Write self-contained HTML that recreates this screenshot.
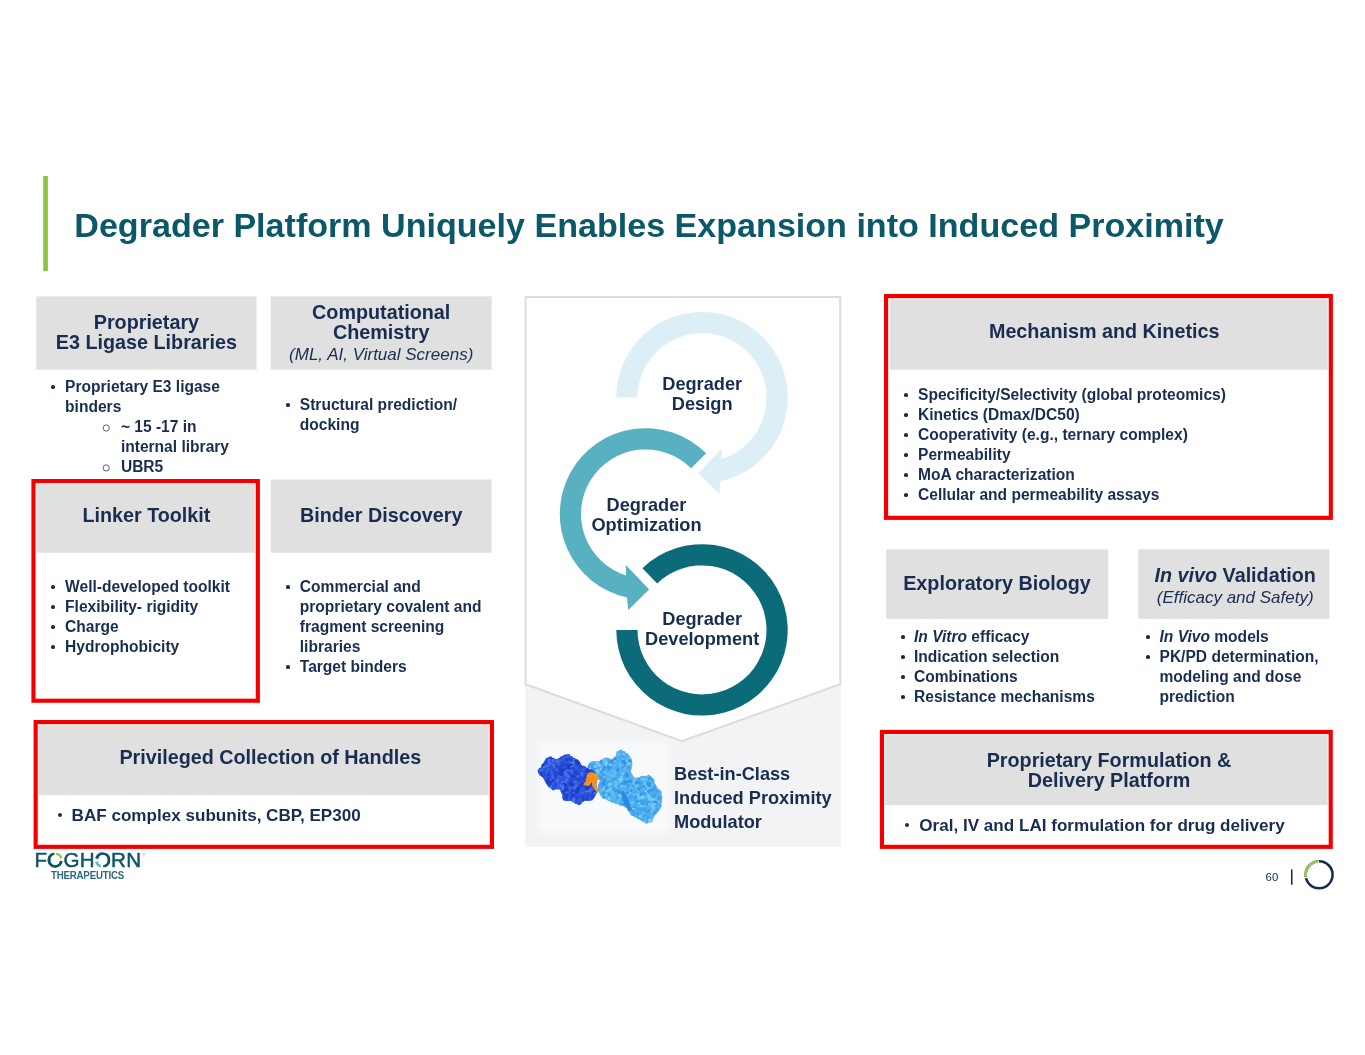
<!DOCTYPE html>
<html lang="en"><head><meta charset="utf-8"><title>Degrader Platform Uniquely Enables Expansion into Induced Proximity</title>
<style>
html,body{margin:0;padding:0;background:#fff;overflow:hidden;}
body{width:1365px;height:1055px;position:relative;overflow:hidden;font-family:"Liberation Sans",Arial,sans-serif;color:#182d50;}
svg.bg,svg.fg{position:absolute;left:0;top:0;}
.txt{position:absolute;left:0;top:0;width:1365px;height:1055px;overflow:hidden;will-change:transform;}
.t{position:absolute;margin:0;padding:0;white-space:nowrap;font-weight:bold;}
.title{color:#0a5868;}
.sub{font-weight:normal;font-style:italic;}
ul.b{list-style:none;}
ul.b li{position:relative;}
ul.b li::before{content:"";position:absolute;width:0.24em;height:0.24em;border-radius:50%;background:#182d50;left:calc(-1*var(--d) - 0.12em);top:var(--y);}
ul.sub2 li::before{display:none;}
.pg{font-weight:normal;}
.logo{font-weight:normal;color:#0e566a;letter-spacing:0.2px;-webkit-text-stroke:0.5px #0e566a;}
.reg{font-size:4px;-webkit-text-stroke:0;position:relative;top:-11px;left:1px;color:#6a8a96;letter-spacing:0}
.logo2{font-weight:bold;color:#2a6a80;letter-spacing:-0.2px;transform:scaleY(1.1);transform-origin:0 80%;}
</style></head>
<body>
<svg class="bg" width="1365" height="1055" viewBox="0 0 1365 1055">
<rect x="43.2" y="176" width="4.70" height="95.00" fill="#8cc63f"/>
<rect x="36.2" y="296.4" width="220.40" height="73.30" fill="#e0e0e0"/>
<rect x="270.7" y="296.4" width="220.90" height="73.30" fill="#e0e0e0"/>
<rect x="36.2" y="479.5" width="220.40" height="73.20" fill="#e0e0e0"/>
<rect x="270.7" y="479.5" width="220.90" height="73.20" fill="#e0e0e0"/>
<rect x="36.2" y="722" width="455.40" height="73.10" fill="#e0e0e0"/>
<rect x="889.6" y="297" width="439.80" height="72.70" fill="#e0e0e0"/>
<rect x="886.2" y="549.4" width="222.10" height="69.50" fill="#e0e0e0"/>
<rect x="1138.3" y="549.4" width="191.10" height="69.50" fill="#e0e0e0"/>
<rect x="882" y="732" width="447.40" height="73.10" fill="#e0e0e0"/>
<rect x="36.10" y="483.70" width="219.10" height="214.40" fill="none" stroke="#fff4f2" stroke-opacity="0.7" stroke-width="1.4"/>
<rect x="33.45" y="481.05" width="224.40" height="219.70" fill="none" stroke="#f20000" stroke-width="4.1"/>
<rect x="38.30" y="724.70" width="451.00" height="119.50" fill="none" stroke="#fff4f2" stroke-opacity="0.7" stroke-width="1.4"/>
<rect x="35.65" y="722.05" width="456.30" height="124.80" fill="none" stroke="#f20000" stroke-width="4.1"/>
<rect x="888.70" y="298.70" width="439.50" height="216.50" fill="none" stroke="#fff4f2" stroke-opacity="0.7" stroke-width="1.4"/>
<rect x="886.05" y="296.05" width="444.80" height="221.80" fill="none" stroke="#f20000" stroke-width="4.1"/>
<rect x="884.60" y="734.60" width="443.50" height="109.60" fill="none" stroke="#fff4f2" stroke-opacity="0.7" stroke-width="1.4"/>
<rect x="881.95" y="731.95" width="448.80" height="114.90" fill="none" stroke="#f20000" stroke-width="4.1"/>
<rect x="525" y="296.4" width="315.80" height="550.40" fill="#f2f3f5"/>
<path d="M525.6,297 L840.2,297 L840.2,684.3 L681.9,741.1 L525.6,684.3 Z" fill="#ffffff" stroke="#dcdcdc" stroke-width="2" stroke-linejoin="miter"/>
<path d="M616.30,397.60 A85.7,85.7 0 1 1 720.55,481.27 L719.28,493.66 L698.30,473.21 L721.64,448.76 L721.50,459.08 A64.5,64.5 0 1 0 637.50,397.60 Z" fill="#dceef6"/>
<path d="M706.10,453.30 A85.7,85.7 0 1 0 626.95,597.57 L628.22,609.96 L649.20,589.51 L625.86,565.06 L626.00,575.38 A64.5,64.5 0 1 1 691.11,468.29 Z" fill="#57b1c1"/>
<path d="M642.47,568.25 A85.7,85.7 0 1 1 616.30,629.90 L637.50,629.90 A64.5,64.5 0 1 0 657.19,583.50 Z" fill="#0b6b78"/>
<defs><filter id="soft" x="-20%" y="-20%" width="140%" height="140%"><feGaussianBlur stdDeviation="3"/></filter></defs>
<rect x="538" y="742" width="132" height="90" fill="#f8f9fa" filter="url(#soft)"/>
<circle cx="621.0" cy="751.3" r="1.7" fill="#52b2f0"/><circle cx="618.2" cy="753.0" r="2.0" fill="#52b2f0"/><circle cx="620.1" cy="753.0" r="2.0" fill="#52b2f0"/><circle cx="622.0" cy="753.0" r="2.0" fill="#52b2f0"/><circle cx="623.9" cy="753.0" r="2.0" fill="#52b2f0"/><circle cx="617.2" cy="754.7" r="1.5" fill="#4caeee"/><circle cx="619.1" cy="754.7" r="2.0" fill="#52b2f0"/><circle cx="621.0" cy="754.7" r="2.0" fill="#52b2f0"/><circle cx="622.9" cy="754.7" r="2.0" fill="#52b2f0"/><circle cx="624.8" cy="754.7" r="2.0" fill="#52b2f0"/><circle cx="626.7" cy="754.7" r="1.6" fill="#52b2f0"/><circle cx="618.2" cy="756.3" r="2.0" fill="#52b2f0"/><circle cx="620.1" cy="756.3" r="2.0" fill="#52b2f0"/><circle cx="622.0" cy="756.3" r="2.0" fill="#52b2f0"/><circle cx="623.9" cy="756.3" r="2.0" fill="#52b2f0"/><circle cx="625.8" cy="756.3" r="2.0" fill="#52b2f0"/><circle cx="627.7" cy="756.3" r="1.8" fill="#3f9fe8"/><circle cx="615.3" cy="758.0" r="1.6" fill="#4caeee"/><circle cx="617.2" cy="758.0" r="2.0" fill="#52b2f0"/><circle cx="619.1" cy="758.0" r="2.0" fill="#52b2f0"/><circle cx="621.0" cy="758.0" r="2.0" fill="#52b2f0"/><circle cx="622.9" cy="758.0" r="2.0" fill="#52b2f0"/><circle cx="624.8" cy="758.0" r="2.0" fill="#52b2f0"/><circle cx="626.7" cy="758.0" r="2.0" fill="#52b2f0"/><circle cx="628.6" cy="758.0" r="1.9" fill="#4caeee"/><circle cx="604.9" cy="759.6" r="1.8" fill="#3f9fe8"/><circle cx="606.8" cy="759.6" r="2.0" fill="#52b2f0"/><circle cx="608.7" cy="759.6" r="1.5" fill="#4caeee"/><circle cx="614.4" cy="759.6" r="2.0" fill="#52b2f0"/><circle cx="616.3" cy="759.6" r="2.0" fill="#52b2f0"/><circle cx="618.2" cy="759.6" r="2.0" fill="#52b2f0"/><circle cx="620.1" cy="759.6" r="2.0" fill="#52b2f0"/><circle cx="622.0" cy="759.6" r="2.0" fill="#52b2f0"/><circle cx="623.9" cy="759.6" r="2.0" fill="#52b2f0"/><circle cx="625.8" cy="759.6" r="2.0" fill="#52b2f0"/><circle cx="627.7" cy="759.6" r="2.0" fill="#52b2f0"/><circle cx="629.6" cy="759.6" r="2.0" fill="#52b2f0"/><circle cx="602.0" cy="761.3" r="2.0" fill="#52b2f0"/><circle cx="603.9" cy="761.3" r="2.0" fill="#52b2f0"/><circle cx="605.8" cy="761.3" r="2.0" fill="#52b2f0"/><circle cx="607.7" cy="761.3" r="2.0" fill="#52b2f0"/><circle cx="609.6" cy="761.3" r="2.0" fill="#52b2f0"/><circle cx="611.5" cy="761.3" r="2.0" fill="#52b2f0"/><circle cx="613.4" cy="761.3" r="2.0" fill="#52b2f0"/><circle cx="615.3" cy="761.3" r="2.0" fill="#52b2f0"/><circle cx="617.2" cy="761.3" r="2.0" fill="#52b2f0"/><circle cx="619.1" cy="761.3" r="2.0" fill="#52b2f0"/><circle cx="621.0" cy="761.3" r="2.0" fill="#52b2f0"/><circle cx="622.9" cy="761.3" r="2.0" fill="#52b2f0"/><circle cx="624.8" cy="761.3" r="2.0" fill="#52b2f0"/><circle cx="626.7" cy="761.3" r="2.0" fill="#52b2f0"/><circle cx="628.6" cy="761.3" r="2.0" fill="#52b2f0"/><circle cx="630.5" cy="761.3" r="1.6" fill="#52b2f0"/><circle cx="591.6" cy="762.9" r="1.4" fill="#3f9fe8"/><circle cx="593.5" cy="762.9" r="2.0" fill="#4caeee"/><circle cx="595.4" cy="762.9" r="2.0" fill="#52b2f0"/><circle cx="597.3" cy="762.9" r="2.0" fill="#52b2f0"/><circle cx="599.2" cy="762.9" r="2.0" fill="#52b2f0"/><circle cx="601.1" cy="762.9" r="2.0" fill="#52b2f0"/><circle cx="603.0" cy="762.9" r="2.0" fill="#52b2f0"/><circle cx="604.9" cy="762.9" r="2.0" fill="#52b2f0"/><circle cx="606.8" cy="762.9" r="2.0" fill="#52b2f0"/><circle cx="608.7" cy="762.9" r="2.0" fill="#52b2f0"/><circle cx="610.6" cy="762.9" r="2.0" fill="#52b2f0"/><circle cx="612.5" cy="762.9" r="2.0" fill="#52b2f0"/><circle cx="614.4" cy="762.9" r="2.0" fill="#52b2f0"/><circle cx="616.3" cy="762.9" r="2.0" fill="#52b2f0"/><circle cx="618.2" cy="762.9" r="2.0" fill="#52b2f0"/><circle cx="620.1" cy="762.9" r="2.0" fill="#52b2f0"/><circle cx="622.0" cy="762.9" r="2.0" fill="#52b2f0"/><circle cx="623.9" cy="762.9" r="2.0" fill="#52b2f0"/><circle cx="625.8" cy="762.9" r="2.0" fill="#52b2f0"/><circle cx="627.7" cy="762.9" r="2.0" fill="#52b2f0"/><circle cx="629.6" cy="762.9" r="2.0" fill="#52b2f0"/><circle cx="590.6" cy="764.6" r="2.0" fill="#52b2f0"/><circle cx="592.5" cy="764.6" r="2.0" fill="#52b2f0"/><circle cx="594.4" cy="764.6" r="2.0" fill="#52b2f0"/><circle cx="596.3" cy="764.6" r="2.0" fill="#52b2f0"/><circle cx="598.2" cy="764.6" r="2.0" fill="#52b2f0"/><circle cx="600.1" cy="764.6" r="2.0" fill="#52b2f0"/><circle cx="602.0" cy="764.6" r="2.0" fill="#52b2f0"/><circle cx="603.9" cy="764.6" r="2.0" fill="#52b2f0"/><circle cx="605.8" cy="764.6" r="2.0" fill="#52b2f0"/><circle cx="607.7" cy="764.6" r="2.0" fill="#52b2f0"/><circle cx="609.6" cy="764.6" r="2.0" fill="#52b2f0"/><circle cx="611.5" cy="764.6" r="2.0" fill="#52b2f0"/><circle cx="613.4" cy="764.6" r="2.0" fill="#52b2f0"/><circle cx="615.3" cy="764.6" r="2.0" fill="#52b2f0"/><circle cx="617.2" cy="764.6" r="2.0" fill="#52b2f0"/><circle cx="619.1" cy="764.6" r="2.0" fill="#52b2f0"/><circle cx="621.0" cy="764.6" r="2.0" fill="#52b2f0"/><circle cx="622.9" cy="764.6" r="2.0" fill="#52b2f0"/><circle cx="624.8" cy="764.6" r="2.0" fill="#52b2f0"/><circle cx="626.7" cy="764.6" r="2.0" fill="#52b2f0"/><circle cx="628.6" cy="764.6" r="2.0" fill="#52b2f0"/><circle cx="630.5" cy="764.6" r="2.0" fill="#52b2f0"/><circle cx="589.7" cy="766.2" r="2.0" fill="#3f9fe8"/><circle cx="591.6" cy="766.2" r="2.0" fill="#52b2f0"/><circle cx="593.5" cy="766.2" r="2.0" fill="#52b2f0"/><circle cx="595.4" cy="766.2" r="2.0" fill="#52b2f0"/><circle cx="597.3" cy="766.2" r="2.0" fill="#52b2f0"/><circle cx="599.2" cy="766.2" r="2.0" fill="#52b2f0"/><circle cx="601.1" cy="766.2" r="2.0" fill="#52b2f0"/><circle cx="603.0" cy="766.2" r="2.0" fill="#52b2f0"/><circle cx="604.9" cy="766.2" r="2.0" fill="#52b2f0"/><circle cx="606.8" cy="766.2" r="2.0" fill="#52b2f0"/><circle cx="608.7" cy="766.2" r="2.0" fill="#52b2f0"/><circle cx="610.6" cy="766.2" r="2.0" fill="#52b2f0"/><circle cx="612.5" cy="766.2" r="2.0" fill="#52b2f0"/><circle cx="614.4" cy="766.2" r="2.0" fill="#52b2f0"/><circle cx="616.3" cy="766.2" r="2.0" fill="#52b2f0"/><circle cx="618.2" cy="766.2" r="2.0" fill="#52b2f0"/><circle cx="620.1" cy="766.2" r="2.0" fill="#52b2f0"/><circle cx="622.0" cy="766.2" r="2.0" fill="#52b2f0"/><circle cx="623.9" cy="766.2" r="2.0" fill="#52b2f0"/><circle cx="625.8" cy="766.2" r="2.0" fill="#52b2f0"/><circle cx="627.7" cy="766.2" r="2.0" fill="#52b2f0"/><circle cx="629.6" cy="766.2" r="2.0" fill="#52b2f0"/><circle cx="592.5" cy="767.9" r="1.9" fill="#4caeee"/><circle cx="594.4" cy="767.9" r="2.0" fill="#52b2f0"/><circle cx="596.3" cy="767.9" r="2.0" fill="#52b2f0"/><circle cx="598.2" cy="767.9" r="2.0" fill="#52b2f0"/><circle cx="600.1" cy="767.9" r="2.0" fill="#52b2f0"/><circle cx="602.0" cy="767.9" r="2.0" fill="#52b2f0"/><circle cx="603.9" cy="767.9" r="2.0" fill="#52b2f0"/><circle cx="605.8" cy="767.9" r="2.0" fill="#52b2f0"/><circle cx="607.7" cy="767.9" r="2.0" fill="#52b2f0"/><circle cx="609.6" cy="767.9" r="2.0" fill="#52b2f0"/><circle cx="611.5" cy="767.9" r="2.0" fill="#52b2f0"/><circle cx="613.4" cy="767.9" r="2.0" fill="#52b2f0"/><circle cx="615.3" cy="767.9" r="2.0" fill="#52b2f0"/><circle cx="617.2" cy="767.9" r="2.0" fill="#52b2f0"/><circle cx="619.1" cy="767.9" r="2.0" fill="#52b2f0"/><circle cx="621.0" cy="767.9" r="2.0" fill="#52b2f0"/><circle cx="622.9" cy="767.9" r="2.0" fill="#52b2f0"/><circle cx="624.8" cy="767.9" r="2.0" fill="#52b2f0"/><circle cx="626.7" cy="767.9" r="2.0" fill="#52b2f0"/><circle cx="628.6" cy="767.9" r="2.0" fill="#52b2f0"/><circle cx="630.5" cy="767.9" r="1.3" fill="#4caeee"/><circle cx="595.4" cy="769.5" r="2.0" fill="#52b2f0"/><circle cx="597.3" cy="769.5" r="2.0" fill="#52b2f0"/><circle cx="599.2" cy="769.5" r="2.0" fill="#52b2f0"/><circle cx="601.1" cy="769.5" r="2.0" fill="#52b2f0"/><circle cx="603.0" cy="769.5" r="2.0" fill="#52b2f0"/><circle cx="604.9" cy="769.5" r="2.0" fill="#52b2f0"/><circle cx="606.8" cy="769.5" r="2.0" fill="#52b2f0"/><circle cx="608.7" cy="769.5" r="2.0" fill="#52b2f0"/><circle cx="610.6" cy="769.5" r="2.0" fill="#52b2f0"/><circle cx="612.5" cy="769.5" r="2.0" fill="#52b2f0"/><circle cx="614.4" cy="769.5" r="2.0" fill="#52b2f0"/><circle cx="616.3" cy="769.5" r="2.0" fill="#52b2f0"/><circle cx="618.2" cy="769.5" r="2.0" fill="#52b2f0"/><circle cx="620.1" cy="769.5" r="2.0" fill="#52b2f0"/><circle cx="622.0" cy="769.5" r="2.0" fill="#52b2f0"/><circle cx="623.9" cy="769.5" r="2.0" fill="#52b2f0"/><circle cx="625.8" cy="769.5" r="2.0" fill="#52b2f0"/><circle cx="627.7" cy="769.5" r="2.0" fill="#52b2f0"/><circle cx="629.6" cy="769.5" r="1.8" fill="#4caeee"/><circle cx="596.3" cy="771.2" r="1.9" fill="#52b2f0"/><circle cx="598.2" cy="771.2" r="2.0" fill="#52b2f0"/><circle cx="600.1" cy="771.2" r="2.0" fill="#52b2f0"/><circle cx="602.0" cy="771.2" r="2.0" fill="#52b2f0"/><circle cx="603.9" cy="771.2" r="2.0" fill="#52b2f0"/><circle cx="605.8" cy="771.2" r="2.0" fill="#52b2f0"/><circle cx="607.7" cy="771.2" r="2.0" fill="#52b2f0"/><circle cx="609.6" cy="771.2" r="2.0" fill="#52b2f0"/><circle cx="611.5" cy="771.2" r="2.0" fill="#52b2f0"/><circle cx="613.4" cy="771.2" r="2.0" fill="#52b2f0"/><circle cx="615.3" cy="771.2" r="2.0" fill="#52b2f0"/><circle cx="617.2" cy="771.2" r="2.0" fill="#52b2f0"/><circle cx="619.1" cy="771.2" r="2.0" fill="#52b2f0"/><circle cx="621.0" cy="771.2" r="2.0" fill="#52b2f0"/><circle cx="622.9" cy="771.2" r="2.0" fill="#52b2f0"/><circle cx="624.8" cy="771.2" r="2.0" fill="#52b2f0"/><circle cx="626.7" cy="771.2" r="2.0" fill="#52b2f0"/><circle cx="628.6" cy="771.2" r="2.0" fill="#52b2f0"/><circle cx="597.3" cy="772.8" r="1.4" fill="#52b2f0"/><circle cx="599.2" cy="772.8" r="2.0" fill="#52b2f0"/><circle cx="601.1" cy="772.8" r="2.0" fill="#52b2f0"/><circle cx="603.0" cy="772.8" r="2.0" fill="#52b2f0"/><circle cx="604.9" cy="772.8" r="2.0" fill="#52b2f0"/><circle cx="606.8" cy="772.8" r="2.0" fill="#52b2f0"/><circle cx="608.7" cy="772.8" r="2.0" fill="#52b2f0"/><circle cx="610.6" cy="772.8" r="2.0" fill="#52b2f0"/><circle cx="612.5" cy="772.8" r="2.0" fill="#52b2f0"/><circle cx="614.4" cy="772.8" r="2.0" fill="#52b2f0"/><circle cx="616.3" cy="772.8" r="2.0" fill="#52b2f0"/><circle cx="618.2" cy="772.8" r="2.0" fill="#52b2f0"/><circle cx="620.1" cy="772.8" r="2.0" fill="#52b2f0"/><circle cx="622.0" cy="772.8" r="2.0" fill="#52b2f0"/><circle cx="623.9" cy="772.8" r="2.0" fill="#52b2f0"/><circle cx="625.8" cy="772.8" r="2.0" fill="#52b2f0"/><circle cx="627.7" cy="772.8" r="2.0" fill="#52b2f0"/><circle cx="629.6" cy="772.8" r="1.6" fill="#4caeee"/><circle cx="598.2" cy="774.5" r="1.4" fill="#4caeee"/><circle cx="600.1" cy="774.5" r="2.0" fill="#52b2f0"/><circle cx="602.0" cy="774.5" r="2.0" fill="#52b2f0"/><circle cx="603.9" cy="774.5" r="2.0" fill="#52b2f0"/><circle cx="605.8" cy="774.5" r="2.0" fill="#52b2f0"/><circle cx="607.7" cy="774.5" r="2.0" fill="#52b2f0"/><circle cx="609.6" cy="774.5" r="2.0" fill="#52b2f0"/><circle cx="611.5" cy="774.5" r="2.0" fill="#52b2f0"/><circle cx="613.4" cy="774.5" r="2.0" fill="#52b2f0"/><circle cx="615.3" cy="774.5" r="2.0" fill="#52b2f0"/><circle cx="617.2" cy="774.5" r="2.0" fill="#52b2f0"/><circle cx="619.1" cy="774.5" r="2.0" fill="#52b2f0"/><circle cx="621.0" cy="774.5" r="2.0" fill="#52b2f0"/><circle cx="622.9" cy="774.5" r="2.0" fill="#52b2f0"/><circle cx="624.8" cy="774.5" r="2.0" fill="#52b2f0"/><circle cx="626.7" cy="774.5" r="2.0" fill="#52b2f0"/><circle cx="628.6" cy="774.5" r="2.0" fill="#52b2f0"/><circle cx="630.5" cy="774.5" r="1.7" fill="#4caeee"/><circle cx="599.2" cy="776.1" r="1.5" fill="#3f9fe8"/><circle cx="601.1" cy="776.1" r="2.0" fill="#52b2f0"/><circle cx="603.0" cy="776.1" r="2.0" fill="#52b2f0"/><circle cx="604.9" cy="776.1" r="2.0" fill="#52b2f0"/><circle cx="606.8" cy="776.1" r="2.0" fill="#52b2f0"/><circle cx="608.7" cy="776.1" r="2.0" fill="#52b2f0"/><circle cx="610.6" cy="776.1" r="2.0" fill="#52b2f0"/><circle cx="612.5" cy="776.1" r="2.0" fill="#52b2f0"/><circle cx="614.4" cy="776.1" r="2.0" fill="#52b2f0"/><circle cx="616.3" cy="776.1" r="2.0" fill="#52b2f0"/><circle cx="618.2" cy="776.1" r="2.0" fill="#52b2f0"/><circle cx="620.1" cy="776.1" r="2.0" fill="#52b2f0"/><circle cx="622.0" cy="776.1" r="2.0" fill="#52b2f0"/><circle cx="623.9" cy="776.1" r="2.0" fill="#52b2f0"/><circle cx="625.8" cy="776.1" r="2.0" fill="#52b2f0"/><circle cx="627.7" cy="776.1" r="2.0" fill="#52b2f0"/><circle cx="629.6" cy="776.1" r="2.0" fill="#52b2f0"/><circle cx="631.5" cy="776.1" r="1.7" fill="#52b2f0"/><circle cx="648.6" cy="776.1" r="1.4" fill="#4caeee"/><circle cx="600.1" cy="777.8" r="1.6" fill="#3f9fe8"/><circle cx="602.0" cy="777.8" r="2.0" fill="#52b2f0"/><circle cx="603.9" cy="777.8" r="2.0" fill="#52b2f0"/><circle cx="605.8" cy="777.8" r="2.0" fill="#52b2f0"/><circle cx="607.7" cy="777.8" r="2.0" fill="#52b2f0"/><circle cx="609.6" cy="777.8" r="2.0" fill="#52b2f0"/><circle cx="611.5" cy="777.8" r="2.0" fill="#52b2f0"/><circle cx="613.4" cy="777.8" r="2.0" fill="#52b2f0"/><circle cx="615.3" cy="777.8" r="2.0" fill="#52b2f0"/><circle cx="617.2" cy="777.8" r="2.0" fill="#52b2f0"/><circle cx="619.1" cy="777.8" r="2.0" fill="#52b2f0"/><circle cx="621.0" cy="777.8" r="2.0" fill="#52b2f0"/><circle cx="622.9" cy="777.8" r="2.0" fill="#52b2f0"/><circle cx="624.8" cy="777.8" r="2.0" fill="#52b2f0"/><circle cx="626.7" cy="777.8" r="2.0" fill="#52b2f0"/><circle cx="628.6" cy="777.8" r="2.0" fill="#52b2f0"/><circle cx="630.5" cy="777.8" r="2.0" fill="#52b2f0"/><circle cx="632.4" cy="777.8" r="1.8" fill="#4caeee"/><circle cx="641.9" cy="777.8" r="2.0" fill="#52b2f0"/><circle cx="643.8" cy="777.8" r="2.0" fill="#52b2f0"/><circle cx="645.7" cy="777.8" r="2.0" fill="#52b2f0"/><circle cx="647.6" cy="777.8" r="2.0" fill="#52b2f0"/><circle cx="649.5" cy="777.8" r="2.0" fill="#52b2f0"/><circle cx="601.1" cy="779.4" r="1.7" fill="#4caeee"/><circle cx="603.0" cy="779.4" r="2.0" fill="#52b2f0"/><circle cx="604.9" cy="779.4" r="2.0" fill="#52b2f0"/><circle cx="606.8" cy="779.4" r="2.0" fill="#52b2f0"/><circle cx="608.7" cy="779.4" r="2.0" fill="#52b2f0"/><circle cx="610.6" cy="779.4" r="2.0" fill="#52b2f0"/><circle cx="612.5" cy="779.4" r="2.0" fill="#52b2f0"/><circle cx="614.4" cy="779.4" r="2.0" fill="#52b2f0"/><circle cx="616.3" cy="779.4" r="2.0" fill="#52b2f0"/><circle cx="618.2" cy="779.4" r="2.0" fill="#52b2f0"/><circle cx="620.1" cy="779.4" r="2.0" fill="#52b2f0"/><circle cx="622.0" cy="779.4" r="2.0" fill="#52b2f0"/><circle cx="623.9" cy="779.4" r="2.0" fill="#52b2f0"/><circle cx="625.8" cy="779.4" r="2.0" fill="#52b2f0"/><circle cx="627.7" cy="779.4" r="2.0" fill="#52b2f0"/><circle cx="629.6" cy="779.4" r="2.0" fill="#52b2f0"/><circle cx="631.5" cy="779.4" r="2.0" fill="#52b2f0"/><circle cx="633.4" cy="779.4" r="2.0" fill="#52b2f0"/><circle cx="635.3" cy="779.4" r="2.0" fill="#52b2f0"/><circle cx="637.2" cy="779.4" r="2.0" fill="#52b2f0"/><circle cx="639.1" cy="779.4" r="1.9" fill="#3f9fe8"/><circle cx="641.0" cy="779.4" r="2.0" fill="#52b2f0"/><circle cx="642.9" cy="779.4" r="2.0" fill="#52b2f0"/><circle cx="644.8" cy="779.4" r="2.0" fill="#52b2f0"/><circle cx="646.7" cy="779.4" r="2.0" fill="#52b2f0"/><circle cx="648.6" cy="779.4" r="2.0" fill="#52b2f0"/><circle cx="650.5" cy="779.4" r="2.0" fill="#52b2f0"/><circle cx="652.4" cy="779.4" r="1.3" fill="#3f9fe8"/><circle cx="602.0" cy="781.1" r="2.0" fill="#52b2f0"/><circle cx="603.9" cy="781.1" r="2.0" fill="#52b2f0"/><circle cx="605.8" cy="781.1" r="2.0" fill="#52b2f0"/><circle cx="607.7" cy="781.1" r="2.0" fill="#52b2f0"/><circle cx="609.6" cy="781.1" r="2.0" fill="#52b2f0"/><circle cx="611.5" cy="781.1" r="2.0" fill="#52b2f0"/><circle cx="613.4" cy="781.1" r="2.0" fill="#52b2f0"/><circle cx="615.3" cy="781.1" r="2.0" fill="#52b2f0"/><circle cx="617.2" cy="781.1" r="2.0" fill="#52b2f0"/><circle cx="619.1" cy="781.1" r="2.0" fill="#52b2f0"/><circle cx="621.0" cy="781.1" r="2.0" fill="#52b2f0"/><circle cx="622.9" cy="781.1" r="2.0" fill="#52b2f0"/><circle cx="624.8" cy="781.1" r="2.0" fill="#52b2f0"/><circle cx="626.7" cy="781.1" r="2.0" fill="#52b2f0"/><circle cx="628.6" cy="781.1" r="2.0" fill="#52b2f0"/><circle cx="630.5" cy="781.1" r="2.0" fill="#52b2f0"/><circle cx="632.4" cy="781.1" r="2.0" fill="#52b2f0"/><circle cx="634.3" cy="781.1" r="2.0" fill="#52b2f0"/><circle cx="636.2" cy="781.1" r="2.0" fill="#52b2f0"/><circle cx="638.1" cy="781.1" r="2.0" fill="#52b2f0"/><circle cx="640.0" cy="781.1" r="2.0" fill="#52b2f0"/><circle cx="641.9" cy="781.1" r="2.0" fill="#52b2f0"/><circle cx="643.8" cy="781.1" r="2.0" fill="#52b2f0"/><circle cx="645.7" cy="781.1" r="2.0" fill="#52b2f0"/><circle cx="647.6" cy="781.1" r="2.0" fill="#52b2f0"/><circle cx="649.5" cy="781.1" r="2.0" fill="#52b2f0"/><circle cx="651.4" cy="781.1" r="2.0" fill="#52b2f0"/><circle cx="653.3" cy="781.1" r="1.4" fill="#3f9fe8"/><circle cx="601.1" cy="782.8" r="2.0" fill="#52b2f0"/><circle cx="603.0" cy="782.8" r="2.0" fill="#52b2f0"/><circle cx="604.9" cy="782.8" r="2.0" fill="#52b2f0"/><circle cx="606.8" cy="782.8" r="2.0" fill="#52b2f0"/><circle cx="608.7" cy="782.8" r="2.0" fill="#52b2f0"/><circle cx="610.6" cy="782.8" r="2.0" fill="#52b2f0"/><circle cx="612.5" cy="782.8" r="2.0" fill="#52b2f0"/><circle cx="614.4" cy="782.8" r="2.0" fill="#52b2f0"/><circle cx="616.3" cy="782.8" r="2.0" fill="#52b2f0"/><circle cx="618.2" cy="782.8" r="2.0" fill="#52b2f0"/><circle cx="620.1" cy="782.8" r="2.0" fill="#52b2f0"/><circle cx="622.0" cy="782.8" r="2.0" fill="#52b2f0"/><circle cx="623.9" cy="782.8" r="2.0" fill="#52b2f0"/><circle cx="625.8" cy="782.8" r="2.0" fill="#52b2f0"/><circle cx="627.7" cy="782.8" r="2.0" fill="#52b2f0"/><circle cx="629.6" cy="782.8" r="2.0" fill="#52b2f0"/><circle cx="631.5" cy="782.8" r="2.0" fill="#52b2f0"/><circle cx="633.4" cy="782.8" r="2.0" fill="#52b2f0"/><circle cx="635.3" cy="782.8" r="2.0" fill="#52b2f0"/><circle cx="637.2" cy="782.8" r="2.0" fill="#52b2f0"/><circle cx="639.1" cy="782.8" r="2.0" fill="#52b2f0"/><circle cx="641.0" cy="782.8" r="2.0" fill="#52b2f0"/><circle cx="642.9" cy="782.8" r="2.0" fill="#52b2f0"/><circle cx="644.8" cy="782.8" r="2.0" fill="#52b2f0"/><circle cx="646.7" cy="782.8" r="2.0" fill="#52b2f0"/><circle cx="648.6" cy="782.8" r="2.0" fill="#52b2f0"/><circle cx="650.5" cy="782.8" r="2.0" fill="#52b2f0"/><circle cx="652.4" cy="782.8" r="2.0" fill="#52b2f0"/><circle cx="600.1" cy="784.4" r="1.9" fill="#4caeee"/><circle cx="602.0" cy="784.4" r="2.0" fill="#52b2f0"/><circle cx="603.9" cy="784.4" r="2.0" fill="#52b2f0"/><circle cx="605.8" cy="784.4" r="2.0" fill="#52b2f0"/><circle cx="607.7" cy="784.4" r="2.0" fill="#52b2f0"/><circle cx="609.6" cy="784.4" r="2.0" fill="#52b2f0"/><circle cx="611.5" cy="784.4" r="2.0" fill="#52b2f0"/><circle cx="613.4" cy="784.4" r="2.0" fill="#52b2f0"/><circle cx="615.3" cy="784.4" r="2.0" fill="#52b2f0"/><circle cx="617.2" cy="784.4" r="2.0" fill="#52b2f0"/><circle cx="619.1" cy="784.4" r="2.0" fill="#52b2f0"/><circle cx="621.0" cy="784.4" r="2.0" fill="#52b2f0"/><circle cx="622.9" cy="784.4" r="2.0" fill="#52b2f0"/><circle cx="624.8" cy="784.4" r="2.0" fill="#52b2f0"/><circle cx="626.7" cy="784.4" r="2.0" fill="#52b2f0"/><circle cx="628.6" cy="784.4" r="2.0" fill="#52b2f0"/><circle cx="630.5" cy="784.4" r="2.0" fill="#52b2f0"/><circle cx="632.4" cy="784.4" r="2.0" fill="#52b2f0"/><circle cx="634.3" cy="784.4" r="2.0" fill="#52b2f0"/><circle cx="636.2" cy="784.4" r="2.0" fill="#52b2f0"/><circle cx="638.1" cy="784.4" r="2.0" fill="#52b2f0"/><circle cx="640.0" cy="784.4" r="2.0" fill="#52b2f0"/><circle cx="641.9" cy="784.4" r="2.0" fill="#52b2f0"/><circle cx="643.8" cy="784.4" r="2.0" fill="#52b2f0"/><circle cx="645.7" cy="784.4" r="2.0" fill="#52b2f0"/><circle cx="647.6" cy="784.4" r="2.0" fill="#52b2f0"/><circle cx="649.5" cy="784.4" r="2.0" fill="#52b2f0"/><circle cx="651.4" cy="784.4" r="2.0" fill="#52b2f0"/><circle cx="653.3" cy="784.4" r="2.0" fill="#52b2f0"/><circle cx="599.2" cy="786.1" r="1.5" fill="#3f9fe8"/><circle cx="601.1" cy="786.1" r="2.0" fill="#52b2f0"/><circle cx="603.0" cy="786.1" r="2.0" fill="#52b2f0"/><circle cx="604.9" cy="786.1" r="2.0" fill="#52b2f0"/><circle cx="606.8" cy="786.1" r="2.0" fill="#52b2f0"/><circle cx="608.7" cy="786.1" r="2.0" fill="#52b2f0"/><circle cx="610.6" cy="786.1" r="2.0" fill="#52b2f0"/><circle cx="612.5" cy="786.1" r="2.0" fill="#52b2f0"/><circle cx="614.4" cy="786.1" r="2.0" fill="#52b2f0"/><circle cx="616.3" cy="786.1" r="2.0" fill="#52b2f0"/><circle cx="618.2" cy="786.1" r="2.0" fill="#52b2f0"/><circle cx="620.1" cy="786.1" r="2.0" fill="#52b2f0"/><circle cx="622.0" cy="786.1" r="2.0" fill="#52b2f0"/><circle cx="623.9" cy="786.1" r="2.0" fill="#52b2f0"/><circle cx="625.8" cy="786.1" r="2.0" fill="#52b2f0"/><circle cx="627.7" cy="786.1" r="2.0" fill="#52b2f0"/><circle cx="629.6" cy="786.1" r="2.0" fill="#52b2f0"/><circle cx="631.5" cy="786.1" r="2.0" fill="#52b2f0"/><circle cx="633.4" cy="786.1" r="2.0" fill="#52b2f0"/><circle cx="635.3" cy="786.1" r="2.0" fill="#52b2f0"/><circle cx="637.2" cy="786.1" r="2.0" fill="#52b2f0"/><circle cx="639.1" cy="786.1" r="2.0" fill="#52b2f0"/><circle cx="641.0" cy="786.1" r="2.0" fill="#52b2f0"/><circle cx="642.9" cy="786.1" r="2.0" fill="#52b2f0"/><circle cx="644.8" cy="786.1" r="2.0" fill="#52b2f0"/><circle cx="646.7" cy="786.1" r="2.0" fill="#52b2f0"/><circle cx="648.6" cy="786.1" r="2.0" fill="#52b2f0"/><circle cx="650.5" cy="786.1" r="2.0" fill="#52b2f0"/><circle cx="652.4" cy="786.1" r="2.0" fill="#52b2f0"/><circle cx="654.3" cy="786.1" r="2.0" fill="#52b2f0"/><circle cx="600.1" cy="787.7" r="2.0" fill="#52b2f0"/><circle cx="602.0" cy="787.7" r="2.0" fill="#52b2f0"/><circle cx="603.9" cy="787.7" r="2.0" fill="#52b2f0"/><circle cx="605.8" cy="787.7" r="2.0" fill="#52b2f0"/><circle cx="607.7" cy="787.7" r="2.0" fill="#52b2f0"/><circle cx="609.6" cy="787.7" r="2.0" fill="#52b2f0"/><circle cx="611.5" cy="787.7" r="2.0" fill="#52b2f0"/><circle cx="613.4" cy="787.7" r="2.0" fill="#52b2f0"/><circle cx="615.3" cy="787.7" r="2.0" fill="#52b2f0"/><circle cx="617.2" cy="787.7" r="2.0" fill="#52b2f0"/><circle cx="619.1" cy="787.7" r="2.0" fill="#52b2f0"/><circle cx="621.0" cy="787.7" r="2.0" fill="#52b2f0"/><circle cx="622.9" cy="787.7" r="2.0" fill="#52b2f0"/><circle cx="624.8" cy="787.7" r="2.0" fill="#52b2f0"/><circle cx="626.7" cy="787.7" r="2.0" fill="#52b2f0"/><circle cx="628.6" cy="787.7" r="2.0" fill="#52b2f0"/><circle cx="630.5" cy="787.7" r="2.0" fill="#52b2f0"/><circle cx="632.4" cy="787.7" r="2.0" fill="#52b2f0"/><circle cx="634.3" cy="787.7" r="2.0" fill="#52b2f0"/><circle cx="636.2" cy="787.7" r="2.0" fill="#52b2f0"/><circle cx="638.1" cy="787.7" r="2.0" fill="#52b2f0"/><circle cx="640.0" cy="787.7" r="2.0" fill="#52b2f0"/><circle cx="641.9" cy="787.7" r="2.0" fill="#52b2f0"/><circle cx="643.8" cy="787.7" r="2.0" fill="#52b2f0"/><circle cx="645.7" cy="787.7" r="2.0" fill="#52b2f0"/><circle cx="647.6" cy="787.7" r="2.0" fill="#52b2f0"/><circle cx="649.5" cy="787.7" r="2.0" fill="#52b2f0"/><circle cx="651.4" cy="787.7" r="2.0" fill="#52b2f0"/><circle cx="653.3" cy="787.7" r="2.0" fill="#52b2f0"/><circle cx="655.2" cy="787.7" r="2.0" fill="#52b2f0"/><circle cx="599.2" cy="789.4" r="1.4" fill="#3f9fe8"/><circle cx="601.1" cy="789.4" r="2.0" fill="#52b2f0"/><circle cx="603.0" cy="789.4" r="2.0" fill="#52b2f0"/><circle cx="604.9" cy="789.4" r="2.0" fill="#52b2f0"/><circle cx="606.8" cy="789.4" r="2.0" fill="#52b2f0"/><circle cx="608.7" cy="789.4" r="2.0" fill="#52b2f0"/><circle cx="610.6" cy="789.4" r="2.0" fill="#52b2f0"/><circle cx="612.5" cy="789.4" r="2.0" fill="#52b2f0"/><circle cx="614.4" cy="789.4" r="2.0" fill="#52b2f0"/><circle cx="616.3" cy="789.4" r="2.0" fill="#52b2f0"/><circle cx="618.2" cy="789.4" r="2.0" fill="#52b2f0"/><circle cx="620.1" cy="789.4" r="2.0" fill="#52b2f0"/><circle cx="622.0" cy="789.4" r="2.0" fill="#52b2f0"/><circle cx="623.9" cy="789.4" r="2.0" fill="#52b2f0"/><circle cx="625.8" cy="789.4" r="2.0" fill="#52b2f0"/><circle cx="627.7" cy="789.4" r="2.0" fill="#52b2f0"/><circle cx="629.6" cy="789.4" r="2.0" fill="#52b2f0"/><circle cx="631.5" cy="789.4" r="2.0" fill="#52b2f0"/><circle cx="633.4" cy="789.4" r="2.0" fill="#52b2f0"/><circle cx="635.3" cy="789.4" r="2.0" fill="#52b2f0"/><circle cx="637.2" cy="789.4" r="2.0" fill="#52b2f0"/><circle cx="639.1" cy="789.4" r="2.0" fill="#52b2f0"/><circle cx="641.0" cy="789.4" r="2.0" fill="#52b2f0"/><circle cx="642.9" cy="789.4" r="2.0" fill="#52b2f0"/><circle cx="644.8" cy="789.4" r="2.0" fill="#52b2f0"/><circle cx="646.7" cy="789.4" r="2.0" fill="#52b2f0"/><circle cx="648.6" cy="789.4" r="2.0" fill="#52b2f0"/><circle cx="650.5" cy="789.4" r="2.0" fill="#52b2f0"/><circle cx="652.4" cy="789.4" r="2.0" fill="#52b2f0"/><circle cx="654.3" cy="789.4" r="2.0" fill="#52b2f0"/><circle cx="656.2" cy="789.4" r="2.0" fill="#52b2f0"/><circle cx="600.1" cy="791.0" r="2.0" fill="#52b2f0"/><circle cx="602.0" cy="791.0" r="2.0" fill="#52b2f0"/><circle cx="603.9" cy="791.0" r="2.0" fill="#52b2f0"/><circle cx="605.8" cy="791.0" r="2.0" fill="#52b2f0"/><circle cx="607.7" cy="791.0" r="2.0" fill="#52b2f0"/><circle cx="609.6" cy="791.0" r="2.0" fill="#52b2f0"/><circle cx="611.5" cy="791.0" r="2.0" fill="#52b2f0"/><circle cx="613.4" cy="791.0" r="2.0" fill="#52b2f0"/><circle cx="615.3" cy="791.0" r="2.0" fill="#52b2f0"/><circle cx="617.2" cy="791.0" r="2.0" fill="#52b2f0"/><circle cx="619.1" cy="791.0" r="2.0" fill="#52b2f0"/><circle cx="621.0" cy="791.0" r="2.0" fill="#52b2f0"/><circle cx="622.9" cy="791.0" r="2.0" fill="#52b2f0"/><circle cx="624.8" cy="791.0" r="2.0" fill="#52b2f0"/><circle cx="626.7" cy="791.0" r="2.0" fill="#52b2f0"/><circle cx="628.6" cy="791.0" r="2.0" fill="#52b2f0"/><circle cx="630.5" cy="791.0" r="2.0" fill="#52b2f0"/><circle cx="632.4" cy="791.0" r="2.0" fill="#52b2f0"/><circle cx="634.3" cy="791.0" r="2.0" fill="#52b2f0"/><circle cx="636.2" cy="791.0" r="2.0" fill="#52b2f0"/><circle cx="638.1" cy="791.0" r="2.0" fill="#52b2f0"/><circle cx="640.0" cy="791.0" r="2.0" fill="#52b2f0"/><circle cx="641.9" cy="791.0" r="2.0" fill="#52b2f0"/><circle cx="643.8" cy="791.0" r="2.0" fill="#52b2f0"/><circle cx="645.7" cy="791.0" r="2.0" fill="#52b2f0"/><circle cx="647.6" cy="791.0" r="2.0" fill="#52b2f0"/><circle cx="649.5" cy="791.0" r="2.0" fill="#52b2f0"/><circle cx="651.4" cy="791.0" r="2.0" fill="#52b2f0"/><circle cx="653.3" cy="791.0" r="2.0" fill="#52b2f0"/><circle cx="655.2" cy="791.0" r="2.0" fill="#52b2f0"/><circle cx="657.1" cy="791.0" r="2.0" fill="#52b2f0"/><circle cx="659.0" cy="791.0" r="1.7" fill="#52b2f0"/><circle cx="601.1" cy="792.7" r="2.0" fill="#52b2f0"/><circle cx="603.0" cy="792.7" r="2.0" fill="#52b2f0"/><circle cx="604.9" cy="792.7" r="2.0" fill="#52b2f0"/><circle cx="606.8" cy="792.7" r="2.0" fill="#52b2f0"/><circle cx="608.7" cy="792.7" r="2.0" fill="#52b2f0"/><circle cx="610.6" cy="792.7" r="2.0" fill="#52b2f0"/><circle cx="612.5" cy="792.7" r="2.0" fill="#52b2f0"/><circle cx="614.4" cy="792.7" r="2.0" fill="#52b2f0"/><circle cx="616.3" cy="792.7" r="2.0" fill="#52b2f0"/><circle cx="618.2" cy="792.7" r="2.0" fill="#52b2f0"/><circle cx="620.1" cy="792.7" r="2.0" fill="#52b2f0"/><circle cx="622.0" cy="792.7" r="2.0" fill="#52b2f0"/><circle cx="623.9" cy="792.7" r="2.0" fill="#52b2f0"/><circle cx="625.8" cy="792.7" r="2.0" fill="#52b2f0"/><circle cx="627.7" cy="792.7" r="2.0" fill="#52b2f0"/><circle cx="629.6" cy="792.7" r="2.0" fill="#52b2f0"/><circle cx="631.5" cy="792.7" r="2.0" fill="#52b2f0"/><circle cx="633.4" cy="792.7" r="2.0" fill="#52b2f0"/><circle cx="635.3" cy="792.7" r="2.0" fill="#52b2f0"/><circle cx="637.2" cy="792.7" r="2.0" fill="#52b2f0"/><circle cx="639.1" cy="792.7" r="2.0" fill="#52b2f0"/><circle cx="641.0" cy="792.7" r="2.0" fill="#52b2f0"/><circle cx="642.9" cy="792.7" r="2.0" fill="#52b2f0"/><circle cx="644.8" cy="792.7" r="2.0" fill="#52b2f0"/><circle cx="646.7" cy="792.7" r="2.0" fill="#52b2f0"/><circle cx="648.6" cy="792.7" r="2.0" fill="#52b2f0"/><circle cx="650.5" cy="792.7" r="2.0" fill="#52b2f0"/><circle cx="652.4" cy="792.7" r="2.0" fill="#52b2f0"/><circle cx="654.3" cy="792.7" r="2.0" fill="#52b2f0"/><circle cx="656.2" cy="792.7" r="2.0" fill="#52b2f0"/><circle cx="658.1" cy="792.7" r="2.0" fill="#52b2f0"/><circle cx="660.0" cy="792.7" r="1.8" fill="#4caeee"/><circle cx="602.0" cy="794.3" r="2.0" fill="#52b2f0"/><circle cx="603.9" cy="794.3" r="2.0" fill="#52b2f0"/><circle cx="605.8" cy="794.3" r="2.0" fill="#52b2f0"/><circle cx="607.7" cy="794.3" r="2.0" fill="#52b2f0"/><circle cx="609.6" cy="794.3" r="2.0" fill="#52b2f0"/><circle cx="611.5" cy="794.3" r="2.0" fill="#52b2f0"/><circle cx="613.4" cy="794.3" r="2.0" fill="#52b2f0"/><circle cx="615.3" cy="794.3" r="2.0" fill="#52b2f0"/><circle cx="617.2" cy="794.3" r="2.0" fill="#52b2f0"/><circle cx="619.1" cy="794.3" r="2.0" fill="#52b2f0"/><circle cx="621.0" cy="794.3" r="2.0" fill="#52b2f0"/><circle cx="622.9" cy="794.3" r="2.0" fill="#52b2f0"/><circle cx="624.8" cy="794.3" r="2.0" fill="#52b2f0"/><circle cx="626.7" cy="794.3" r="2.0" fill="#52b2f0"/><circle cx="628.6" cy="794.3" r="2.0" fill="#52b2f0"/><circle cx="630.5" cy="794.3" r="2.0" fill="#52b2f0"/><circle cx="632.4" cy="794.3" r="2.0" fill="#52b2f0"/><circle cx="634.3" cy="794.3" r="2.0" fill="#52b2f0"/><circle cx="636.2" cy="794.3" r="2.0" fill="#52b2f0"/><circle cx="638.1" cy="794.3" r="2.0" fill="#52b2f0"/><circle cx="640.0" cy="794.3" r="2.0" fill="#52b2f0"/><circle cx="641.9" cy="794.3" r="2.0" fill="#52b2f0"/><circle cx="643.8" cy="794.3" r="2.0" fill="#52b2f0"/><circle cx="645.7" cy="794.3" r="2.0" fill="#52b2f0"/><circle cx="647.6" cy="794.3" r="2.0" fill="#52b2f0"/><circle cx="649.5" cy="794.3" r="2.0" fill="#52b2f0"/><circle cx="651.4" cy="794.3" r="2.0" fill="#52b2f0"/><circle cx="653.3" cy="794.3" r="2.0" fill="#52b2f0"/><circle cx="655.2" cy="794.3" r="2.0" fill="#52b2f0"/><circle cx="657.1" cy="794.3" r="2.0" fill="#52b2f0"/><circle cx="659.0" cy="794.3" r="2.0" fill="#52b2f0"/><circle cx="603.0" cy="796.0" r="2.0" fill="#4caeee"/><circle cx="604.9" cy="796.0" r="2.0" fill="#52b2f0"/><circle cx="606.8" cy="796.0" r="2.0" fill="#52b2f0"/><circle cx="608.7" cy="796.0" r="2.0" fill="#52b2f0"/><circle cx="610.6" cy="796.0" r="2.0" fill="#52b2f0"/><circle cx="612.5" cy="796.0" r="2.0" fill="#52b2f0"/><circle cx="614.4" cy="796.0" r="2.0" fill="#52b2f0"/><circle cx="616.3" cy="796.0" r="2.0" fill="#52b2f0"/><circle cx="618.2" cy="796.0" r="2.0" fill="#52b2f0"/><circle cx="620.1" cy="796.0" r="2.0" fill="#52b2f0"/><circle cx="622.0" cy="796.0" r="2.0" fill="#52b2f0"/><circle cx="623.9" cy="796.0" r="2.0" fill="#52b2f0"/><circle cx="625.8" cy="796.0" r="2.0" fill="#52b2f0"/><circle cx="627.7" cy="796.0" r="2.0" fill="#52b2f0"/><circle cx="629.6" cy="796.0" r="2.0" fill="#52b2f0"/><circle cx="631.5" cy="796.0" r="2.0" fill="#52b2f0"/><circle cx="633.4" cy="796.0" r="2.0" fill="#52b2f0"/><circle cx="635.3" cy="796.0" r="2.0" fill="#52b2f0"/><circle cx="637.2" cy="796.0" r="2.0" fill="#52b2f0"/><circle cx="639.1" cy="796.0" r="2.0" fill="#52b2f0"/><circle cx="641.0" cy="796.0" r="2.0" fill="#52b2f0"/><circle cx="642.9" cy="796.0" r="2.0" fill="#52b2f0"/><circle cx="644.8" cy="796.0" r="2.0" fill="#52b2f0"/><circle cx="646.7" cy="796.0" r="2.0" fill="#52b2f0"/><circle cx="648.6" cy="796.0" r="2.0" fill="#52b2f0"/><circle cx="650.5" cy="796.0" r="2.0" fill="#52b2f0"/><circle cx="652.4" cy="796.0" r="2.0" fill="#52b2f0"/><circle cx="654.3" cy="796.0" r="2.0" fill="#52b2f0"/><circle cx="656.2" cy="796.0" r="2.0" fill="#52b2f0"/><circle cx="658.1" cy="796.0" r="2.0" fill="#52b2f0"/><circle cx="660.0" cy="796.0" r="2.0" fill="#52b2f0"/><circle cx="603.9" cy="797.6" r="1.5" fill="#4caeee"/><circle cx="605.8" cy="797.6" r="2.0" fill="#52b2f0"/><circle cx="607.7" cy="797.6" r="2.0" fill="#52b2f0"/><circle cx="609.6" cy="797.6" r="2.0" fill="#52b2f0"/><circle cx="611.5" cy="797.6" r="2.0" fill="#52b2f0"/><circle cx="613.4" cy="797.6" r="2.0" fill="#52b2f0"/><circle cx="615.3" cy="797.6" r="2.0" fill="#52b2f0"/><circle cx="617.2" cy="797.6" r="2.0" fill="#52b2f0"/><circle cx="619.1" cy="797.6" r="2.0" fill="#52b2f0"/><circle cx="621.0" cy="797.6" r="2.0" fill="#52b2f0"/><circle cx="622.9" cy="797.6" r="2.0" fill="#52b2f0"/><circle cx="624.8" cy="797.6" r="2.0" fill="#52b2f0"/><circle cx="626.7" cy="797.6" r="2.0" fill="#52b2f0"/><circle cx="628.6" cy="797.6" r="2.0" fill="#52b2f0"/><circle cx="630.5" cy="797.6" r="2.0" fill="#52b2f0"/><circle cx="632.4" cy="797.6" r="2.0" fill="#52b2f0"/><circle cx="634.3" cy="797.6" r="2.0" fill="#52b2f0"/><circle cx="636.2" cy="797.6" r="2.0" fill="#52b2f0"/><circle cx="638.1" cy="797.6" r="2.0" fill="#52b2f0"/><circle cx="640.0" cy="797.6" r="2.0" fill="#52b2f0"/><circle cx="641.9" cy="797.6" r="2.0" fill="#52b2f0"/><circle cx="643.8" cy="797.6" r="2.0" fill="#52b2f0"/><circle cx="645.7" cy="797.6" r="2.0" fill="#52b2f0"/><circle cx="647.6" cy="797.6" r="2.0" fill="#52b2f0"/><circle cx="649.5" cy="797.6" r="2.0" fill="#52b2f0"/><circle cx="651.4" cy="797.6" r="2.0" fill="#52b2f0"/><circle cx="653.3" cy="797.6" r="2.0" fill="#52b2f0"/><circle cx="655.2" cy="797.6" r="2.0" fill="#52b2f0"/><circle cx="657.1" cy="797.6" r="2.0" fill="#52b2f0"/><circle cx="659.0" cy="797.6" r="2.0" fill="#52b2f0"/><circle cx="660.9" cy="797.6" r="1.5" fill="#3f9fe8"/><circle cx="608.7" cy="799.3" r="1.8" fill="#4caeee"/><circle cx="610.6" cy="799.3" r="2.0" fill="#52b2f0"/><circle cx="612.5" cy="799.3" r="2.0" fill="#52b2f0"/><circle cx="614.4" cy="799.3" r="2.0" fill="#52b2f0"/><circle cx="616.3" cy="799.3" r="2.0" fill="#52b2f0"/><circle cx="618.2" cy="799.3" r="2.0" fill="#52b2f0"/><circle cx="620.1" cy="799.3" r="2.0" fill="#52b2f0"/><circle cx="622.0" cy="799.3" r="2.0" fill="#52b2f0"/><circle cx="623.9" cy="799.3" r="2.0" fill="#52b2f0"/><circle cx="625.8" cy="799.3" r="2.0" fill="#52b2f0"/><circle cx="627.7" cy="799.3" r="2.0" fill="#52b2f0"/><circle cx="629.6" cy="799.3" r="2.0" fill="#52b2f0"/><circle cx="631.5" cy="799.3" r="2.0" fill="#52b2f0"/><circle cx="633.4" cy="799.3" r="2.0" fill="#52b2f0"/><circle cx="635.3" cy="799.3" r="2.0" fill="#52b2f0"/><circle cx="637.2" cy="799.3" r="2.0" fill="#52b2f0"/><circle cx="639.1" cy="799.3" r="2.0" fill="#52b2f0"/><circle cx="641.0" cy="799.3" r="2.0" fill="#52b2f0"/><circle cx="642.9" cy="799.3" r="2.0" fill="#52b2f0"/><circle cx="644.8" cy="799.3" r="2.0" fill="#52b2f0"/><circle cx="646.7" cy="799.3" r="2.0" fill="#52b2f0"/><circle cx="648.6" cy="799.3" r="2.0" fill="#52b2f0"/><circle cx="650.5" cy="799.3" r="2.0" fill="#52b2f0"/><circle cx="652.4" cy="799.3" r="2.0" fill="#52b2f0"/><circle cx="654.3" cy="799.3" r="2.0" fill="#52b2f0"/><circle cx="656.2" cy="799.3" r="2.0" fill="#52b2f0"/><circle cx="658.1" cy="799.3" r="2.0" fill="#52b2f0"/><circle cx="660.0" cy="799.3" r="2.0" fill="#52b2f0"/><circle cx="611.5" cy="800.9" r="1.4" fill="#52b2f0"/><circle cx="613.4" cy="800.9" r="2.0" fill="#52b2f0"/><circle cx="615.3" cy="800.9" r="2.0" fill="#52b2f0"/><circle cx="617.2" cy="800.9" r="2.0" fill="#52b2f0"/><circle cx="619.1" cy="800.9" r="2.0" fill="#52b2f0"/><circle cx="621.0" cy="800.9" r="2.0" fill="#52b2f0"/><circle cx="622.9" cy="800.9" r="2.0" fill="#52b2f0"/><circle cx="624.8" cy="800.9" r="2.0" fill="#52b2f0"/><circle cx="626.7" cy="800.9" r="2.0" fill="#52b2f0"/><circle cx="628.6" cy="800.9" r="2.0" fill="#52b2f0"/><circle cx="630.5" cy="800.9" r="2.0" fill="#52b2f0"/><circle cx="632.4" cy="800.9" r="2.0" fill="#52b2f0"/><circle cx="634.3" cy="800.9" r="2.0" fill="#52b2f0"/><circle cx="636.2" cy="800.9" r="2.0" fill="#52b2f0"/><circle cx="638.1" cy="800.9" r="2.0" fill="#52b2f0"/><circle cx="640.0" cy="800.9" r="2.0" fill="#52b2f0"/><circle cx="641.9" cy="800.9" r="2.0" fill="#52b2f0"/><circle cx="643.8" cy="800.9" r="2.0" fill="#52b2f0"/><circle cx="645.7" cy="800.9" r="2.0" fill="#52b2f0"/><circle cx="647.6" cy="800.9" r="2.0" fill="#52b2f0"/><circle cx="649.5" cy="800.9" r="2.0" fill="#52b2f0"/><circle cx="651.4" cy="800.9" r="2.0" fill="#52b2f0"/><circle cx="653.3" cy="800.9" r="2.0" fill="#52b2f0"/><circle cx="655.2" cy="800.9" r="2.0" fill="#52b2f0"/><circle cx="657.1" cy="800.9" r="2.0" fill="#52b2f0"/><circle cx="659.0" cy="800.9" r="2.0" fill="#52b2f0"/><circle cx="660.9" cy="800.9" r="1.3" fill="#52b2f0"/><circle cx="616.3" cy="802.6" r="1.5" fill="#4caeee"/><circle cx="618.2" cy="802.6" r="2.0" fill="#52b2f0"/><circle cx="620.1" cy="802.6" r="2.0" fill="#52b2f0"/><circle cx="622.0" cy="802.6" r="2.0" fill="#52b2f0"/><circle cx="623.9" cy="802.6" r="2.0" fill="#52b2f0"/><circle cx="625.8" cy="802.6" r="2.0" fill="#52b2f0"/><circle cx="627.7" cy="802.6" r="2.0" fill="#52b2f0"/><circle cx="629.6" cy="802.6" r="2.0" fill="#52b2f0"/><circle cx="631.5" cy="802.6" r="2.0" fill="#52b2f0"/><circle cx="633.4" cy="802.6" r="2.0" fill="#52b2f0"/><circle cx="635.3" cy="802.6" r="2.0" fill="#52b2f0"/><circle cx="637.2" cy="802.6" r="2.0" fill="#52b2f0"/><circle cx="639.1" cy="802.6" r="2.0" fill="#52b2f0"/><circle cx="641.0" cy="802.6" r="2.0" fill="#52b2f0"/><circle cx="642.9" cy="802.6" r="2.0" fill="#52b2f0"/><circle cx="644.8" cy="802.6" r="2.0" fill="#52b2f0"/><circle cx="646.7" cy="802.6" r="2.0" fill="#52b2f0"/><circle cx="648.6" cy="802.6" r="2.0" fill="#52b2f0"/><circle cx="650.5" cy="802.6" r="2.0" fill="#52b2f0"/><circle cx="652.4" cy="802.6" r="2.0" fill="#52b2f0"/><circle cx="654.3" cy="802.6" r="2.0" fill="#52b2f0"/><circle cx="656.2" cy="802.6" r="2.0" fill="#52b2f0"/><circle cx="658.1" cy="802.6" r="2.0" fill="#52b2f0"/><circle cx="660.0" cy="802.6" r="2.0" fill="#52b2f0"/><circle cx="621.0" cy="804.2" r="1.6" fill="#3f9fe8"/><circle cx="622.9" cy="804.2" r="2.0" fill="#52b2f0"/><circle cx="624.8" cy="804.2" r="2.0" fill="#52b2f0"/><circle cx="626.7" cy="804.2" r="2.0" fill="#52b2f0"/><circle cx="628.6" cy="804.2" r="2.0" fill="#52b2f0"/><circle cx="630.5" cy="804.2" r="2.0" fill="#52b2f0"/><circle cx="632.4" cy="804.2" r="2.0" fill="#52b2f0"/><circle cx="634.3" cy="804.2" r="2.0" fill="#52b2f0"/><circle cx="636.2" cy="804.2" r="2.0" fill="#52b2f0"/><circle cx="638.1" cy="804.2" r="2.0" fill="#52b2f0"/><circle cx="640.0" cy="804.2" r="2.0" fill="#52b2f0"/><circle cx="641.9" cy="804.2" r="2.0" fill="#52b2f0"/><circle cx="643.8" cy="804.2" r="2.0" fill="#52b2f0"/><circle cx="645.7" cy="804.2" r="2.0" fill="#52b2f0"/><circle cx="647.6" cy="804.2" r="2.0" fill="#52b2f0"/><circle cx="649.5" cy="804.2" r="2.0" fill="#52b2f0"/><circle cx="651.4" cy="804.2" r="2.0" fill="#52b2f0"/><circle cx="653.3" cy="804.2" r="2.0" fill="#52b2f0"/><circle cx="655.2" cy="804.2" r="2.0" fill="#52b2f0"/><circle cx="657.1" cy="804.2" r="2.0" fill="#52b2f0"/><circle cx="659.0" cy="804.2" r="2.0" fill="#52b2f0"/><circle cx="625.8" cy="805.9" r="1.7" fill="#4caeee"/><circle cx="627.7" cy="805.9" r="2.0" fill="#52b2f0"/><circle cx="629.6" cy="805.9" r="2.0" fill="#52b2f0"/><circle cx="631.5" cy="805.9" r="2.0" fill="#52b2f0"/><circle cx="633.4" cy="805.9" r="2.0" fill="#52b2f0"/><circle cx="635.3" cy="805.9" r="2.0" fill="#52b2f0"/><circle cx="637.2" cy="805.9" r="2.0" fill="#52b2f0"/><circle cx="639.1" cy="805.9" r="2.0" fill="#52b2f0"/><circle cx="641.0" cy="805.9" r="2.0" fill="#52b2f0"/><circle cx="642.9" cy="805.9" r="2.0" fill="#52b2f0"/><circle cx="644.8" cy="805.9" r="2.0" fill="#52b2f0"/><circle cx="646.7" cy="805.9" r="2.0" fill="#52b2f0"/><circle cx="648.6" cy="805.9" r="2.0" fill="#52b2f0"/><circle cx="650.5" cy="805.9" r="2.0" fill="#52b2f0"/><circle cx="652.4" cy="805.9" r="2.0" fill="#52b2f0"/><circle cx="654.3" cy="805.9" r="2.0" fill="#52b2f0"/><circle cx="656.2" cy="805.9" r="2.0" fill="#52b2f0"/><circle cx="658.1" cy="805.9" r="2.0" fill="#52b2f0"/><circle cx="660.0" cy="805.9" r="1.7" fill="#3f9fe8"/><circle cx="628.6" cy="807.5" r="2.0" fill="#52b2f0"/><circle cx="630.5" cy="807.5" r="2.0" fill="#52b2f0"/><circle cx="632.4" cy="807.5" r="2.0" fill="#52b2f0"/><circle cx="634.3" cy="807.5" r="2.0" fill="#52b2f0"/><circle cx="636.2" cy="807.5" r="2.0" fill="#52b2f0"/><circle cx="638.1" cy="807.5" r="2.0" fill="#52b2f0"/><circle cx="640.0" cy="807.5" r="2.0" fill="#52b2f0"/><circle cx="641.9" cy="807.5" r="2.0" fill="#52b2f0"/><circle cx="643.8" cy="807.5" r="2.0" fill="#52b2f0"/><circle cx="645.7" cy="807.5" r="2.0" fill="#52b2f0"/><circle cx="647.6" cy="807.5" r="2.0" fill="#52b2f0"/><circle cx="649.5" cy="807.5" r="2.0" fill="#52b2f0"/><circle cx="651.4" cy="807.5" r="2.0" fill="#52b2f0"/><circle cx="653.3" cy="807.5" r="2.0" fill="#52b2f0"/><circle cx="655.2" cy="807.5" r="2.0" fill="#52b2f0"/><circle cx="657.1" cy="807.5" r="2.0" fill="#52b2f0"/><circle cx="659.0" cy="807.5" r="1.6" fill="#52b2f0"/><circle cx="629.6" cy="809.2" r="2.0" fill="#52b2f0"/><circle cx="631.5" cy="809.2" r="2.0" fill="#52b2f0"/><circle cx="633.4" cy="809.2" r="2.0" fill="#52b2f0"/><circle cx="635.3" cy="809.2" r="2.0" fill="#52b2f0"/><circle cx="637.2" cy="809.2" r="2.0" fill="#52b2f0"/><circle cx="639.1" cy="809.2" r="2.0" fill="#52b2f0"/><circle cx="641.0" cy="809.2" r="2.0" fill="#52b2f0"/><circle cx="642.9" cy="809.2" r="2.0" fill="#52b2f0"/><circle cx="644.8" cy="809.2" r="2.0" fill="#52b2f0"/><circle cx="646.7" cy="809.2" r="2.0" fill="#52b2f0"/><circle cx="648.6" cy="809.2" r="2.0" fill="#52b2f0"/><circle cx="650.5" cy="809.2" r="2.0" fill="#52b2f0"/><circle cx="652.4" cy="809.2" r="2.0" fill="#52b2f0"/><circle cx="654.3" cy="809.2" r="2.0" fill="#52b2f0"/><circle cx="656.2" cy="809.2" r="2.0" fill="#52b2f0"/><circle cx="658.1" cy="809.2" r="1.5" fill="#3f9fe8"/><circle cx="630.5" cy="810.9" r="2.0" fill="#52b2f0"/><circle cx="632.4" cy="810.9" r="2.0" fill="#52b2f0"/><circle cx="634.3" cy="810.9" r="2.0" fill="#52b2f0"/><circle cx="636.2" cy="810.9" r="2.0" fill="#52b2f0"/><circle cx="638.1" cy="810.9" r="2.0" fill="#52b2f0"/><circle cx="640.0" cy="810.9" r="2.0" fill="#52b2f0"/><circle cx="641.9" cy="810.9" r="2.0" fill="#52b2f0"/><circle cx="643.8" cy="810.9" r="2.0" fill="#52b2f0"/><circle cx="645.7" cy="810.9" r="2.0" fill="#52b2f0"/><circle cx="647.6" cy="810.9" r="2.0" fill="#52b2f0"/><circle cx="649.5" cy="810.9" r="2.0" fill="#52b2f0"/><circle cx="651.4" cy="810.9" r="2.0" fill="#52b2f0"/><circle cx="653.3" cy="810.9" r="2.0" fill="#52b2f0"/><circle cx="655.2" cy="810.9" r="2.0" fill="#52b2f0"/><circle cx="657.1" cy="810.9" r="1.4" fill="#3f9fe8"/><circle cx="631.5" cy="812.5" r="2.0" fill="#52b2f0"/><circle cx="633.4" cy="812.5" r="2.0" fill="#52b2f0"/><circle cx="635.3" cy="812.5" r="2.0" fill="#52b2f0"/><circle cx="637.2" cy="812.5" r="2.0" fill="#52b2f0"/><circle cx="639.1" cy="812.5" r="2.0" fill="#52b2f0"/><circle cx="641.0" cy="812.5" r="2.0" fill="#52b2f0"/><circle cx="642.9" cy="812.5" r="2.0" fill="#52b2f0"/><circle cx="644.8" cy="812.5" r="2.0" fill="#52b2f0"/><circle cx="646.7" cy="812.5" r="2.0" fill="#52b2f0"/><circle cx="648.6" cy="812.5" r="2.0" fill="#52b2f0"/><circle cx="650.5" cy="812.5" r="2.0" fill="#52b2f0"/><circle cx="652.4" cy="812.5" r="2.0" fill="#52b2f0"/><circle cx="654.3" cy="812.5" r="2.0" fill="#52b2f0"/><circle cx="632.4" cy="814.2" r="1.8" fill="#4caeee"/><circle cx="634.3" cy="814.2" r="2.0" fill="#52b2f0"/><circle cx="636.2" cy="814.2" r="2.0" fill="#52b2f0"/><circle cx="638.1" cy="814.2" r="2.0" fill="#52b2f0"/><circle cx="640.0" cy="814.2" r="2.0" fill="#52b2f0"/><circle cx="641.9" cy="814.2" r="2.0" fill="#52b2f0"/><circle cx="643.8" cy="814.2" r="2.0" fill="#52b2f0"/><circle cx="645.7" cy="814.2" r="2.0" fill="#52b2f0"/><circle cx="647.6" cy="814.2" r="2.0" fill="#52b2f0"/><circle cx="649.5" cy="814.2" r="2.0" fill="#52b2f0"/><circle cx="651.4" cy="814.2" r="2.0" fill="#52b2f0"/><circle cx="653.3" cy="814.2" r="2.0" fill="#52b2f0"/><circle cx="635.3" cy="815.8" r="1.6" fill="#4caeee"/><circle cx="637.2" cy="815.8" r="2.0" fill="#52b2f0"/><circle cx="639.1" cy="815.8" r="2.0" fill="#52b2f0"/><circle cx="641.0" cy="815.8" r="2.0" fill="#52b2f0"/><circle cx="642.9" cy="815.8" r="2.0" fill="#52b2f0"/><circle cx="644.8" cy="815.8" r="2.0" fill="#52b2f0"/><circle cx="646.7" cy="815.8" r="2.0" fill="#52b2f0"/><circle cx="648.6" cy="815.8" r="2.0" fill="#52b2f0"/><circle cx="650.5" cy="815.8" r="2.0" fill="#52b2f0"/><circle cx="652.4" cy="815.8" r="2.0" fill="#52b2f0"/><circle cx="638.1" cy="817.5" r="1.3" fill="#3f9fe8"/><circle cx="640.0" cy="817.5" r="2.0" fill="#52b2f0"/><circle cx="641.9" cy="817.5" r="2.0" fill="#52b2f0"/><circle cx="643.8" cy="817.5" r="2.0" fill="#52b2f0"/><circle cx="645.7" cy="817.5" r="2.0" fill="#52b2f0"/><circle cx="647.6" cy="817.5" r="2.0" fill="#52b2f0"/><circle cx="649.5" cy="817.5" r="2.0" fill="#52b2f0"/><circle cx="651.4" cy="817.5" r="2.0" fill="#3f9fe8"/><circle cx="641.0" cy="819.1" r="1.4" fill="#3f9fe8"/><circle cx="642.9" cy="819.1" r="2.0" fill="#52b2f0"/><circle cx="644.8" cy="819.1" r="2.0" fill="#52b2f0"/><circle cx="646.7" cy="819.1" r="2.0" fill="#52b2f0"/><circle cx="648.6" cy="819.1" r="2.0" fill="#52b2f0"/><circle cx="650.5" cy="819.1" r="2.0" fill="#52b2f0"/><circle cx="643.8" cy="820.8" r="1.5" fill="#4caeee"/><circle cx="645.7" cy="820.8" r="2.0" fill="#52b2f0"/><circle cx="647.6" cy="820.8" r="2.0" fill="#52b2f0"/><circle cx="649.5" cy="820.8" r="2.0" fill="#52b2f0"/><circle cx="651.4" cy="820.8" r="1.3" fill="#52b2f0"/><circle cx="646.7" cy="822.4" r="1.3" fill="#4caeee"/><circle cx="619.6" cy="751.7" r="1.4" fill="#52b2f0"/><circle cx="618.9" cy="754.9" r="1.9" fill="#7cc8f6"/><circle cx="621.2" cy="754.2" r="1.8" fill="#4caeee"/><circle cx="623.3" cy="755.2" r="1.7" fill="#7cc8f6"/><circle cx="619.0" cy="756.8" r="1.5" fill="#3f9fe8"/><circle cx="620.3" cy="756.7" r="1.7" fill="#52b2f0"/><circle cx="623.1" cy="757.3" r="2.1" fill="#3f9fe8"/><circle cx="625.8" cy="757.4" r="1.5" fill="#7cc8f6"/><circle cx="626.6" cy="755.8" r="1.7" fill="#4caeee"/><circle cx="608.3" cy="759.7" r="1.6" fill="#4caeee"/><circle cx="615.7" cy="758.6" r="1.8" fill="#3f9fe8"/><circle cx="618.3" cy="758.0" r="1.9" fill="#4caeee"/><circle cx="621.3" cy="758.4" r="1.5" fill="#3f9fe8"/><circle cx="623.0" cy="759.0" r="1.5" fill="#7cc8f6"/><circle cx="625.0" cy="758.2" r="1.6" fill="#4caeee"/><circle cx="628.3" cy="758.0" r="1.4" fill="#62bcf2"/><circle cx="601.4" cy="761.2" r="1.4" fill="#3f9fe8"/><circle cx="604.9" cy="760.5" r="1.8" fill="#7cc8f6"/><circle cx="605.6" cy="760.8" r="1.6" fill="#62bcf2"/><circle cx="609.8" cy="761.9" r="1.5" fill="#3394e2"/><circle cx="611.8" cy="761.4" r="1.9" fill="#3394e2"/><circle cx="614.5" cy="760.5" r="1.9" fill="#3394e2"/><circle cx="615.1" cy="761.8" r="1.9" fill="#62bcf2"/><circle cx="618.4" cy="761.7" r="2.0" fill="#52b2f0"/><circle cx="621.2" cy="761.7" r="1.8" fill="#4caeee"/><circle cx="623.4" cy="761.4" r="2.0" fill="#3394e2"/><circle cx="625.9" cy="761.5" r="1.5" fill="#4caeee"/><circle cx="626.6" cy="760.9" r="1.5" fill="#7cc8f6"/><circle cx="629.7" cy="761.4" r="1.8" fill="#3394e2"/><circle cx="592.4" cy="763.4" r="1.9" fill="#62bcf2"/><circle cx="594.5" cy="764.4" r="2.1" fill="#4caeee"/><circle cx="597.0" cy="762.6" r="1.8" fill="#7cc8f6"/><circle cx="600.7" cy="763.3" r="2.0" fill="#52b2f0"/><circle cx="601.1" cy="762.7" r="1.9" fill="#3f9fe8"/><circle cx="605.2" cy="762.8" r="2.0" fill="#62bcf2"/><circle cx="606.2" cy="762.7" r="1.7" fill="#7cc8f6"/><circle cx="609.7" cy="763.5" r="1.4" fill="#4caeee"/><circle cx="612.1" cy="763.9" r="1.7" fill="#3394e2"/><circle cx="612.8" cy="763.2" r="1.6" fill="#3f9fe8"/><circle cx="614.8" cy="764.0" r="2.0" fill="#4caeee"/><circle cx="619.0" cy="762.9" r="1.4" fill="#3394e2"/><circle cx="620.0" cy="763.2" r="1.7" fill="#62bcf2"/><circle cx="621.9" cy="764.3" r="1.9" fill="#4caeee"/><circle cx="624.6" cy="762.6" r="1.9" fill="#3394e2"/><circle cx="628.2" cy="763.0" r="1.6" fill="#62bcf2"/><circle cx="629.2" cy="764.0" r="1.9" fill="#7cc8f6"/><circle cx="591.5" cy="765.7" r="1.5" fill="#52b2f0"/><circle cx="592.3" cy="765.1" r="1.8" fill="#3f9fe8"/><circle cx="594.6" cy="765.3" r="1.8" fill="#4caeee"/><circle cx="597.9" cy="765.6" r="1.7" fill="#62bcf2"/><circle cx="599.1" cy="765.3" r="1.9" fill="#7cc8f6"/><circle cx="601.6" cy="766.7" r="1.5" fill="#62bcf2"/><circle cx="604.4" cy="766.4" r="2.0" fill="#4caeee"/><circle cx="606.1" cy="765.3" r="1.7" fill="#7cc8f6"/><circle cx="608.8" cy="765.4" r="2.0" fill="#4caeee"/><circle cx="610.5" cy="765.6" r="1.9" fill="#7cc8f6"/><circle cx="614.4" cy="765.8" r="1.5" fill="#62bcf2"/><circle cx="616.5" cy="766.7" r="1.6" fill="#4caeee"/><circle cx="617.5" cy="765.1" r="2.1" fill="#4caeee"/><circle cx="621.3" cy="766.2" r="1.9" fill="#7cc8f6"/><circle cx="621.9" cy="766.3" r="1.4" fill="#52b2f0"/><circle cx="624.5" cy="766.6" r="1.9" fill="#3f9fe8"/><circle cx="628.2" cy="766.0" r="1.8" fill="#7cc8f6"/><circle cx="630.0" cy="765.0" r="1.4" fill="#62bcf2"/><circle cx="593.3" cy="767.5" r="1.7" fill="#3f9fe8"/><circle cx="595.6" cy="767.7" r="2.1" fill="#7cc8f6"/><circle cx="597.6" cy="768.9" r="1.7" fill="#3394e2"/><circle cx="598.8" cy="768.3" r="2.0" fill="#4caeee"/><circle cx="601.4" cy="769.0" r="1.5" fill="#4caeee"/><circle cx="604.7" cy="767.5" r="1.7" fill="#3394e2"/><circle cx="607.4" cy="768.6" r="2.1" fill="#52b2f0"/><circle cx="608.6" cy="767.5" r="2.1" fill="#3394e2"/><circle cx="611.1" cy="767.7" r="1.9" fill="#3f9fe8"/><circle cx="614.5" cy="768.0" r="1.5" fill="#4caeee"/><circle cx="615.4" cy="767.8" r="2.1" fill="#4caeee"/><circle cx="618.2" cy="768.6" r="1.7" fill="#3f9fe8"/><circle cx="621.0" cy="768.0" r="1.4" fill="#7cc8f6"/><circle cx="622.1" cy="768.2" r="1.7" fill="#3f9fe8"/><circle cx="624.7" cy="768.9" r="1.4" fill="#7cc8f6"/><circle cx="626.8" cy="768.3" r="1.7" fill="#7cc8f6"/><circle cx="628.7" cy="767.2" r="2.0" fill="#3f9fe8"/><circle cx="594.9" cy="769.7" r="1.7" fill="#3394e2"/><circle cx="596.5" cy="770.5" r="1.6" fill="#7cc8f6"/><circle cx="600.5" cy="771.4" r="1.6" fill="#4caeee"/><circle cx="601.4" cy="770.2" r="2.1" fill="#7cc8f6"/><circle cx="603.6" cy="769.7" r="1.7" fill="#3394e2"/><circle cx="606.1" cy="770.5" r="1.9" fill="#4caeee"/><circle cx="609.5" cy="770.0" r="1.6" fill="#3f9fe8"/><circle cx="610.9" cy="770.9" r="1.5" fill="#52b2f0"/><circle cx="612.9" cy="769.9" r="1.6" fill="#62bcf2"/><circle cx="615.2" cy="769.5" r="1.6" fill="#52b2f0"/><circle cx="618.1" cy="769.9" r="2.0" fill="#3394e2"/><circle cx="620.3" cy="769.5" r="1.4" fill="#52b2f0"/><circle cx="623.4" cy="771.2" r="1.4" fill="#3f9fe8"/><circle cx="624.5" cy="769.5" r="1.8" fill="#62bcf2"/><circle cx="626.7" cy="769.5" r="1.8" fill="#52b2f0"/><circle cx="599.1" cy="771.7" r="2.0" fill="#7cc8f6"/><circle cx="601.2" cy="771.9" r="1.8" fill="#3f9fe8"/><circle cx="604.2" cy="772.0" r="1.4" fill="#62bcf2"/><circle cx="605.9" cy="773.3" r="1.7" fill="#62bcf2"/><circle cx="609.1" cy="772.4" r="1.8" fill="#52b2f0"/><circle cx="610.9" cy="772.0" r="1.5" fill="#4caeee"/><circle cx="612.7" cy="772.7" r="2.0" fill="#52b2f0"/><circle cx="615.4" cy="773.4" r="1.4" fill="#7cc8f6"/><circle cx="617.7" cy="772.9" r="1.8" fill="#4caeee"/><circle cx="621.2" cy="772.9" r="2.0" fill="#52b2f0"/><circle cx="623.0" cy="773.4" r="1.8" fill="#62bcf2"/><circle cx="625.7" cy="773.4" r="1.5" fill="#52b2f0"/><circle cx="626.4" cy="773.6" r="1.5" fill="#3f9fe8"/><circle cx="628.8" cy="772.2" r="1.9" fill="#52b2f0"/><circle cx="602.5" cy="775.6" r="1.5" fill="#7cc8f6"/><circle cx="603.9" cy="775.6" r="2.0" fill="#3394e2"/><circle cx="607.2" cy="775.9" r="1.4" fill="#3f9fe8"/><circle cx="609.1" cy="774.5" r="1.6" fill="#62bcf2"/><circle cx="610.7" cy="775.6" r="1.5" fill="#62bcf2"/><circle cx="614.4" cy="775.0" r="1.8" fill="#62bcf2"/><circle cx="615.8" cy="774.6" r="1.4" fill="#52b2f0"/><circle cx="617.9" cy="775.3" r="1.6" fill="#3f9fe8"/><circle cx="621.2" cy="774.3" r="1.9" fill="#4caeee"/><circle cx="623.2" cy="774.1" r="2.0" fill="#7cc8f6"/><circle cx="625.1" cy="775.2" r="2.0" fill="#4caeee"/><circle cx="626.8" cy="775.1" r="2.0" fill="#3394e2"/><circle cx="600.4" cy="777.9" r="1.7" fill="#3f9fe8"/><circle cx="602.9" cy="776.4" r="2.0" fill="#3f9fe8"/><circle cx="604.5" cy="777.4" r="1.8" fill="#62bcf2"/><circle cx="607.1" cy="776.8" r="2.0" fill="#4caeee"/><circle cx="608.0" cy="776.3" r="1.5" fill="#52b2f0"/><circle cx="610.3" cy="777.9" r="1.4" fill="#62bcf2"/><circle cx="613.8" cy="776.7" r="1.7" fill="#62bcf2"/><circle cx="616.0" cy="777.3" r="1.8" fill="#62bcf2"/><circle cx="617.4" cy="776.9" r="1.6" fill="#4caeee"/><circle cx="621.4" cy="777.7" r="1.7" fill="#62bcf2"/><circle cx="621.7" cy="778.0" r="1.9" fill="#7cc8f6"/><circle cx="624.2" cy="777.6" r="1.5" fill="#4caeee"/><circle cx="626.8" cy="777.6" r="1.5" fill="#3394e2"/><circle cx="630.4" cy="778.2" r="1.6" fill="#4caeee"/><circle cx="631.4" cy="777.4" r="1.7" fill="#62bcf2"/><circle cx="641.9" cy="778.0" r="1.5" fill="#52b2f0"/><circle cx="648.3" cy="777.7" r="1.9" fill="#62bcf2"/><circle cx="650.2" cy="778.0" r="1.9" fill="#4caeee"/><circle cx="602.6" cy="780.4" r="1.4" fill="#3394e2"/><circle cx="605.2" cy="778.8" r="1.5" fill="#4caeee"/><circle cx="605.7" cy="780.5" r="2.0" fill="#3394e2"/><circle cx="608.1" cy="780.1" r="1.8" fill="#7cc8f6"/><circle cx="610.4" cy="778.8" r="1.9" fill="#52b2f0"/><circle cx="613.1" cy="779.3" r="1.6" fill="#3f9fe8"/><circle cx="615.3" cy="779.2" r="1.9" fill="#3f9fe8"/><circle cx="618.9" cy="780.1" r="1.8" fill="#7cc8f6"/><circle cx="621.1" cy="779.8" r="1.4" fill="#7cc8f6"/><circle cx="621.8" cy="779.6" r="1.5" fill="#7cc8f6"/><circle cx="625.4" cy="779.7" r="1.6" fill="#4caeee"/><circle cx="627.4" cy="779.2" r="1.7" fill="#62bcf2"/><circle cx="629.0" cy="780.1" r="2.1" fill="#4caeee"/><circle cx="631.6" cy="778.8" r="1.9" fill="#52b2f0"/><circle cx="635.1" cy="779.8" r="2.1" fill="#62bcf2"/><circle cx="636.0" cy="780.5" r="1.6" fill="#52b2f0"/><circle cx="639.7" cy="779.1" r="1.5" fill="#3394e2"/><circle cx="641.6" cy="779.6" r="2.1" fill="#62bcf2"/><circle cx="644.0" cy="779.8" r="1.6" fill="#7cc8f6"/><circle cx="646.6" cy="780.4" r="1.9" fill="#7cc8f6"/><circle cx="648.8" cy="778.6" r="1.5" fill="#3f9fe8"/><circle cx="650.2" cy="779.7" r="1.5" fill="#3394e2"/><circle cx="601.5" cy="781.5" r="1.8" fill="#52b2f0"/><circle cx="603.8" cy="782.8" r="1.6" fill="#3394e2"/><circle cx="607.6" cy="781.2" r="1.9" fill="#52b2f0"/><circle cx="608.7" cy="782.9" r="2.0" fill="#3394e2"/><circle cx="610.8" cy="781.4" r="1.5" fill="#4caeee"/><circle cx="613.1" cy="782.7" r="1.7" fill="#4caeee"/><circle cx="615.6" cy="782.5" r="1.9" fill="#62bcf2"/><circle cx="619.1" cy="781.5" r="1.4" fill="#3f9fe8"/><circle cx="620.6" cy="781.7" r="1.9" fill="#7cc8f6"/><circle cx="623.1" cy="782.1" r="1.9" fill="#52b2f0"/><circle cx="625.3" cy="782.2" r="2.0" fill="#3394e2"/><circle cx="627.7" cy="782.6" r="1.9" fill="#3394e2"/><circle cx="628.8" cy="781.8" r="1.6" fill="#3394e2"/><circle cx="631.1" cy="781.7" r="1.9" fill="#3394e2"/><circle cx="634.6" cy="781.2" r="2.0" fill="#7cc8f6"/><circle cx="636.4" cy="782.1" r="1.7" fill="#3394e2"/><circle cx="639.1" cy="782.6" r="2.0" fill="#3f9fe8"/><circle cx="641.7" cy="781.7" r="1.7" fill="#4caeee"/><circle cx="642.5" cy="782.0" r="1.5" fill="#52b2f0"/><circle cx="645.7" cy="781.1" r="1.8" fill="#62bcf2"/><circle cx="647.4" cy="781.8" r="1.4" fill="#3f9fe8"/><circle cx="650.3" cy="781.7" r="2.1" fill="#52b2f0"/><circle cx="602.6" cy="783.6" r="1.8" fill="#3394e2"/><circle cx="603.7" cy="785.1" r="1.6" fill="#3394e2"/><circle cx="607.3" cy="784.8" r="1.7" fill="#3f9fe8"/><circle cx="609.4" cy="784.5" r="1.9" fill="#7cc8f6"/><circle cx="610.9" cy="784.9" r="1.6" fill="#7cc8f6"/><circle cx="613.9" cy="785.2" r="1.9" fill="#7cc8f6"/><circle cx="614.8" cy="784.6" r="1.6" fill="#52b2f0"/><circle cx="618.4" cy="783.8" r="1.7" fill="#62bcf2"/><circle cx="620.7" cy="784.5" r="1.7" fill="#3f9fe8"/><circle cx="623.4" cy="783.3" r="2.0" fill="#3f9fe8"/><circle cx="625.6" cy="783.5" r="2.0" fill="#3394e2"/><circle cx="627.5" cy="784.5" r="1.5" fill="#4caeee"/><circle cx="629.9" cy="783.7" r="1.5" fill="#52b2f0"/><circle cx="632.6" cy="783.6" r="1.7" fill="#52b2f0"/><circle cx="633.6" cy="784.0" r="1.8" fill="#62bcf2"/><circle cx="637.3" cy="784.4" r="1.9" fill="#3394e2"/><circle cx="639.6" cy="784.3" r="1.8" fill="#3f9fe8"/><circle cx="640.5" cy="784.6" r="1.8" fill="#3394e2"/><circle cx="644.1" cy="784.5" r="1.5" fill="#4caeee"/><circle cx="645.2" cy="783.7" r="1.5" fill="#7cc8f6"/><circle cx="648.1" cy="784.2" r="2.0" fill="#3394e2"/><circle cx="650.3" cy="784.2" r="1.8" fill="#3394e2"/><circle cx="651.6" cy="784.9" r="1.7" fill="#62bcf2"/><circle cx="602.6" cy="786.6" r="2.0" fill="#3f9fe8"/><circle cx="604.2" cy="786.3" r="1.8" fill="#3f9fe8"/><circle cx="606.2" cy="787.1" r="1.7" fill="#62bcf2"/><circle cx="609.9" cy="787.2" r="1.6" fill="#52b2f0"/><circle cx="611.5" cy="787.1" r="1.6" fill="#3f9fe8"/><circle cx="613.9" cy="785.7" r="2.1" fill="#4caeee"/><circle cx="616.4" cy="785.6" r="1.9" fill="#7cc8f6"/><circle cx="618.2" cy="785.6" r="1.6" fill="#4caeee"/><circle cx="619.5" cy="787.1" r="1.7" fill="#3394e2"/><circle cx="621.8" cy="786.5" r="1.8" fill="#7cc8f6"/><circle cx="625.2" cy="786.7" r="1.9" fill="#62bcf2"/><circle cx="628.1" cy="785.7" r="1.4" fill="#3394e2"/><circle cx="629.5" cy="787.0" r="1.5" fill="#52b2f0"/><circle cx="632.6" cy="786.3" r="1.5" fill="#3394e2"/><circle cx="633.2" cy="787.2" r="1.5" fill="#3f9fe8"/><circle cx="636.6" cy="786.0" r="1.6" fill="#7cc8f6"/><circle cx="637.9" cy="785.5" r="1.8" fill="#62bcf2"/><circle cx="642.0" cy="785.6" r="1.8" fill="#4caeee"/><circle cx="644.0" cy="787.0" r="1.7" fill="#3394e2"/><circle cx="646.5" cy="786.4" r="1.4" fill="#7cc8f6"/><circle cx="648.2" cy="787.5" r="1.9" fill="#52b2f0"/><circle cx="650.2" cy="786.3" r="1.5" fill="#3394e2"/><circle cx="652.5" cy="787.3" r="1.8" fill="#7cc8f6"/><circle cx="653.9" cy="786.9" r="1.5" fill="#4caeee"/><circle cx="600.5" cy="787.9" r="1.4" fill="#4caeee"/><circle cx="601.0" cy="789.1" r="2.0" fill="#4caeee"/><circle cx="604.1" cy="788.4" r="1.8" fill="#7cc8f6"/><circle cx="606.8" cy="788.4" r="2.1" fill="#3394e2"/><circle cx="608.8" cy="789.1" r="1.5" fill="#4caeee"/><circle cx="610.9" cy="789.1" r="1.8" fill="#7cc8f6"/><circle cx="613.5" cy="789.3" r="1.7" fill="#3f9fe8"/><circle cx="616.4" cy="788.9" r="1.6" fill="#4caeee"/><circle cx="618.3" cy="789.1" r="2.0" fill="#62bcf2"/><circle cx="620.1" cy="789.0" r="2.1" fill="#52b2f0"/><circle cx="622.9" cy="788.4" r="1.7" fill="#52b2f0"/><circle cx="624.8" cy="789.2" r="1.8" fill="#52b2f0"/><circle cx="627.9" cy="788.4" r="1.4" fill="#3f9fe8"/><circle cx="629.1" cy="788.1" r="2.0" fill="#4caeee"/><circle cx="631.5" cy="788.1" r="2.0" fill="#62bcf2"/><circle cx="633.5" cy="789.7" r="2.0" fill="#62bcf2"/><circle cx="636.9" cy="789.6" r="1.6" fill="#4caeee"/><circle cx="638.9" cy="788.8" r="1.7" fill="#3394e2"/><circle cx="642.0" cy="788.3" r="1.8" fill="#3394e2"/><circle cx="643.2" cy="789.2" r="2.0" fill="#62bcf2"/><circle cx="646.2" cy="789.4" r="1.7" fill="#4caeee"/><circle cx="648.1" cy="788.5" r="1.4" fill="#7cc8f6"/><circle cx="650.5" cy="789.6" r="2.0" fill="#62bcf2"/><circle cx="652.2" cy="788.8" r="1.5" fill="#52b2f0"/><circle cx="654.3" cy="788.2" r="1.9" fill="#3f9fe8"/><circle cx="601.6" cy="790.3" r="1.7" fill="#62bcf2"/><circle cx="604.9" cy="792.0" r="1.6" fill="#4caeee"/><circle cx="606.3" cy="792.1" r="1.7" fill="#4caeee"/><circle cx="608.0" cy="791.2" r="2.0" fill="#7cc8f6"/><circle cx="611.2" cy="791.8" r="2.0" fill="#62bcf2"/><circle cx="613.8" cy="791.9" r="1.9" fill="#4caeee"/><circle cx="615.3" cy="791.2" r="1.8" fill="#3394e2"/><circle cx="618.1" cy="790.5" r="2.0" fill="#3f9fe8"/><circle cx="621.3" cy="792.1" r="1.6" fill="#4caeee"/><circle cx="623.6" cy="792.0" r="1.4" fill="#62bcf2"/><circle cx="625.8" cy="791.8" r="1.4" fill="#62bcf2"/><circle cx="627.7" cy="791.4" r="2.1" fill="#4caeee"/><circle cx="628.8" cy="790.7" r="1.4" fill="#52b2f0"/><circle cx="632.3" cy="790.7" r="1.8" fill="#3394e2"/><circle cx="633.4" cy="790.7" r="1.6" fill="#4caeee"/><circle cx="636.2" cy="790.9" r="1.7" fill="#52b2f0"/><circle cx="639.6" cy="791.9" r="1.7" fill="#52b2f0"/><circle cx="641.7" cy="790.4" r="2.0" fill="#4caeee"/><circle cx="644.3" cy="791.8" r="2.0" fill="#52b2f0"/><circle cx="646.3" cy="792.0" r="2.0" fill="#7cc8f6"/><circle cx="648.7" cy="791.3" r="1.7" fill="#3f9fe8"/><circle cx="649.9" cy="790.6" r="1.5" fill="#3f9fe8"/><circle cx="651.9" cy="790.5" r="1.4" fill="#3394e2"/><circle cx="654.8" cy="791.9" r="1.7" fill="#52b2f0"/><circle cx="656.7" cy="790.9" r="1.5" fill="#3f9fe8"/><circle cx="601.5" cy="793.2" r="1.7" fill="#52b2f0"/><circle cx="603.4" cy="793.8" r="1.6" fill="#3394e2"/><circle cx="605.6" cy="794.0" r="1.6" fill="#52b2f0"/><circle cx="608.8" cy="794.0" r="2.1" fill="#3f9fe8"/><circle cx="610.6" cy="793.3" r="2.0" fill="#52b2f0"/><circle cx="613.1" cy="792.8" r="2.0" fill="#62bcf2"/><circle cx="616.3" cy="793.8" r="1.5" fill="#4caeee"/><circle cx="618.8" cy="794.2" r="1.9" fill="#3f9fe8"/><circle cx="619.7" cy="792.7" r="1.9" fill="#3394e2"/><circle cx="623.3" cy="793.6" r="1.5" fill="#4caeee"/><circle cx="625.4" cy="793.4" r="2.0" fill="#4caeee"/><circle cx="627.3" cy="793.1" r="1.6" fill="#3394e2"/><circle cx="630.3" cy="793.4" r="1.4" fill="#7cc8f6"/><circle cx="631.2" cy="793.7" r="1.6" fill="#62bcf2"/><circle cx="634.9" cy="793.1" r="1.5" fill="#3f9fe8"/><circle cx="636.6" cy="794.1" r="1.6" fill="#7cc8f6"/><circle cx="639.7" cy="792.5" r="1.6" fill="#52b2f0"/><circle cx="641.7" cy="794.1" r="1.6" fill="#3394e2"/><circle cx="644.1" cy="793.5" r="2.0" fill="#3f9fe8"/><circle cx="646.4" cy="794.3" r="1.7" fill="#62bcf2"/><circle cx="647.0" cy="794.0" r="1.5" fill="#52b2f0"/><circle cx="651.2" cy="792.8" r="1.5" fill="#4caeee"/><circle cx="652.2" cy="793.5" r="2.1" fill="#4caeee"/><circle cx="654.1" cy="793.8" r="1.5" fill="#4caeee"/><circle cx="657.9" cy="793.7" r="1.7" fill="#52b2f0"/><circle cx="602.9" cy="795.5" r="1.7" fill="#62bcf2"/><circle cx="604.3" cy="795.5" r="2.1" fill="#3f9fe8"/><circle cx="606.3" cy="795.2" r="1.6" fill="#7cc8f6"/><circle cx="609.6" cy="795.8" r="2.1" fill="#3f9fe8"/><circle cx="611.8" cy="796.4" r="1.4" fill="#62bcf2"/><circle cx="612.8" cy="796.1" r="1.6" fill="#7cc8f6"/><circle cx="616.1" cy="794.7" r="1.5" fill="#52b2f0"/><circle cx="617.2" cy="795.6" r="1.8" fill="#4caeee"/><circle cx="619.8" cy="795.5" r="1.7" fill="#7cc8f6"/><circle cx="623.0" cy="796.3" r="2.0" fill="#4caeee"/><circle cx="624.1" cy="796.0" r="1.6" fill="#3394e2"/><circle cx="627.5" cy="795.9" r="2.0" fill="#4caeee"/><circle cx="629.8" cy="795.2" r="1.8" fill="#7cc8f6"/><circle cx="631.4" cy="794.8" r="1.5" fill="#3f9fe8"/><circle cx="634.5" cy="794.9" r="1.8" fill="#62bcf2"/><circle cx="637.3" cy="794.9" r="1.8" fill="#52b2f0"/><circle cx="638.7" cy="795.7" r="2.0" fill="#7cc8f6"/><circle cx="641.3" cy="795.2" r="1.9" fill="#3394e2"/><circle cx="643.5" cy="796.4" r="1.8" fill="#62bcf2"/><circle cx="645.1" cy="795.5" r="1.8" fill="#3f9fe8"/><circle cx="647.9" cy="795.8" r="1.8" fill="#7cc8f6"/><circle cx="650.9" cy="794.8" r="1.6" fill="#52b2f0"/><circle cx="652.6" cy="795.5" r="1.8" fill="#4caeee"/><circle cx="655.7" cy="795.0" r="2.1" fill="#3f9fe8"/><circle cx="657.3" cy="795.7" r="1.6" fill="#52b2f0"/><circle cx="659.1" cy="796.2" r="1.5" fill="#4caeee"/><circle cx="609.2" cy="798.3" r="1.9" fill="#7cc8f6"/><circle cx="611.9" cy="797.0" r="1.9" fill="#62bcf2"/><circle cx="612.7" cy="797.8" r="2.1" fill="#52b2f0"/><circle cx="615.6" cy="798.6" r="2.0" fill="#62bcf2"/><circle cx="617.3" cy="798.7" r="1.9" fill="#3f9fe8"/><circle cx="620.8" cy="797.6" r="1.7" fill="#62bcf2"/><circle cx="622.9" cy="798.3" r="1.4" fill="#3394e2"/><circle cx="625.7" cy="798.0" r="1.7" fill="#52b2f0"/><circle cx="627.4" cy="798.6" r="1.7" fill="#7cc8f6"/><circle cx="629.8" cy="797.2" r="2.0" fill="#3f9fe8"/><circle cx="632.8" cy="798.2" r="1.6" fill="#3f9fe8"/><circle cx="633.6" cy="797.8" r="2.0" fill="#4caeee"/><circle cx="635.5" cy="797.5" r="2.0" fill="#3f9fe8"/><circle cx="639.6" cy="798.5" r="1.8" fill="#7cc8f6"/><circle cx="641.1" cy="798.0" r="1.9" fill="#7cc8f6"/><circle cx="643.3" cy="797.1" r="1.9" fill="#7cc8f6"/><circle cx="646.6" cy="798.3" r="1.8" fill="#4caeee"/><circle cx="647.8" cy="798.0" r="1.9" fill="#62bcf2"/><circle cx="649.6" cy="797.4" r="1.7" fill="#7cc8f6"/><circle cx="652.5" cy="798.2" r="2.1" fill="#3f9fe8"/><circle cx="655.3" cy="798.5" r="1.5" fill="#3f9fe8"/><circle cx="656.8" cy="798.9" r="2.0" fill="#62bcf2"/><circle cx="658.8" cy="798.3" r="1.6" fill="#3f9fe8"/><circle cx="613.0" cy="800.6" r="1.8" fill="#52b2f0"/><circle cx="615.9" cy="800.1" r="1.5" fill="#52b2f0"/><circle cx="618.1" cy="800.3" r="1.4" fill="#4caeee"/><circle cx="619.7" cy="800.3" r="2.0" fill="#62bcf2"/><circle cx="622.6" cy="800.9" r="1.9" fill="#3394e2"/><circle cx="625.5" cy="799.9" r="1.9" fill="#3f9fe8"/><circle cx="626.8" cy="799.4" r="1.8" fill="#62bcf2"/><circle cx="628.7" cy="799.7" r="1.8" fill="#4caeee"/><circle cx="631.0" cy="801.1" r="1.8" fill="#4caeee"/><circle cx="634.1" cy="800.5" r="1.6" fill="#4caeee"/><circle cx="635.8" cy="800.5" r="1.5" fill="#4caeee"/><circle cx="639.6" cy="800.9" r="1.6" fill="#62bcf2"/><circle cx="640.6" cy="801.1" r="2.1" fill="#4caeee"/><circle cx="642.9" cy="800.1" r="1.9" fill="#52b2f0"/><circle cx="645.5" cy="800.1" r="1.9" fill="#4caeee"/><circle cx="648.6" cy="799.8" r="1.5" fill="#3f9fe8"/><circle cx="650.1" cy="799.3" r="2.0" fill="#7cc8f6"/><circle cx="652.7" cy="799.5" r="1.8" fill="#7cc8f6"/><circle cx="654.6" cy="800.6" r="2.1" fill="#7cc8f6"/><circle cx="657.8" cy="800.0" r="1.6" fill="#52b2f0"/><circle cx="659.4" cy="800.0" r="1.7" fill="#3f9fe8"/><circle cx="618.1" cy="802.7" r="1.6" fill="#7cc8f6"/><circle cx="619.5" cy="803.0" r="1.5" fill="#4caeee"/><circle cx="622.5" cy="801.8" r="1.5" fill="#52b2f0"/><circle cx="624.6" cy="802.9" r="1.5" fill="#62bcf2"/><circle cx="628.1" cy="803.2" r="1.9" fill="#52b2f0"/><circle cx="628.7" cy="802.2" r="1.6" fill="#52b2f0"/><circle cx="632.5" cy="802.4" r="1.6" fill="#7cc8f6"/><circle cx="634.7" cy="803.4" r="2.0" fill="#52b2f0"/><circle cx="637.4" cy="801.9" r="1.7" fill="#3394e2"/><circle cx="639.2" cy="803.4" r="1.4" fill="#3394e2"/><circle cx="641.5" cy="802.1" r="2.0" fill="#3f9fe8"/><circle cx="644.2" cy="801.8" r="1.6" fill="#3f9fe8"/><circle cx="646.5" cy="803.1" r="1.9" fill="#4caeee"/><circle cx="647.8" cy="802.8" r="1.7" fill="#3f9fe8"/><circle cx="649.6" cy="803.1" r="1.8" fill="#3394e2"/><circle cx="652.9" cy="802.0" r="2.0" fill="#62bcf2"/><circle cx="654.9" cy="802.6" r="2.0" fill="#3394e2"/><circle cx="657.6" cy="802.3" r="1.4" fill="#3394e2"/><circle cx="659.1" cy="801.7" r="2.0" fill="#62bcf2"/><circle cx="623.3" cy="804.4" r="1.6" fill="#4caeee"/><circle cx="624.3" cy="804.6" r="1.5" fill="#3394e2"/><circle cx="626.9" cy="804.2" r="1.9" fill="#3394e2"/><circle cx="629.6" cy="805.3" r="1.4" fill="#3394e2"/><circle cx="631.8" cy="805.8" r="1.6" fill="#3f9fe8"/><circle cx="633.5" cy="805.3" r="1.8" fill="#52b2f0"/><circle cx="636.2" cy="805.5" r="1.8" fill="#52b2f0"/><circle cx="639.2" cy="804.2" r="2.1" fill="#7cc8f6"/><circle cx="641.8" cy="804.1" r="1.6" fill="#3f9fe8"/><circle cx="643.4" cy="804.0" r="2.0" fill="#3f9fe8"/><circle cx="645.1" cy="805.3" r="1.7" fill="#4caeee"/><circle cx="647.3" cy="804.8" r="1.8" fill="#3f9fe8"/><circle cx="649.6" cy="804.0" r="1.4" fill="#7cc8f6"/><circle cx="651.8" cy="805.3" r="2.1" fill="#62bcf2"/><circle cx="654.4" cy="805.2" r="2.1" fill="#7cc8f6"/><circle cx="656.6" cy="805.0" r="1.4" fill="#4caeee"/><circle cx="628.8" cy="806.3" r="1.7" fill="#52b2f0"/><circle cx="631.3" cy="806.9" r="1.4" fill="#62bcf2"/><circle cx="634.9" cy="807.8" r="1.7" fill="#3f9fe8"/><circle cx="635.6" cy="806.3" r="1.9" fill="#3f9fe8"/><circle cx="637.9" cy="806.2" r="2.1" fill="#52b2f0"/><circle cx="641.9" cy="806.5" r="1.6" fill="#7cc8f6"/><circle cx="644.0" cy="807.5" r="1.8" fill="#7cc8f6"/><circle cx="644.9" cy="806.8" r="1.7" fill="#62bcf2"/><circle cx="648.8" cy="807.9" r="2.1" fill="#62bcf2"/><circle cx="650.5" cy="807.8" r="1.4" fill="#3394e2"/><circle cx="652.3" cy="807.5" r="1.8" fill="#7cc8f6"/><circle cx="655.8" cy="807.2" r="1.9" fill="#3f9fe8"/><circle cx="657.9" cy="807.3" r="1.8" fill="#52b2f0"/><circle cx="629.0" cy="809.4" r="1.5" fill="#3f9fe8"/><circle cx="632.4" cy="808.6" r="1.6" fill="#3f9fe8"/><circle cx="633.3" cy="809.9" r="2.1" fill="#7cc8f6"/><circle cx="636.1" cy="809.9" r="1.7" fill="#4caeee"/><circle cx="639.0" cy="810.2" r="1.8" fill="#3394e2"/><circle cx="641.8" cy="808.8" r="1.9" fill="#3f9fe8"/><circle cx="644.0" cy="810.0" r="1.4" fill="#3f9fe8"/><circle cx="644.9" cy="809.2" r="1.9" fill="#3f9fe8"/><circle cx="648.4" cy="808.6" r="1.8" fill="#4caeee"/><circle cx="650.0" cy="809.1" r="1.8" fill="#4caeee"/><circle cx="653.4" cy="809.8" r="1.6" fill="#52b2f0"/><circle cx="655.3" cy="808.5" r="2.1" fill="#7cc8f6"/><circle cx="656.4" cy="808.5" r="1.5" fill="#3f9fe8"/><circle cx="632.9" cy="810.9" r="1.5" fill="#3394e2"/><circle cx="633.5" cy="811.6" r="1.4" fill="#3f9fe8"/><circle cx="636.2" cy="811.9" r="1.8" fill="#52b2f0"/><circle cx="639.8" cy="810.9" r="1.8" fill="#4caeee"/><circle cx="641.8" cy="812.3" r="1.8" fill="#3394e2"/><circle cx="642.6" cy="812.4" r="2.0" fill="#52b2f0"/><circle cx="646.4" cy="812.7" r="1.9" fill="#3f9fe8"/><circle cx="648.9" cy="811.5" r="1.7" fill="#3394e2"/><circle cx="649.8" cy="812.5" r="1.9" fill="#3f9fe8"/><circle cx="651.7" cy="811.5" r="1.6" fill="#7cc8f6"/><circle cx="654.9" cy="812.6" r="2.0" fill="#3f9fe8"/><circle cx="633.7" cy="814.4" r="1.4" fill="#3f9fe8"/><circle cx="637.3" cy="813.5" r="1.6" fill="#3394e2"/><circle cx="637.9" cy="814.1" r="1.8" fill="#3f9fe8"/><circle cx="640.4" cy="814.8" r="2.0" fill="#4caeee"/><circle cx="643.7" cy="813.8" r="1.7" fill="#62bcf2"/><circle cx="645.5" cy="815.0" r="2.0" fill="#4caeee"/><circle cx="648.8" cy="814.2" r="2.1" fill="#4caeee"/><circle cx="650.1" cy="814.5" r="2.0" fill="#52b2f0"/><circle cx="651.8" cy="813.4" r="1.5" fill="#4caeee"/><circle cx="639.4" cy="817.2" r="1.9" fill="#3f9fe8"/><circle cx="640.2" cy="816.5" r="1.7" fill="#7cc8f6"/><circle cx="644.3" cy="816.6" r="1.6" fill="#3f9fe8"/><circle cx="644.7" cy="816.8" r="1.6" fill="#3f9fe8"/><circle cx="647.4" cy="816.9" r="1.8" fill="#3f9fe8"/><circle cx="651.1" cy="816.4" r="2.1" fill="#52b2f0"/><circle cx="643.5" cy="819.4" r="2.1" fill="#4caeee"/><circle cx="645.4" cy="818.1" r="2.1" fill="#52b2f0"/><circle cx="648.5" cy="818.2" r="1.5" fill="#3f9fe8"/><circle cx="649.8" cy="819.6" r="1.5" fill="#4caeee"/><circle cx="645.7" cy="820.4" r="1.5" fill="#62bcf2"/><circle cx="647.7" cy="820.4" r="1.5" fill="#3f9fe8"/><circle cx="649.8" cy="820.3" r="2.0" fill="#7cc8f6"/>
<circle cx="623.1" cy="794.1" r="2.0" fill="#2a8ade"/><circle cx="624.1" cy="795.8" r="2.0" fill="#2a8ade"/><circle cx="625.0" cy="797.4" r="2.0" fill="#2a8ade"/><circle cx="626.0" cy="799.1" r="2.0" fill="#2a8ade"/><circle cx="625.0" cy="800.8" r="2.0" fill="#2a8ade"/><circle cx="626.9" cy="800.8" r="2.0" fill="#2a8ade"/><circle cx="626.0" cy="802.4" r="2.0" fill="#2a8ade"/><circle cx="626.9" cy="804.1" r="2.0" fill="#2a8ade"/><circle cx="627.9" cy="805.7" r="2.0" fill="#2a8ade"/><circle cx="628.8" cy="807.4" r="2.0" fill="#2a8ade"/><circle cx="629.8" cy="809.0" r="2.0" fill="#2a8ade"/><circle cx="622.6" cy="791.7" r="1.3" fill="#2a8ade"/><circle cx="624.6" cy="796.7" r="1.6" fill="#2a8ade"/><circle cx="624.9" cy="798.7" r="1.5" fill="#2a8ade"/><circle cx="625.8" cy="802.6" r="1.2" fill="#2a8ade"/><circle cx="627.9" cy="802.3" r="1.4" fill="#2a8ade"/><circle cx="627.5" cy="804.1" r="1.7" fill="#2a8ade"/><circle cx="628.4" cy="807.0" r="1.3" fill="#2a8ade"/><circle cx="629.9" cy="808.2" r="1.3" fill="#2a8ade"/>
<circle cx="564.7" cy="756.0" r="1.5" fill="#2044ca"/><circle cx="566.6" cy="756.0" r="1.7" fill="#274dd8"/><circle cx="568.5" cy="756.0" r="1.9" fill="#2c53de"/><circle cx="550.5" cy="757.6" r="1.4" fill="#274dd8"/><circle cx="561.9" cy="757.6" r="1.6" fill="#2c53de"/><circle cx="563.8" cy="757.6" r="2.0" fill="#2c53de"/><circle cx="565.7" cy="757.6" r="2.0" fill="#2c53de"/><circle cx="567.6" cy="757.6" r="2.0" fill="#2c53de"/><circle cx="569.5" cy="757.6" r="2.0" fill="#2c53de"/><circle cx="571.4" cy="757.6" r="1.7" fill="#2c53de"/><circle cx="547.6" cy="759.3" r="1.9" fill="#274dd8"/><circle cx="549.5" cy="759.3" r="2.0" fill="#2c53de"/><circle cx="551.4" cy="759.3" r="2.0" fill="#2c53de"/><circle cx="553.3" cy="759.3" r="1.6" fill="#2044ca"/><circle cx="559.0" cy="759.3" r="1.4" fill="#2c53de"/><circle cx="560.9" cy="759.3" r="2.0" fill="#2c53de"/><circle cx="562.8" cy="759.3" r="2.0" fill="#2c53de"/><circle cx="564.7" cy="759.3" r="2.0" fill="#2c53de"/><circle cx="566.6" cy="759.3" r="2.0" fill="#2c53de"/><circle cx="568.5" cy="759.3" r="2.0" fill="#2c53de"/><circle cx="570.4" cy="759.3" r="2.0" fill="#2c53de"/><circle cx="572.3" cy="759.3" r="2.0" fill="#2c53de"/><circle cx="574.2" cy="759.3" r="1.5" fill="#274dd8"/><circle cx="546.7" cy="760.9" r="2.0" fill="#2c53de"/><circle cx="548.6" cy="760.9" r="2.0" fill="#2c53de"/><circle cx="550.5" cy="760.9" r="2.0" fill="#2c53de"/><circle cx="552.4" cy="760.9" r="2.0" fill="#2c53de"/><circle cx="554.3" cy="760.9" r="2.0" fill="#2c53de"/><circle cx="556.2" cy="760.9" r="1.9" fill="#2044ca"/><circle cx="558.1" cy="760.9" r="2.0" fill="#2c53de"/><circle cx="560.0" cy="760.9" r="2.0" fill="#2c53de"/><circle cx="561.9" cy="760.9" r="2.0" fill="#2c53de"/><circle cx="563.8" cy="760.9" r="2.0" fill="#2c53de"/><circle cx="565.7" cy="760.9" r="2.0" fill="#2c53de"/><circle cx="567.6" cy="760.9" r="2.0" fill="#2c53de"/><circle cx="569.5" cy="760.9" r="2.0" fill="#2c53de"/><circle cx="571.4" cy="760.9" r="2.0" fill="#2c53de"/><circle cx="573.3" cy="760.9" r="2.0" fill="#2c53de"/><circle cx="575.2" cy="760.9" r="2.0" fill="#2c53de"/><circle cx="577.1" cy="760.9" r="1.7" fill="#2044ca"/><circle cx="545.7" cy="762.6" r="2.0" fill="#2c53de"/><circle cx="547.6" cy="762.6" r="2.0" fill="#2c53de"/><circle cx="549.5" cy="762.6" r="2.0" fill="#2c53de"/><circle cx="551.4" cy="762.6" r="2.0" fill="#2c53de"/><circle cx="553.3" cy="762.6" r="2.0" fill="#2c53de"/><circle cx="555.2" cy="762.6" r="2.0" fill="#2c53de"/><circle cx="557.1" cy="762.6" r="2.0" fill="#2c53de"/><circle cx="559.0" cy="762.6" r="2.0" fill="#2c53de"/><circle cx="560.9" cy="762.6" r="2.0" fill="#2c53de"/><circle cx="562.8" cy="762.6" r="2.0" fill="#2c53de"/><circle cx="564.7" cy="762.6" r="2.0" fill="#2c53de"/><circle cx="566.6" cy="762.6" r="2.0" fill="#2c53de"/><circle cx="568.5" cy="762.6" r="2.0" fill="#2c53de"/><circle cx="570.4" cy="762.6" r="2.0" fill="#2c53de"/><circle cx="572.3" cy="762.6" r="2.0" fill="#2c53de"/><circle cx="574.2" cy="762.6" r="2.0" fill="#2c53de"/><circle cx="576.1" cy="762.6" r="2.0" fill="#2c53de"/><circle cx="578.0" cy="762.6" r="2.0" fill="#2c53de"/><circle cx="544.8" cy="764.2" r="2.0" fill="#2c53de"/><circle cx="546.7" cy="764.2" r="2.0" fill="#2c53de"/><circle cx="548.6" cy="764.2" r="2.0" fill="#2c53de"/><circle cx="550.5" cy="764.2" r="2.0" fill="#2c53de"/><circle cx="552.4" cy="764.2" r="2.0" fill="#2c53de"/><circle cx="554.3" cy="764.2" r="2.0" fill="#2c53de"/><circle cx="556.2" cy="764.2" r="2.0" fill="#2c53de"/><circle cx="558.1" cy="764.2" r="2.0" fill="#2c53de"/><circle cx="560.0" cy="764.2" r="2.0" fill="#2c53de"/><circle cx="561.9" cy="764.2" r="2.0" fill="#2c53de"/><circle cx="563.8" cy="764.2" r="2.0" fill="#2c53de"/><circle cx="565.7" cy="764.2" r="2.0" fill="#2c53de"/><circle cx="567.6" cy="764.2" r="2.0" fill="#2c53de"/><circle cx="569.5" cy="764.2" r="2.0" fill="#2c53de"/><circle cx="571.4" cy="764.2" r="2.0" fill="#2c53de"/><circle cx="573.3" cy="764.2" r="2.0" fill="#2c53de"/><circle cx="575.2" cy="764.2" r="2.0" fill="#2c53de"/><circle cx="577.1" cy="764.2" r="2.0" fill="#2c53de"/><circle cx="579.0" cy="764.2" r="2.0" fill="#2c53de"/><circle cx="543.8" cy="765.9" r="2.0" fill="#2c53de"/><circle cx="545.7" cy="765.9" r="2.0" fill="#2c53de"/><circle cx="547.6" cy="765.9" r="2.0" fill="#2c53de"/><circle cx="549.5" cy="765.9" r="2.0" fill="#2c53de"/><circle cx="551.4" cy="765.9" r="2.0" fill="#2c53de"/><circle cx="553.3" cy="765.9" r="2.0" fill="#2c53de"/><circle cx="555.2" cy="765.9" r="2.0" fill="#2c53de"/><circle cx="557.1" cy="765.9" r="2.0" fill="#2c53de"/><circle cx="559.0" cy="765.9" r="2.0" fill="#2c53de"/><circle cx="560.9" cy="765.9" r="2.0" fill="#2c53de"/><circle cx="562.8" cy="765.9" r="2.0" fill="#2c53de"/><circle cx="564.7" cy="765.9" r="2.0" fill="#2c53de"/><circle cx="566.6" cy="765.9" r="2.0" fill="#2c53de"/><circle cx="568.5" cy="765.9" r="2.0" fill="#2c53de"/><circle cx="570.4" cy="765.9" r="2.0" fill="#2c53de"/><circle cx="572.3" cy="765.9" r="2.0" fill="#2c53de"/><circle cx="574.2" cy="765.9" r="2.0" fill="#2c53de"/><circle cx="576.1" cy="765.9" r="2.0" fill="#2c53de"/><circle cx="578.0" cy="765.9" r="2.0" fill="#2c53de"/><circle cx="579.9" cy="765.9" r="2.0" fill="#2c53de"/><circle cx="542.9" cy="767.5" r="2.0" fill="#2c53de"/><circle cx="544.8" cy="767.5" r="2.0" fill="#2c53de"/><circle cx="546.7" cy="767.5" r="2.0" fill="#2c53de"/><circle cx="548.6" cy="767.5" r="2.0" fill="#2c53de"/><circle cx="550.5" cy="767.5" r="2.0" fill="#2c53de"/><circle cx="552.4" cy="767.5" r="2.0" fill="#2c53de"/><circle cx="554.3" cy="767.5" r="2.0" fill="#2c53de"/><circle cx="556.2" cy="767.5" r="2.0" fill="#2c53de"/><circle cx="558.1" cy="767.5" r="2.0" fill="#2c53de"/><circle cx="560.0" cy="767.5" r="2.0" fill="#2c53de"/><circle cx="561.9" cy="767.5" r="2.0" fill="#2c53de"/><circle cx="563.8" cy="767.5" r="2.0" fill="#2c53de"/><circle cx="565.7" cy="767.5" r="2.0" fill="#2c53de"/><circle cx="567.6" cy="767.5" r="2.0" fill="#2c53de"/><circle cx="569.5" cy="767.5" r="2.0" fill="#2c53de"/><circle cx="571.4" cy="767.5" r="2.0" fill="#2c53de"/><circle cx="573.3" cy="767.5" r="2.0" fill="#2c53de"/><circle cx="575.2" cy="767.5" r="2.0" fill="#2c53de"/><circle cx="577.1" cy="767.5" r="2.0" fill="#2c53de"/><circle cx="579.0" cy="767.5" r="2.0" fill="#2c53de"/><circle cx="580.9" cy="767.5" r="2.0" fill="#2c53de"/><circle cx="582.8" cy="767.5" r="2.0" fill="#2c53de"/><circle cx="584.7" cy="767.5" r="1.3" fill="#2044ca"/><circle cx="540.0" cy="769.2" r="1.4" fill="#274dd8"/><circle cx="541.9" cy="769.2" r="2.0" fill="#2c53de"/><circle cx="543.8" cy="769.2" r="2.0" fill="#2c53de"/><circle cx="545.7" cy="769.2" r="2.0" fill="#2c53de"/><circle cx="547.6" cy="769.2" r="2.0" fill="#2c53de"/><circle cx="549.5" cy="769.2" r="2.0" fill="#2c53de"/><circle cx="551.4" cy="769.2" r="2.0" fill="#2c53de"/><circle cx="553.3" cy="769.2" r="2.0" fill="#2c53de"/><circle cx="555.2" cy="769.2" r="2.0" fill="#2c53de"/><circle cx="557.1" cy="769.2" r="2.0" fill="#2c53de"/><circle cx="559.0" cy="769.2" r="2.0" fill="#2c53de"/><circle cx="560.9" cy="769.2" r="2.0" fill="#2c53de"/><circle cx="562.8" cy="769.2" r="2.0" fill="#2c53de"/><circle cx="564.7" cy="769.2" r="2.0" fill="#2c53de"/><circle cx="566.6" cy="769.2" r="2.0" fill="#2c53de"/><circle cx="568.5" cy="769.2" r="2.0" fill="#2c53de"/><circle cx="570.4" cy="769.2" r="2.0" fill="#2c53de"/><circle cx="572.3" cy="769.2" r="2.0" fill="#2c53de"/><circle cx="574.2" cy="769.2" r="2.0" fill="#2c53de"/><circle cx="576.1" cy="769.2" r="2.0" fill="#2c53de"/><circle cx="578.0" cy="769.2" r="2.0" fill="#2c53de"/><circle cx="579.9" cy="769.2" r="2.0" fill="#2c53de"/><circle cx="581.8" cy="769.2" r="2.0" fill="#2c53de"/><circle cx="583.7" cy="769.2" r="2.0" fill="#2c53de"/><circle cx="585.6" cy="769.2" r="2.0" fill="#2c53de"/><circle cx="587.5" cy="769.2" r="1.7" fill="#274dd8"/><circle cx="539.1" cy="770.8" r="1.6" fill="#2c53de"/><circle cx="541.0" cy="770.8" r="2.0" fill="#2c53de"/><circle cx="542.9" cy="770.8" r="2.0" fill="#2c53de"/><circle cx="544.8" cy="770.8" r="2.0" fill="#2c53de"/><circle cx="546.7" cy="770.8" r="2.0" fill="#2c53de"/><circle cx="548.6" cy="770.8" r="2.0" fill="#2c53de"/><circle cx="550.5" cy="770.8" r="2.0" fill="#2c53de"/><circle cx="552.4" cy="770.8" r="2.0" fill="#2c53de"/><circle cx="554.3" cy="770.8" r="2.0" fill="#2c53de"/><circle cx="556.2" cy="770.8" r="2.0" fill="#2c53de"/><circle cx="558.1" cy="770.8" r="2.0" fill="#2c53de"/><circle cx="560.0" cy="770.8" r="2.0" fill="#2c53de"/><circle cx="561.9" cy="770.8" r="2.0" fill="#2c53de"/><circle cx="563.8" cy="770.8" r="2.0" fill="#2c53de"/><circle cx="565.7" cy="770.8" r="2.0" fill="#2c53de"/><circle cx="567.6" cy="770.8" r="2.0" fill="#2c53de"/><circle cx="569.5" cy="770.8" r="2.0" fill="#2c53de"/><circle cx="571.4" cy="770.8" r="2.0" fill="#2c53de"/><circle cx="573.3" cy="770.8" r="2.0" fill="#2c53de"/><circle cx="575.2" cy="770.8" r="2.0" fill="#2c53de"/><circle cx="577.1" cy="770.8" r="2.0" fill="#2c53de"/><circle cx="579.0" cy="770.8" r="2.0" fill="#2c53de"/><circle cx="580.9" cy="770.8" r="2.0" fill="#2c53de"/><circle cx="582.8" cy="770.8" r="2.0" fill="#2c53de"/><circle cx="584.7" cy="770.8" r="2.0" fill="#2c53de"/><circle cx="586.6" cy="770.8" r="2.0" fill="#2c53de"/><circle cx="588.5" cy="770.8" r="2.0" fill="#2c53de"/><circle cx="590.4" cy="770.8" r="2.0" fill="#2c53de"/><circle cx="592.3" cy="770.8" r="1.3" fill="#274dd8"/><circle cx="540.0" cy="772.5" r="2.0" fill="#2c53de"/><circle cx="541.9" cy="772.5" r="2.0" fill="#2c53de"/><circle cx="543.8" cy="772.5" r="2.0" fill="#2c53de"/><circle cx="545.7" cy="772.5" r="2.0" fill="#2c53de"/><circle cx="547.6" cy="772.5" r="2.0" fill="#2c53de"/><circle cx="549.5" cy="772.5" r="2.0" fill="#2c53de"/><circle cx="551.4" cy="772.5" r="2.0" fill="#2c53de"/><circle cx="553.3" cy="772.5" r="2.0" fill="#2c53de"/><circle cx="555.2" cy="772.5" r="2.0" fill="#2c53de"/><circle cx="557.1" cy="772.5" r="2.0" fill="#2c53de"/><circle cx="559.0" cy="772.5" r="2.0" fill="#2c53de"/><circle cx="560.9" cy="772.5" r="2.0" fill="#2c53de"/><circle cx="562.8" cy="772.5" r="2.0" fill="#2c53de"/><circle cx="564.7" cy="772.5" r="2.0" fill="#2c53de"/><circle cx="566.6" cy="772.5" r="2.0" fill="#2c53de"/><circle cx="568.5" cy="772.5" r="2.0" fill="#2c53de"/><circle cx="570.4" cy="772.5" r="2.0" fill="#2c53de"/><circle cx="572.3" cy="772.5" r="2.0" fill="#2c53de"/><circle cx="574.2" cy="772.5" r="2.0" fill="#2c53de"/><circle cx="576.1" cy="772.5" r="2.0" fill="#2c53de"/><circle cx="578.0" cy="772.5" r="2.0" fill="#2c53de"/><circle cx="579.9" cy="772.5" r="2.0" fill="#2c53de"/><circle cx="581.8" cy="772.5" r="2.0" fill="#2c53de"/><circle cx="583.7" cy="772.5" r="2.0" fill="#2c53de"/><circle cx="585.6" cy="772.5" r="2.0" fill="#2c53de"/><circle cx="587.5" cy="772.5" r="2.0" fill="#2c53de"/><circle cx="589.4" cy="772.5" r="2.0" fill="#2c53de"/><circle cx="591.3" cy="772.5" r="2.0" fill="#2c53de"/><circle cx="593.2" cy="772.5" r="1.8" fill="#2044ca"/><circle cx="541.0" cy="774.1" r="1.9" fill="#274dd8"/><circle cx="542.9" cy="774.1" r="2.0" fill="#2c53de"/><circle cx="544.8" cy="774.1" r="2.0" fill="#2c53de"/><circle cx="546.7" cy="774.1" r="2.0" fill="#2c53de"/><circle cx="548.6" cy="774.1" r="2.0" fill="#2c53de"/><circle cx="550.5" cy="774.1" r="2.0" fill="#2c53de"/><circle cx="552.4" cy="774.1" r="2.0" fill="#2c53de"/><circle cx="554.3" cy="774.1" r="2.0" fill="#2c53de"/><circle cx="556.2" cy="774.1" r="2.0" fill="#2c53de"/><circle cx="558.1" cy="774.1" r="2.0" fill="#2c53de"/><circle cx="560.0" cy="774.1" r="2.0" fill="#2c53de"/><circle cx="561.9" cy="774.1" r="2.0" fill="#2c53de"/><circle cx="563.8" cy="774.1" r="2.0" fill="#2c53de"/><circle cx="565.7" cy="774.1" r="2.0" fill="#2c53de"/><circle cx="567.6" cy="774.1" r="2.0" fill="#2c53de"/><circle cx="569.5" cy="774.1" r="2.0" fill="#2c53de"/><circle cx="571.4" cy="774.1" r="2.0" fill="#2c53de"/><circle cx="573.3" cy="774.1" r="2.0" fill="#2c53de"/><circle cx="575.2" cy="774.1" r="2.0" fill="#2c53de"/><circle cx="577.1" cy="774.1" r="2.0" fill="#2c53de"/><circle cx="579.0" cy="774.1" r="2.0" fill="#2c53de"/><circle cx="580.9" cy="774.1" r="2.0" fill="#2c53de"/><circle cx="582.8" cy="774.1" r="2.0" fill="#2c53de"/><circle cx="584.7" cy="774.1" r="2.0" fill="#2c53de"/><circle cx="586.6" cy="774.1" r="2.0" fill="#2c53de"/><circle cx="588.5" cy="774.1" r="2.0" fill="#2c53de"/><circle cx="590.4" cy="774.1" r="2.0" fill="#2c53de"/><circle cx="592.3" cy="774.1" r="2.0" fill="#2c53de"/><circle cx="594.2" cy="774.1" r="2.0" fill="#2c53de"/><circle cx="543.8" cy="775.8" r="2.0" fill="#2c53de"/><circle cx="545.7" cy="775.8" r="2.0" fill="#2c53de"/><circle cx="547.6" cy="775.8" r="2.0" fill="#2c53de"/><circle cx="549.5" cy="775.8" r="2.0" fill="#2c53de"/><circle cx="551.4" cy="775.8" r="2.0" fill="#2c53de"/><circle cx="553.3" cy="775.8" r="2.0" fill="#2c53de"/><circle cx="555.2" cy="775.8" r="2.0" fill="#2c53de"/><circle cx="557.1" cy="775.8" r="2.0" fill="#2c53de"/><circle cx="559.0" cy="775.8" r="2.0" fill="#2c53de"/><circle cx="560.9" cy="775.8" r="2.0" fill="#2c53de"/><circle cx="562.8" cy="775.8" r="2.0" fill="#2c53de"/><circle cx="564.7" cy="775.8" r="2.0" fill="#2c53de"/><circle cx="566.6" cy="775.8" r="2.0" fill="#2c53de"/><circle cx="568.5" cy="775.8" r="2.0" fill="#2c53de"/><circle cx="570.4" cy="775.8" r="2.0" fill="#2c53de"/><circle cx="572.3" cy="775.8" r="2.0" fill="#2c53de"/><circle cx="574.2" cy="775.8" r="2.0" fill="#2c53de"/><circle cx="576.1" cy="775.8" r="2.0" fill="#2c53de"/><circle cx="578.0" cy="775.8" r="2.0" fill="#2c53de"/><circle cx="579.9" cy="775.8" r="2.0" fill="#2c53de"/><circle cx="581.8" cy="775.8" r="2.0" fill="#2c53de"/><circle cx="583.7" cy="775.8" r="2.0" fill="#2c53de"/><circle cx="585.6" cy="775.8" r="2.0" fill="#2c53de"/><circle cx="587.5" cy="775.8" r="2.0" fill="#2c53de"/><circle cx="589.4" cy="775.8" r="2.0" fill="#2c53de"/><circle cx="591.3" cy="775.8" r="2.0" fill="#2c53de"/><circle cx="593.2" cy="775.8" r="2.0" fill="#2c53de"/><circle cx="595.1" cy="775.8" r="1.5" fill="#2c53de"/><circle cx="544.8" cy="777.4" r="1.8" fill="#2c53de"/><circle cx="546.7" cy="777.4" r="2.0" fill="#2c53de"/><circle cx="548.6" cy="777.4" r="2.0" fill="#2c53de"/><circle cx="550.5" cy="777.4" r="2.0" fill="#2c53de"/><circle cx="552.4" cy="777.4" r="2.0" fill="#2c53de"/><circle cx="554.3" cy="777.4" r="2.0" fill="#2c53de"/><circle cx="556.2" cy="777.4" r="2.0" fill="#2c53de"/><circle cx="558.1" cy="777.4" r="2.0" fill="#2c53de"/><circle cx="560.0" cy="777.4" r="2.0" fill="#2c53de"/><circle cx="561.9" cy="777.4" r="2.0" fill="#2c53de"/><circle cx="563.8" cy="777.4" r="2.0" fill="#2c53de"/><circle cx="565.7" cy="777.4" r="2.0" fill="#2c53de"/><circle cx="567.6" cy="777.4" r="2.0" fill="#2c53de"/><circle cx="569.5" cy="777.4" r="2.0" fill="#2c53de"/><circle cx="571.4" cy="777.4" r="2.0" fill="#2c53de"/><circle cx="573.3" cy="777.4" r="2.0" fill="#2c53de"/><circle cx="575.2" cy="777.4" r="2.0" fill="#2c53de"/><circle cx="577.1" cy="777.4" r="2.0" fill="#2c53de"/><circle cx="579.0" cy="777.4" r="2.0" fill="#2c53de"/><circle cx="580.9" cy="777.4" r="2.0" fill="#2c53de"/><circle cx="582.8" cy="777.4" r="2.0" fill="#2c53de"/><circle cx="584.7" cy="777.4" r="2.0" fill="#2c53de"/><circle cx="586.6" cy="777.4" r="2.0" fill="#2c53de"/><circle cx="588.5" cy="777.4" r="2.0" fill="#2c53de"/><circle cx="590.4" cy="777.4" r="2.0" fill="#2c53de"/><circle cx="592.3" cy="777.4" r="2.0" fill="#2c53de"/><circle cx="594.2" cy="777.4" r="2.0" fill="#2c53de"/><circle cx="545.7" cy="779.1" r="2.0" fill="#2c53de"/><circle cx="547.6" cy="779.1" r="2.0" fill="#2c53de"/><circle cx="549.5" cy="779.1" r="2.0" fill="#2c53de"/><circle cx="551.4" cy="779.1" r="2.0" fill="#2c53de"/><circle cx="553.3" cy="779.1" r="2.0" fill="#2c53de"/><circle cx="555.2" cy="779.1" r="2.0" fill="#2c53de"/><circle cx="557.1" cy="779.1" r="2.0" fill="#2c53de"/><circle cx="559.0" cy="779.1" r="2.0" fill="#2c53de"/><circle cx="560.9" cy="779.1" r="2.0" fill="#2c53de"/><circle cx="562.8" cy="779.1" r="2.0" fill="#2c53de"/><circle cx="564.7" cy="779.1" r="2.0" fill="#2c53de"/><circle cx="566.6" cy="779.1" r="2.0" fill="#2c53de"/><circle cx="568.5" cy="779.1" r="2.0" fill="#2c53de"/><circle cx="570.4" cy="779.1" r="2.0" fill="#2c53de"/><circle cx="572.3" cy="779.1" r="2.0" fill="#2c53de"/><circle cx="574.2" cy="779.1" r="2.0" fill="#2c53de"/><circle cx="576.1" cy="779.1" r="2.0" fill="#2c53de"/><circle cx="578.0" cy="779.1" r="2.0" fill="#2c53de"/><circle cx="579.9" cy="779.1" r="2.0" fill="#2c53de"/><circle cx="581.8" cy="779.1" r="2.0" fill="#2c53de"/><circle cx="583.7" cy="779.1" r="2.0" fill="#2c53de"/><circle cx="585.6" cy="779.1" r="2.0" fill="#2c53de"/><circle cx="587.5" cy="779.1" r="2.0" fill="#2c53de"/><circle cx="589.4" cy="779.1" r="2.0" fill="#2c53de"/><circle cx="591.3" cy="779.1" r="2.0" fill="#2c53de"/><circle cx="593.2" cy="779.1" r="2.0" fill="#2c53de"/><circle cx="595.1" cy="779.1" r="2.0" fill="#2c53de"/><circle cx="546.7" cy="780.8" r="2.0" fill="#2c53de"/><circle cx="548.6" cy="780.8" r="2.0" fill="#2c53de"/><circle cx="550.5" cy="780.8" r="2.0" fill="#2c53de"/><circle cx="552.4" cy="780.8" r="2.0" fill="#2c53de"/><circle cx="554.3" cy="780.8" r="2.0" fill="#2c53de"/><circle cx="556.2" cy="780.8" r="2.0" fill="#2c53de"/><circle cx="558.1" cy="780.8" r="2.0" fill="#2c53de"/><circle cx="560.0" cy="780.8" r="2.0" fill="#2c53de"/><circle cx="561.9" cy="780.8" r="2.0" fill="#2c53de"/><circle cx="563.8" cy="780.8" r="2.0" fill="#2c53de"/><circle cx="565.7" cy="780.8" r="2.0" fill="#2c53de"/><circle cx="567.6" cy="780.8" r="2.0" fill="#2c53de"/><circle cx="569.5" cy="780.8" r="2.0" fill="#2c53de"/><circle cx="571.4" cy="780.8" r="2.0" fill="#2c53de"/><circle cx="573.3" cy="780.8" r="2.0" fill="#2c53de"/><circle cx="575.2" cy="780.8" r="2.0" fill="#2c53de"/><circle cx="577.1" cy="780.8" r="2.0" fill="#2c53de"/><circle cx="579.0" cy="780.8" r="2.0" fill="#2c53de"/><circle cx="580.9" cy="780.8" r="2.0" fill="#2c53de"/><circle cx="582.8" cy="780.8" r="2.0" fill="#2c53de"/><circle cx="584.7" cy="780.8" r="2.0" fill="#2c53de"/><circle cx="586.6" cy="780.8" r="2.0" fill="#2c53de"/><circle cx="588.5" cy="780.8" r="2.0" fill="#2c53de"/><circle cx="590.4" cy="780.8" r="2.0" fill="#2c53de"/><circle cx="592.3" cy="780.8" r="2.0" fill="#2c53de"/><circle cx="594.2" cy="780.8" r="2.0" fill="#2c53de"/><circle cx="547.6" cy="782.4" r="2.0" fill="#2c53de"/><circle cx="549.5" cy="782.4" r="2.0" fill="#2c53de"/><circle cx="551.4" cy="782.4" r="2.0" fill="#2c53de"/><circle cx="553.3" cy="782.4" r="2.0" fill="#2c53de"/><circle cx="555.2" cy="782.4" r="2.0" fill="#2c53de"/><circle cx="557.1" cy="782.4" r="2.0" fill="#2c53de"/><circle cx="559.0" cy="782.4" r="2.0" fill="#2c53de"/><circle cx="560.9" cy="782.4" r="2.0" fill="#2c53de"/><circle cx="562.8" cy="782.4" r="2.0" fill="#2c53de"/><circle cx="564.7" cy="782.4" r="2.0" fill="#2c53de"/><circle cx="566.6" cy="782.4" r="2.0" fill="#2c53de"/><circle cx="568.5" cy="782.4" r="2.0" fill="#2c53de"/><circle cx="570.4" cy="782.4" r="2.0" fill="#2c53de"/><circle cx="572.3" cy="782.4" r="2.0" fill="#2c53de"/><circle cx="574.2" cy="782.4" r="2.0" fill="#2c53de"/><circle cx="576.1" cy="782.4" r="2.0" fill="#2c53de"/><circle cx="578.0" cy="782.4" r="2.0" fill="#2c53de"/><circle cx="579.9" cy="782.4" r="2.0" fill="#2c53de"/><circle cx="581.8" cy="782.4" r="2.0" fill="#2c53de"/><circle cx="583.7" cy="782.4" r="2.0" fill="#2c53de"/><circle cx="585.6" cy="782.4" r="2.0" fill="#2c53de"/><circle cx="587.5" cy="782.4" r="2.0" fill="#2c53de"/><circle cx="589.4" cy="782.4" r="2.0" fill="#2c53de"/><circle cx="591.3" cy="782.4" r="2.0" fill="#2c53de"/><circle cx="593.2" cy="782.4" r="2.0" fill="#2c53de"/><circle cx="595.1" cy="782.4" r="1.7" fill="#2044ca"/><circle cx="548.6" cy="784.1" r="2.0" fill="#2c53de"/><circle cx="550.5" cy="784.1" r="2.0" fill="#2c53de"/><circle cx="552.4" cy="784.1" r="2.0" fill="#2c53de"/><circle cx="554.3" cy="784.1" r="2.0" fill="#2c53de"/><circle cx="556.2" cy="784.1" r="2.0" fill="#2c53de"/><circle cx="558.1" cy="784.1" r="2.0" fill="#2c53de"/><circle cx="560.0" cy="784.1" r="2.0" fill="#2c53de"/><circle cx="561.9" cy="784.1" r="2.0" fill="#2c53de"/><circle cx="563.8" cy="784.1" r="2.0" fill="#2c53de"/><circle cx="565.7" cy="784.1" r="2.0" fill="#2c53de"/><circle cx="567.6" cy="784.1" r="2.0" fill="#2c53de"/><circle cx="569.5" cy="784.1" r="2.0" fill="#2c53de"/><circle cx="571.4" cy="784.1" r="2.0" fill="#2c53de"/><circle cx="573.3" cy="784.1" r="2.0" fill="#2c53de"/><circle cx="575.2" cy="784.1" r="2.0" fill="#2c53de"/><circle cx="577.1" cy="784.1" r="2.0" fill="#2c53de"/><circle cx="579.0" cy="784.1" r="2.0" fill="#2c53de"/><circle cx="580.9" cy="784.1" r="2.0" fill="#2c53de"/><circle cx="582.8" cy="784.1" r="2.0" fill="#2c53de"/><circle cx="584.7" cy="784.1" r="2.0" fill="#2c53de"/><circle cx="586.6" cy="784.1" r="2.0" fill="#2c53de"/><circle cx="588.5" cy="784.1" r="2.0" fill="#2c53de"/><circle cx="590.4" cy="784.1" r="2.0" fill="#2c53de"/><circle cx="592.3" cy="784.1" r="2.0" fill="#2c53de"/><circle cx="594.2" cy="784.1" r="2.0" fill="#2c53de"/><circle cx="549.5" cy="785.7" r="1.8" fill="#2c53de"/><circle cx="551.4" cy="785.7" r="2.0" fill="#2c53de"/><circle cx="553.3" cy="785.7" r="2.0" fill="#2c53de"/><circle cx="555.2" cy="785.7" r="2.0" fill="#2c53de"/><circle cx="557.1" cy="785.7" r="2.0" fill="#2c53de"/><circle cx="559.0" cy="785.7" r="2.0" fill="#2c53de"/><circle cx="560.9" cy="785.7" r="2.0" fill="#2c53de"/><circle cx="562.8" cy="785.7" r="2.0" fill="#2c53de"/><circle cx="564.7" cy="785.7" r="2.0" fill="#2c53de"/><circle cx="566.6" cy="785.7" r="2.0" fill="#2c53de"/><circle cx="568.5" cy="785.7" r="2.0" fill="#2c53de"/><circle cx="570.4" cy="785.7" r="2.0" fill="#2c53de"/><circle cx="572.3" cy="785.7" r="2.0" fill="#2c53de"/><circle cx="574.2" cy="785.7" r="2.0" fill="#2c53de"/><circle cx="576.1" cy="785.7" r="2.0" fill="#2c53de"/><circle cx="578.0" cy="785.7" r="2.0" fill="#2c53de"/><circle cx="579.9" cy="785.7" r="2.0" fill="#2c53de"/><circle cx="581.8" cy="785.7" r="2.0" fill="#2c53de"/><circle cx="583.7" cy="785.7" r="2.0" fill="#2c53de"/><circle cx="585.6" cy="785.7" r="2.0" fill="#2c53de"/><circle cx="587.5" cy="785.7" r="2.0" fill="#2c53de"/><circle cx="589.4" cy="785.7" r="2.0" fill="#2c53de"/><circle cx="591.3" cy="785.7" r="2.0" fill="#2c53de"/><circle cx="593.2" cy="785.7" r="2.0" fill="#2c53de"/><circle cx="595.1" cy="785.7" r="1.5" fill="#274dd8"/><circle cx="552.4" cy="787.4" r="2.0" fill="#2c53de"/><circle cx="554.3" cy="787.4" r="2.0" fill="#2c53de"/><circle cx="556.2" cy="787.4" r="2.0" fill="#2c53de"/><circle cx="558.1" cy="787.4" r="2.0" fill="#2c53de"/><circle cx="560.0" cy="787.4" r="2.0" fill="#2c53de"/><circle cx="561.9" cy="787.4" r="2.0" fill="#2c53de"/><circle cx="563.8" cy="787.4" r="2.0" fill="#2c53de"/><circle cx="565.7" cy="787.4" r="2.0" fill="#2c53de"/><circle cx="567.6" cy="787.4" r="2.0" fill="#2c53de"/><circle cx="569.5" cy="787.4" r="2.0" fill="#2c53de"/><circle cx="571.4" cy="787.4" r="2.0" fill="#2c53de"/><circle cx="573.3" cy="787.4" r="2.0" fill="#2c53de"/><circle cx="575.2" cy="787.4" r="2.0" fill="#2c53de"/><circle cx="577.1" cy="787.4" r="2.0" fill="#2c53de"/><circle cx="579.0" cy="787.4" r="2.0" fill="#2c53de"/><circle cx="580.9" cy="787.4" r="2.0" fill="#2c53de"/><circle cx="582.8" cy="787.4" r="2.0" fill="#2c53de"/><circle cx="584.7" cy="787.4" r="2.0" fill="#2c53de"/><circle cx="586.6" cy="787.4" r="2.0" fill="#2c53de"/><circle cx="588.5" cy="787.4" r="2.0" fill="#2c53de"/><circle cx="590.4" cy="787.4" r="2.0" fill="#2c53de"/><circle cx="592.3" cy="787.4" r="2.0" fill="#2c53de"/><circle cx="594.2" cy="787.4" r="2.0" fill="#2c53de"/><circle cx="553.3" cy="789.0" r="1.4" fill="#274dd8"/><circle cx="560.9" cy="789.0" r="1.4" fill="#2c53de"/><circle cx="562.8" cy="789.0" r="2.0" fill="#2c53de"/><circle cx="564.7" cy="789.0" r="2.0" fill="#2c53de"/><circle cx="566.6" cy="789.0" r="2.0" fill="#2c53de"/><circle cx="568.5" cy="789.0" r="2.0" fill="#2c53de"/><circle cx="570.4" cy="789.0" r="2.0" fill="#2c53de"/><circle cx="572.3" cy="789.0" r="2.0" fill="#2c53de"/><circle cx="574.2" cy="789.0" r="2.0" fill="#2c53de"/><circle cx="576.1" cy="789.0" r="2.0" fill="#2c53de"/><circle cx="578.0" cy="789.0" r="2.0" fill="#2c53de"/><circle cx="579.9" cy="789.0" r="2.0" fill="#2c53de"/><circle cx="581.8" cy="789.0" r="2.0" fill="#2c53de"/><circle cx="583.7" cy="789.0" r="2.0" fill="#2c53de"/><circle cx="585.6" cy="789.0" r="2.0" fill="#2c53de"/><circle cx="587.5" cy="789.0" r="2.0" fill="#2c53de"/><circle cx="589.4" cy="789.0" r="2.0" fill="#2c53de"/><circle cx="591.3" cy="789.0" r="2.0" fill="#2c53de"/><circle cx="593.2" cy="789.0" r="2.0" fill="#2c53de"/><circle cx="595.1" cy="789.0" r="2.0" fill="#2c53de"/><circle cx="561.9" cy="790.7" r="1.5" fill="#274dd8"/><circle cx="563.8" cy="790.7" r="2.0" fill="#2c53de"/><circle cx="565.7" cy="790.7" r="2.0" fill="#2c53de"/><circle cx="567.6" cy="790.7" r="2.0" fill="#2c53de"/><circle cx="569.5" cy="790.7" r="2.0" fill="#2c53de"/><circle cx="571.4" cy="790.7" r="2.0" fill="#2c53de"/><circle cx="573.3" cy="790.7" r="2.0" fill="#2c53de"/><circle cx="575.2" cy="790.7" r="2.0" fill="#2c53de"/><circle cx="577.1" cy="790.7" r="2.0" fill="#2c53de"/><circle cx="579.0" cy="790.7" r="2.0" fill="#2c53de"/><circle cx="580.9" cy="790.7" r="2.0" fill="#2c53de"/><circle cx="582.8" cy="790.7" r="2.0" fill="#2c53de"/><circle cx="584.7" cy="790.7" r="2.0" fill="#2c53de"/><circle cx="586.6" cy="790.7" r="2.0" fill="#2c53de"/><circle cx="588.5" cy="790.7" r="2.0" fill="#2c53de"/><circle cx="590.4" cy="790.7" r="2.0" fill="#2c53de"/><circle cx="592.3" cy="790.7" r="2.0" fill="#2c53de"/><circle cx="594.2" cy="790.7" r="2.0" fill="#2c53de"/><circle cx="596.1" cy="790.7" r="1.7" fill="#2044ca"/><circle cx="562.8" cy="792.3" r="1.7" fill="#274dd8"/><circle cx="564.7" cy="792.3" r="2.0" fill="#2c53de"/><circle cx="566.6" cy="792.3" r="2.0" fill="#2c53de"/><circle cx="568.5" cy="792.3" r="2.0" fill="#2c53de"/><circle cx="570.4" cy="792.3" r="2.0" fill="#2c53de"/><circle cx="572.3" cy="792.3" r="2.0" fill="#2c53de"/><circle cx="574.2" cy="792.3" r="2.0" fill="#2c53de"/><circle cx="576.1" cy="792.3" r="2.0" fill="#2c53de"/><circle cx="578.0" cy="792.3" r="2.0" fill="#2c53de"/><circle cx="579.9" cy="792.3" r="2.0" fill="#2c53de"/><circle cx="581.8" cy="792.3" r="2.0" fill="#2c53de"/><circle cx="583.7" cy="792.3" r="2.0" fill="#2c53de"/><circle cx="585.6" cy="792.3" r="2.0" fill="#2c53de"/><circle cx="587.5" cy="792.3" r="2.0" fill="#2c53de"/><circle cx="589.4" cy="792.3" r="2.0" fill="#2c53de"/><circle cx="591.3" cy="792.3" r="2.0" fill="#2c53de"/><circle cx="593.2" cy="792.3" r="2.0" fill="#2c53de"/><circle cx="595.1" cy="792.3" r="2.0" fill="#2c53de"/><circle cx="563.8" cy="794.0" r="2.0" fill="#2c53de"/><circle cx="565.7" cy="794.0" r="2.0" fill="#2c53de"/><circle cx="567.6" cy="794.0" r="2.0" fill="#2c53de"/><circle cx="569.5" cy="794.0" r="2.0" fill="#2c53de"/><circle cx="571.4" cy="794.0" r="2.0" fill="#2c53de"/><circle cx="573.3" cy="794.0" r="2.0" fill="#2c53de"/><circle cx="575.2" cy="794.0" r="2.0" fill="#2c53de"/><circle cx="577.1" cy="794.0" r="2.0" fill="#2c53de"/><circle cx="579.0" cy="794.0" r="2.0" fill="#2c53de"/><circle cx="580.9" cy="794.0" r="2.0" fill="#2c53de"/><circle cx="582.8" cy="794.0" r="2.0" fill="#2c53de"/><circle cx="584.7" cy="794.0" r="2.0" fill="#2c53de"/><circle cx="586.6" cy="794.0" r="2.0" fill="#2c53de"/><circle cx="588.5" cy="794.0" r="2.0" fill="#2c53de"/><circle cx="590.4" cy="794.0" r="2.0" fill="#2c53de"/><circle cx="592.3" cy="794.0" r="2.0" fill="#2c53de"/><circle cx="594.2" cy="794.0" r="2.0" fill="#2c53de"/><circle cx="564.7" cy="795.6" r="2.0" fill="#2c53de"/><circle cx="566.6" cy="795.6" r="2.0" fill="#2c53de"/><circle cx="568.5" cy="795.6" r="2.0" fill="#2c53de"/><circle cx="570.4" cy="795.6" r="2.0" fill="#2c53de"/><circle cx="572.3" cy="795.6" r="2.0" fill="#2c53de"/><circle cx="574.2" cy="795.6" r="2.0" fill="#2c53de"/><circle cx="576.1" cy="795.6" r="2.0" fill="#2c53de"/><circle cx="578.0" cy="795.6" r="2.0" fill="#2c53de"/><circle cx="579.9" cy="795.6" r="2.0" fill="#2c53de"/><circle cx="581.8" cy="795.6" r="2.0" fill="#2c53de"/><circle cx="583.7" cy="795.6" r="2.0" fill="#2c53de"/><circle cx="585.6" cy="795.6" r="2.0" fill="#2c53de"/><circle cx="587.5" cy="795.6" r="2.0" fill="#2c53de"/><circle cx="589.4" cy="795.6" r="2.0" fill="#2c53de"/><circle cx="591.3" cy="795.6" r="2.0" fill="#2c53de"/><circle cx="593.2" cy="795.6" r="2.0" fill="#2c53de"/><circle cx="563.8" cy="797.3" r="1.7" fill="#2044ca"/><circle cx="565.7" cy="797.3" r="2.0" fill="#2c53de"/><circle cx="567.6" cy="797.3" r="2.0" fill="#2c53de"/><circle cx="569.5" cy="797.3" r="2.0" fill="#2c53de"/><circle cx="571.4" cy="797.3" r="2.0" fill="#2c53de"/><circle cx="573.3" cy="797.3" r="2.0" fill="#2c53de"/><circle cx="575.2" cy="797.3" r="2.0" fill="#2c53de"/><circle cx="577.1" cy="797.3" r="2.0" fill="#2c53de"/><circle cx="579.0" cy="797.3" r="2.0" fill="#2c53de"/><circle cx="580.9" cy="797.3" r="2.0" fill="#2c53de"/><circle cx="582.8" cy="797.3" r="2.0" fill="#2c53de"/><circle cx="584.7" cy="797.3" r="2.0" fill="#2c53de"/><circle cx="586.6" cy="797.3" r="2.0" fill="#2c53de"/><circle cx="588.5" cy="797.3" r="2.0" fill="#2c53de"/><circle cx="590.4" cy="797.3" r="2.0" fill="#2c53de"/><circle cx="592.3" cy="797.3" r="2.0" fill="#2c53de"/><circle cx="564.7" cy="798.9" r="1.9" fill="#2044ca"/><circle cx="566.6" cy="798.9" r="2.0" fill="#2c53de"/><circle cx="568.5" cy="798.9" r="2.0" fill="#2c53de"/><circle cx="570.4" cy="798.9" r="2.0" fill="#2c53de"/><circle cx="572.3" cy="798.9" r="2.0" fill="#2c53de"/><circle cx="574.2" cy="798.9" r="2.0" fill="#2c53de"/><circle cx="576.1" cy="798.9" r="2.0" fill="#2c53de"/><circle cx="578.0" cy="798.9" r="2.0" fill="#2c53de"/><circle cx="579.9" cy="798.9" r="2.0" fill="#2c53de"/><circle cx="581.8" cy="798.9" r="2.0" fill="#2c53de"/><circle cx="583.7" cy="798.9" r="2.0" fill="#2c53de"/><circle cx="585.6" cy="798.9" r="2.0" fill="#2c53de"/><circle cx="587.5" cy="798.9" r="2.0" fill="#2c53de"/><circle cx="589.4" cy="798.9" r="2.0" fill="#2c53de"/><circle cx="591.3" cy="798.9" r="1.6" fill="#2044ca"/><circle cx="573.3" cy="800.6" r="1.8" fill="#274dd8"/><circle cx="575.2" cy="800.6" r="2.0" fill="#2c53de"/><circle cx="577.1" cy="800.6" r="2.0" fill="#2c53de"/><circle cx="579.0" cy="800.6" r="2.0" fill="#2c53de"/><circle cx="580.9" cy="800.6" r="2.0" fill="#2c53de"/><circle cx="582.8" cy="800.6" r="1.4" fill="#2c53de"/><circle cx="576.1" cy="802.2" r="1.9" fill="#2c53de"/><circle cx="578.0" cy="802.2" r="2.0" fill="#2c53de"/><circle cx="579.9" cy="802.2" r="2.0" fill="#2c53de"/><circle cx="579.0" cy="803.9" r="1.4" fill="#2c53de"/><circle cx="565.5" cy="757.6" r="1.7" fill="#3860e4"/><circle cx="568.5" cy="756.8" r="1.6" fill="#3860e4"/><circle cx="550.1" cy="758.6" r="1.7" fill="#1c3cbc"/><circle cx="560.8" cy="759.8" r="2.0" fill="#1c3cbc"/><circle cx="562.4" cy="759.5" r="1.9" fill="#2c53de"/><circle cx="564.7" cy="759.6" r="1.9" fill="#3860e4"/><circle cx="566.7" cy="759.8" r="1.8" fill="#1c3cbc"/><circle cx="568.6" cy="759.8" r="2.0" fill="#2044ca"/><circle cx="572.2" cy="759.6" r="1.6" fill="#3860e4"/><circle cx="547.1" cy="761.4" r="1.6" fill="#274dd8"/><circle cx="549.7" cy="760.6" r="2.0" fill="#4a70ee"/><circle cx="551.3" cy="761.8" r="1.5" fill="#1c3cbc"/><circle cx="553.5" cy="761.0" r="2.0" fill="#4a70ee"/><circle cx="555.1" cy="762.1" r="1.7" fill="#2c53de"/><circle cx="557.6" cy="761.8" r="2.0" fill="#4a70ee"/><circle cx="559.8" cy="760.8" r="2.0" fill="#3860e4"/><circle cx="561.9" cy="761.9" r="1.5" fill="#3860e4"/><circle cx="563.8" cy="761.9" r="1.5" fill="#2c53de"/><circle cx="567.0" cy="761.8" r="1.6" fill="#2044ca"/><circle cx="569.7" cy="762.2" r="1.9" fill="#3860e4"/><circle cx="572.0" cy="760.5" r="1.9" fill="#2044ca"/><circle cx="574.3" cy="760.4" r="1.8" fill="#4a70ee"/><circle cx="575.8" cy="760.8" r="1.6" fill="#1c3cbc"/><circle cx="546.7" cy="763.1" r="1.9" fill="#2044ca"/><circle cx="549.2" cy="762.6" r="1.8" fill="#4a70ee"/><circle cx="551.3" cy="764.1" r="1.9" fill="#4a70ee"/><circle cx="553.3" cy="764.5" r="1.7" fill="#2044ca"/><circle cx="555.2" cy="764.2" r="1.7" fill="#274dd8"/><circle cx="558.5" cy="763.2" r="1.5" fill="#3860e4"/><circle cx="560.8" cy="762.6" r="1.6" fill="#3860e4"/><circle cx="561.8" cy="763.1" r="1.4" fill="#2044ca"/><circle cx="565.7" cy="764.1" r="1.7" fill="#1c3cbc"/><circle cx="566.5" cy="763.1" r="2.1" fill="#2c53de"/><circle cx="569.6" cy="764.4" r="1.7" fill="#1c3cbc"/><circle cx="571.2" cy="763.3" r="1.7" fill="#4a70ee"/><circle cx="573.5" cy="762.9" r="2.0" fill="#4a70ee"/><circle cx="576.3" cy="763.3" r="1.5" fill="#2044ca"/><circle cx="577.7" cy="763.1" r="1.8" fill="#1c3cbc"/><circle cx="543.3" cy="765.4" r="1.9" fill="#1c3cbc"/><circle cx="546.6" cy="766.2" r="1.9" fill="#4a70ee"/><circle cx="549.4" cy="766.4" r="2.0" fill="#4a70ee"/><circle cx="550.8" cy="766.4" r="1.6" fill="#2c53de"/><circle cx="553.7" cy="765.1" r="1.9" fill="#4a70ee"/><circle cx="555.9" cy="766.6" r="1.5" fill="#2044ca"/><circle cx="558.2" cy="766.7" r="1.4" fill="#274dd8"/><circle cx="560.9" cy="766.1" r="1.8" fill="#4a70ee"/><circle cx="561.9" cy="766.3" r="1.9" fill="#1c3cbc"/><circle cx="565.4" cy="766.5" r="1.5" fill="#1c3cbc"/><circle cx="567.8" cy="765.3" r="1.5" fill="#2044ca"/><circle cx="570.2" cy="766.3" r="2.0" fill="#1c3cbc"/><circle cx="571.4" cy="765.4" r="1.9" fill="#1c3cbc"/><circle cx="573.7" cy="766.6" r="1.9" fill="#3860e4"/><circle cx="576.5" cy="765.8" r="1.8" fill="#2c53de"/><circle cx="578.2" cy="765.5" r="1.8" fill="#274dd8"/><circle cx="580.6" cy="766.2" r="1.5" fill="#2044ca"/><circle cx="542.7" cy="768.3" r="1.9" fill="#2c53de"/><circle cx="544.6" cy="767.2" r="1.8" fill="#4a70ee"/><circle cx="546.1" cy="769.0" r="1.6" fill="#274dd8"/><circle cx="548.8" cy="767.9" r="1.8" fill="#3860e4"/><circle cx="550.8" cy="768.4" r="2.0" fill="#274dd8"/><circle cx="553.9" cy="769.0" r="1.6" fill="#2044ca"/><circle cx="554.7" cy="768.1" r="1.5" fill="#4a70ee"/><circle cx="558.8" cy="768.9" r="1.8" fill="#2c53de"/><circle cx="559.9" cy="767.5" r="1.7" fill="#2044ca"/><circle cx="563.0" cy="767.3" r="2.0" fill="#274dd8"/><circle cx="564.7" cy="767.5" r="1.9" fill="#2c53de"/><circle cx="567.6" cy="767.5" r="1.9" fill="#2044ca"/><circle cx="569.9" cy="769.0" r="2.0" fill="#1c3cbc"/><circle cx="571.9" cy="767.1" r="1.6" fill="#4a70ee"/><circle cx="573.0" cy="768.8" r="1.9" fill="#1c3cbc"/><circle cx="576.4" cy="768.2" r="1.8" fill="#3860e4"/><circle cx="578.8" cy="769.1" r="1.6" fill="#274dd8"/><circle cx="581.4" cy="768.5" r="1.7" fill="#274dd8"/><circle cx="583.8" cy="768.0" r="1.5" fill="#274dd8"/><circle cx="540.4" cy="769.8" r="1.6" fill="#3860e4"/><circle cx="541.7" cy="770.9" r="1.7" fill="#4a70ee"/><circle cx="543.3" cy="769.4" r="1.5" fill="#3860e4"/><circle cx="546.4" cy="769.5" r="2.0" fill="#274dd8"/><circle cx="548.6" cy="769.5" r="2.0" fill="#3860e4"/><circle cx="551.8" cy="771.1" r="1.6" fill="#3860e4"/><circle cx="554.1" cy="770.4" r="1.8" fill="#2c53de"/><circle cx="554.6" cy="769.8" r="1.6" fill="#274dd8"/><circle cx="557.1" cy="771.2" r="2.1" fill="#4a70ee"/><circle cx="560.1" cy="770.6" r="1.8" fill="#1c3cbc"/><circle cx="563.3" cy="770.9" r="1.8" fill="#1c3cbc"/><circle cx="563.9" cy="770.3" r="1.7" fill="#1c3cbc"/><circle cx="567.8" cy="771.4" r="1.9" fill="#4a70ee"/><circle cx="569.8" cy="770.4" r="1.5" fill="#4a70ee"/><circle cx="571.9" cy="769.5" r="1.6" fill="#2c53de"/><circle cx="573.0" cy="770.5" r="1.9" fill="#2c53de"/><circle cx="576.5" cy="770.9" r="1.4" fill="#274dd8"/><circle cx="579.4" cy="769.8" r="1.4" fill="#4a70ee"/><circle cx="580.0" cy="769.9" r="2.1" fill="#2c53de"/><circle cx="583.7" cy="769.5" r="1.8" fill="#3860e4"/><circle cx="586.3" cy="769.9" r="1.5" fill="#274dd8"/><circle cx="587.7" cy="771.3" r="1.9" fill="#1c3cbc"/><circle cx="542.4" cy="772.8" r="1.9" fill="#1c3cbc"/><circle cx="544.2" cy="772.3" r="1.7" fill="#274dd8"/><circle cx="546.5" cy="772.1" r="1.5" fill="#3860e4"/><circle cx="549.3" cy="772.6" r="1.5" fill="#1c3cbc"/><circle cx="551.5" cy="773.1" r="2.1" fill="#3860e4"/><circle cx="554.2" cy="772.8" r="1.6" fill="#274dd8"/><circle cx="554.8" cy="772.2" r="2.0" fill="#274dd8"/><circle cx="557.1" cy="772.3" r="1.6" fill="#2044ca"/><circle cx="559.5" cy="772.9" r="2.1" fill="#2c53de"/><circle cx="561.5" cy="771.9" r="1.5" fill="#1c3cbc"/><circle cx="565.3" cy="772.1" r="1.7" fill="#4a70ee"/><circle cx="567.9" cy="772.9" r="1.5" fill="#1c3cbc"/><circle cx="569.9" cy="771.9" r="1.4" fill="#274dd8"/><circle cx="572.1" cy="771.8" r="1.9" fill="#4a70ee"/><circle cx="574.6" cy="771.8" r="1.8" fill="#2044ca"/><circle cx="576.2" cy="773.1" r="1.6" fill="#2044ca"/><circle cx="579.3" cy="771.8" r="1.7" fill="#2c53de"/><circle cx="580.8" cy="773.7" r="1.9" fill="#4a70ee"/><circle cx="583.7" cy="773.4" r="2.1" fill="#2044ca"/><circle cx="585.0" cy="772.2" r="1.7" fill="#274dd8"/><circle cx="587.5" cy="772.8" r="1.6" fill="#2044ca"/><circle cx="589.1" cy="773.2" r="1.6" fill="#2044ca"/><circle cx="593.0" cy="772.8" r="1.5" fill="#2044ca"/><circle cx="542.6" cy="775.0" r="1.9" fill="#1c3cbc"/><circle cx="543.3" cy="774.4" r="1.6" fill="#274dd8"/><circle cx="546.8" cy="774.9" r="1.5" fill="#2c53de"/><circle cx="548.9" cy="775.2" r="1.5" fill="#1c3cbc"/><circle cx="550.5" cy="774.8" r="1.6" fill="#274dd8"/><circle cx="552.5" cy="775.7" r="1.8" fill="#3860e4"/><circle cx="556.5" cy="775.3" r="1.8" fill="#1c3cbc"/><circle cx="557.0" cy="774.1" r="1.7" fill="#274dd8"/><circle cx="559.3" cy="774.1" r="1.4" fill="#2044ca"/><circle cx="561.6" cy="775.1" r="1.9" fill="#1c3cbc"/><circle cx="565.7" cy="775.4" r="1.6" fill="#4a70ee"/><circle cx="566.4" cy="774.2" r="1.6" fill="#4a70ee"/><circle cx="569.8" cy="774.4" r="2.1" fill="#274dd8"/><circle cx="572.4" cy="774.9" r="1.6" fill="#2c53de"/><circle cx="573.0" cy="775.7" r="1.6" fill="#2c53de"/><circle cx="576.9" cy="775.3" r="1.6" fill="#274dd8"/><circle cx="579.3" cy="774.2" r="1.5" fill="#1c3cbc"/><circle cx="581.2" cy="774.6" r="1.6" fill="#274dd8"/><circle cx="582.5" cy="774.2" r="2.1" fill="#4a70ee"/><circle cx="585.0" cy="774.2" r="1.8" fill="#274dd8"/><circle cx="586.9" cy="774.0" r="2.0" fill="#2c53de"/><circle cx="591.0" cy="774.7" r="1.8" fill="#2c53de"/><circle cx="591.7" cy="775.6" r="1.6" fill="#2044ca"/><circle cx="594.0" cy="775.3" r="2.0" fill="#2c53de"/><circle cx="545.5" cy="777.6" r="2.0" fill="#2c53de"/><circle cx="548.2" cy="777.3" r="1.7" fill="#274dd8"/><circle cx="550.9" cy="777.7" r="1.5" fill="#274dd8"/><circle cx="553.2" cy="778.2" r="2.0" fill="#4a70ee"/><circle cx="555.5" cy="776.5" r="1.4" fill="#2044ca"/><circle cx="557.8" cy="776.8" r="1.6" fill="#274dd8"/><circle cx="559.3" cy="776.8" r="1.9" fill="#3860e4"/><circle cx="562.7" cy="778.3" r="2.0" fill="#4a70ee"/><circle cx="564.0" cy="778.2" r="1.8" fill="#2c53de"/><circle cx="567.1" cy="777.3" r="1.6" fill="#274dd8"/><circle cx="568.5" cy="776.8" r="2.0" fill="#4a70ee"/><circle cx="572.2" cy="776.6" r="2.0" fill="#1c3cbc"/><circle cx="573.6" cy="776.7" r="1.9" fill="#2044ca"/><circle cx="575.4" cy="777.7" r="1.7" fill="#2044ca"/><circle cx="577.9" cy="776.3" r="1.9" fill="#3860e4"/><circle cx="581.7" cy="777.6" r="1.9" fill="#274dd8"/><circle cx="583.3" cy="776.8" r="1.7" fill="#3860e4"/><circle cx="584.8" cy="777.0" r="1.7" fill="#2044ca"/><circle cx="588.3" cy="778.0" r="1.7" fill="#1c3cbc"/><circle cx="589.4" cy="776.8" r="1.8" fill="#1c3cbc"/><circle cx="591.5" cy="776.7" r="1.4" fill="#4a70ee"/><circle cx="548.6" cy="779.2" r="1.9" fill="#2044ca"/><circle cx="550.4" cy="780.5" r="1.6" fill="#4a70ee"/><circle cx="552.6" cy="779.4" r="1.9" fill="#3860e4"/><circle cx="555.3" cy="778.9" r="2.0" fill="#274dd8"/><circle cx="557.2" cy="780.2" r="1.8" fill="#4a70ee"/><circle cx="560.3" cy="780.0" r="1.5" fill="#2c53de"/><circle cx="562.6" cy="779.2" r="1.7" fill="#2c53de"/><circle cx="565.8" cy="778.9" r="1.6" fill="#274dd8"/><circle cx="566.4" cy="779.5" r="1.5" fill="#4a70ee"/><circle cx="570.0" cy="779.1" r="1.8" fill="#2c53de"/><circle cx="572.4" cy="780.5" r="1.6" fill="#1c3cbc"/><circle cx="573.8" cy="778.7" r="2.0" fill="#274dd8"/><circle cx="577.2" cy="780.4" r="1.4" fill="#2c53de"/><circle cx="579.3" cy="779.4" r="1.8" fill="#2044ca"/><circle cx="581.5" cy="779.9" r="1.8" fill="#274dd8"/><circle cx="583.1" cy="779.6" r="1.8" fill="#1c3cbc"/><circle cx="586.1" cy="780.4" r="2.1" fill="#2c53de"/><circle cx="587.7" cy="779.8" r="1.6" fill="#4a70ee"/><circle cx="589.4" cy="780.0" r="1.6" fill="#2c53de"/><circle cx="592.2" cy="780.5" r="1.6" fill="#274dd8"/><circle cx="595.1" cy="778.7" r="1.9" fill="#2c53de"/><circle cx="548.1" cy="781.7" r="2.1" fill="#1c3cbc"/><circle cx="550.4" cy="782.4" r="1.7" fill="#1c3cbc"/><circle cx="553.3" cy="781.6" r="2.1" fill="#1c3cbc"/><circle cx="555.0" cy="781.4" r="1.4" fill="#2c53de"/><circle cx="558.6" cy="782.1" r="1.9" fill="#4a70ee"/><circle cx="560.3" cy="782.8" r="1.8" fill="#2044ca"/><circle cx="562.2" cy="782.4" r="1.6" fill="#4a70ee"/><circle cx="565.2" cy="782.3" r="1.9" fill="#4a70ee"/><circle cx="566.8" cy="782.8" r="1.9" fill="#3860e4"/><circle cx="569.7" cy="782.2" r="1.9" fill="#2c53de"/><circle cx="571.4" cy="782.6" r="1.9" fill="#2c53de"/><circle cx="574.6" cy="782.1" r="2.0" fill="#3860e4"/><circle cx="575.4" cy="782.7" r="1.8" fill="#4a70ee"/><circle cx="579.0" cy="781.5" r="1.4" fill="#274dd8"/><circle cx="581.6" cy="781.1" r="1.6" fill="#2c53de"/><circle cx="582.6" cy="781.4" r="1.9" fill="#2c53de"/><circle cx="584.5" cy="781.1" r="2.1" fill="#2c53de"/><circle cx="587.1" cy="781.6" r="1.8" fill="#2044ca"/><circle cx="589.7" cy="782.4" r="2.0" fill="#2044ca"/><circle cx="591.5" cy="781.1" r="1.5" fill="#274dd8"/><circle cx="593.8" cy="781.0" r="2.1" fill="#2c53de"/><circle cx="550.2" cy="784.4" r="1.5" fill="#1c3cbc"/><circle cx="553.2" cy="784.1" r="2.0" fill="#3860e4"/><circle cx="554.8" cy="784.5" r="1.8" fill="#2c53de"/><circle cx="556.9" cy="785.1" r="1.6" fill="#1c3cbc"/><circle cx="560.1" cy="784.7" r="1.8" fill="#3860e4"/><circle cx="562.5" cy="784.7" r="1.4" fill="#1c3cbc"/><circle cx="563.8" cy="784.2" r="1.5" fill="#1c3cbc"/><circle cx="567.5" cy="784.4" r="2.0" fill="#2c53de"/><circle cx="570.4" cy="785.2" r="2.0" fill="#2c53de"/><circle cx="571.0" cy="783.7" r="1.9" fill="#1c3cbc"/><circle cx="574.4" cy="785.1" r="2.0" fill="#2044ca"/><circle cx="576.1" cy="784.3" r="1.6" fill="#3860e4"/><circle cx="578.2" cy="783.8" r="1.6" fill="#2c53de"/><circle cx="580.2" cy="785.1" r="2.0" fill="#4a70ee"/><circle cx="582.2" cy="783.8" r="1.9" fill="#1c3cbc"/><circle cx="585.5" cy="783.9" r="1.9" fill="#3860e4"/><circle cx="587.4" cy="783.4" r="1.9" fill="#3860e4"/><circle cx="589.9" cy="784.2" r="1.6" fill="#1c3cbc"/><circle cx="592.4" cy="784.1" r="2.0" fill="#1c3cbc"/><circle cx="594.5" cy="784.6" r="1.8" fill="#1c3cbc"/><circle cx="551.5" cy="786.4" r="1.5" fill="#4a70ee"/><circle cx="553.7" cy="786.9" r="1.9" fill="#274dd8"/><circle cx="555.2" cy="787.0" r="1.5" fill="#274dd8"/><circle cx="558.3" cy="786.1" r="2.0" fill="#3860e4"/><circle cx="560.8" cy="785.8" r="1.5" fill="#4a70ee"/><circle cx="562.9" cy="786.2" r="2.0" fill="#4a70ee"/><circle cx="565.7" cy="785.7" r="1.6" fill="#1c3cbc"/><circle cx="568.0" cy="786.9" r="1.7" fill="#2c53de"/><circle cx="570.3" cy="786.7" r="1.6" fill="#4a70ee"/><circle cx="571.5" cy="785.9" r="2.0" fill="#1c3cbc"/><circle cx="573.4" cy="787.4" r="1.5" fill="#3860e4"/><circle cx="576.0" cy="786.0" r="1.6" fill="#4a70ee"/><circle cx="579.2" cy="786.9" r="2.1" fill="#3860e4"/><circle cx="580.5" cy="785.9" r="1.9" fill="#2044ca"/><circle cx="583.5" cy="786.8" r="1.4" fill="#274dd8"/><circle cx="586.2" cy="786.7" r="1.4" fill="#2044ca"/><circle cx="588.0" cy="787.3" r="2.1" fill="#2044ca"/><circle cx="589.5" cy="786.1" r="2.0" fill="#2044ca"/><circle cx="592.0" cy="786.7" r="1.7" fill="#2044ca"/><circle cx="593.9" cy="786.0" r="2.0" fill="#4a70ee"/><circle cx="553.6" cy="787.9" r="2.0" fill="#2c53de"/><circle cx="562.6" cy="788.7" r="1.6" fill="#4a70ee"/><circle cx="565.3" cy="789.5" r="1.5" fill="#2044ca"/><circle cx="566.8" cy="787.9" r="1.5" fill="#274dd8"/><circle cx="570.2" cy="787.9" r="1.7" fill="#3860e4"/><circle cx="570.8" cy="789.3" r="1.5" fill="#4a70ee"/><circle cx="574.3" cy="788.4" r="1.7" fill="#4a70ee"/><circle cx="575.9" cy="789.1" r="2.0" fill="#4a70ee"/><circle cx="578.2" cy="788.5" r="2.0" fill="#1c3cbc"/><circle cx="581.6" cy="789.0" r="1.5" fill="#3860e4"/><circle cx="584.2" cy="789.6" r="1.4" fill="#4a70ee"/><circle cx="585.3" cy="789.6" r="1.9" fill="#2c53de"/><circle cx="587.2" cy="788.9" r="2.0" fill="#1c3cbc"/><circle cx="590.5" cy="788.1" r="2.0" fill="#274dd8"/><circle cx="592.3" cy="788.9" r="1.4" fill="#2c53de"/><circle cx="594.5" cy="788.0" r="1.8" fill="#3860e4"/><circle cx="565.3" cy="791.8" r="1.7" fill="#274dd8"/><circle cx="566.5" cy="790.2" r="1.8" fill="#1c3cbc"/><circle cx="570.2" cy="792.0" r="1.8" fill="#2c53de"/><circle cx="571.8" cy="790.4" r="1.8" fill="#274dd8"/><circle cx="573.8" cy="791.3" r="1.6" fill="#2044ca"/><circle cx="575.7" cy="790.5" r="1.8" fill="#274dd8"/><circle cx="577.8" cy="790.1" r="1.6" fill="#1c3cbc"/><circle cx="580.2" cy="791.7" r="1.8" fill="#2c53de"/><circle cx="583.2" cy="790.5" r="1.8" fill="#2c53de"/><circle cx="586.4" cy="791.6" r="1.5" fill="#4a70ee"/><circle cx="588.2" cy="791.5" r="1.6" fill="#4a70ee"/><circle cx="590.9" cy="790.2" r="2.1" fill="#4a70ee"/><circle cx="593.1" cy="791.8" r="2.0" fill="#3860e4"/><circle cx="595.0" cy="790.4" r="1.7" fill="#1c3cbc"/><circle cx="564.5" cy="792.5" r="1.5" fill="#1c3cbc"/><circle cx="566.9" cy="793.1" r="1.9" fill="#4a70ee"/><circle cx="569.7" cy="793.3" r="2.0" fill="#3860e4"/><circle cx="570.7" cy="794.1" r="1.9" fill="#2044ca"/><circle cx="574.0" cy="793.8" r="1.9" fill="#4a70ee"/><circle cx="576.5" cy="792.7" r="1.9" fill="#1c3cbc"/><circle cx="579.0" cy="794.3" r="1.5" fill="#2044ca"/><circle cx="581.2" cy="793.2" r="1.6" fill="#3860e4"/><circle cx="583.5" cy="793.1" r="2.1" fill="#3860e4"/><circle cx="585.6" cy="793.7" r="1.6" fill="#2c53de"/><circle cx="588.6" cy="794.0" r="1.4" fill="#2044ca"/><circle cx="590.7" cy="793.3" r="1.6" fill="#3860e4"/><circle cx="593.2" cy="793.1" r="1.8" fill="#2044ca"/><circle cx="595.0" cy="793.4" r="1.6" fill="#4a70ee"/><circle cx="564.9" cy="796.7" r="1.9" fill="#2c53de"/><circle cx="566.9" cy="795.1" r="1.9" fill="#1c3cbc"/><circle cx="569.2" cy="794.9" r="2.0" fill="#2c53de"/><circle cx="571.9" cy="796.7" r="1.4" fill="#274dd8"/><circle cx="573.3" cy="794.8" r="1.6" fill="#1c3cbc"/><circle cx="576.5" cy="794.9" r="1.5" fill="#2c53de"/><circle cx="578.0" cy="795.4" r="2.1" fill="#2c53de"/><circle cx="580.6" cy="796.7" r="1.7" fill="#4a70ee"/><circle cx="583.0" cy="795.6" r="1.7" fill="#274dd8"/><circle cx="586.5" cy="796.1" r="1.5" fill="#2c53de"/><circle cx="588.6" cy="796.3" r="1.8" fill="#1c3cbc"/><circle cx="589.2" cy="795.8" r="1.9" fill="#274dd8"/><circle cx="592.9" cy="795.8" r="2.0" fill="#274dd8"/><circle cx="567.7" cy="798.7" r="2.1" fill="#1c3cbc"/><circle cx="569.0" cy="798.3" r="1.8" fill="#3860e4"/><circle cx="571.4" cy="798.2" r="1.8" fill="#2044ca"/><circle cx="574.7" cy="799.0" r="1.7" fill="#274dd8"/><circle cx="575.6" cy="798.5" r="1.8" fill="#2044ca"/><circle cx="578.8" cy="797.9" r="2.1" fill="#274dd8"/><circle cx="581.1" cy="797.3" r="1.7" fill="#274dd8"/><circle cx="583.4" cy="797.9" r="2.0" fill="#2044ca"/><circle cx="584.6" cy="797.9" r="1.7" fill="#274dd8"/><circle cx="587.8" cy="798.5" r="1.6" fill="#1c3cbc"/><circle cx="589.6" cy="798.6" r="1.5" fill="#3860e4"/><circle cx="573.7" cy="799.6" r="2.1" fill="#4a70ee"/><circle cx="577.0" cy="799.8" r="1.6" fill="#274dd8"/><circle cx="578.0" cy="801.1" r="1.8" fill="#274dd8"/><circle cx="581.1" cy="800.4" r="2.0" fill="#4a70ee"/><circle cx="582.6" cy="800.1" r="1.7" fill="#2044ca"/><circle cx="579.5" cy="801.7" r="1.4" fill="#3860e4"/><circle cx="580.0" cy="802.6" r="1.9" fill="#2c53de"/>
<circle cx="589.4" cy="773.9" r="1.3" fill="#f7941d"/><circle cx="590.5" cy="773.9" r="1.3" fill="#f7941d"/><circle cx="591.6" cy="773.9" r="1.3" fill="#f7941d"/><circle cx="592.7" cy="773.9" r="1.3" fill="#f7941d"/><circle cx="593.8" cy="773.9" r="1.3" fill="#f7941d"/><circle cx="588.9" cy="774.8" r="1.3" fill="#f7941d"/><circle cx="590.0" cy="774.8" r="1.3" fill="#f7941d"/><circle cx="591.1" cy="774.8" r="1.3" fill="#f7941d"/><circle cx="592.2" cy="774.8" r="1.3" fill="#f7941d"/><circle cx="593.3" cy="774.8" r="1.3" fill="#f7941d"/><circle cx="594.4" cy="774.8" r="1.3" fill="#f7941d"/><circle cx="588.3" cy="775.8" r="1.3" fill="#f7941d"/><circle cx="589.4" cy="775.8" r="1.3" fill="#f7941d"/><circle cx="590.5" cy="775.8" r="1.3" fill="#f7941d"/><circle cx="591.6" cy="775.8" r="1.3" fill="#f7941d"/><circle cx="592.7" cy="775.8" r="1.3" fill="#f7941d"/><circle cx="593.8" cy="775.8" r="1.3" fill="#f7941d"/><circle cx="594.9" cy="775.8" r="1.3" fill="#f7941d"/><circle cx="596.0" cy="775.8" r="1.3" fill="#f7941d"/><circle cx="587.8" cy="776.7" r="1.3" fill="#f7941d"/><circle cx="588.9" cy="776.7" r="1.3" fill="#f7941d"/><circle cx="590.0" cy="776.7" r="1.3" fill="#f7941d"/><circle cx="591.1" cy="776.7" r="1.3" fill="#f7941d"/><circle cx="592.2" cy="776.7" r="1.3" fill="#f7941d"/><circle cx="593.3" cy="776.7" r="1.3" fill="#f7941d"/><circle cx="594.4" cy="776.7" r="1.3" fill="#f7941d"/><circle cx="595.5" cy="776.7" r="1.3" fill="#f7941d"/><circle cx="596.6" cy="776.7" r="1.3" fill="#f7941d"/><circle cx="588.3" cy="777.7" r="1.3" fill="#f7941d"/><circle cx="589.4" cy="777.7" r="1.3" fill="#f7941d"/><circle cx="590.5" cy="777.7" r="1.3" fill="#f7941d"/><circle cx="591.6" cy="777.7" r="1.3" fill="#f7941d"/><circle cx="592.7" cy="777.7" r="1.3" fill="#f7941d"/><circle cx="593.8" cy="777.7" r="1.3" fill="#f7941d"/><circle cx="594.9" cy="777.7" r="1.3" fill="#f7941d"/><circle cx="596.0" cy="777.7" r="1.3" fill="#f7941d"/><circle cx="597.1" cy="777.7" r="1.3" fill="#f7941d"/><circle cx="587.8" cy="778.6" r="1.3" fill="#f7941d"/><circle cx="588.9" cy="778.6" r="1.3" fill="#f7941d"/><circle cx="590.0" cy="778.6" r="1.3" fill="#f7941d"/><circle cx="591.1" cy="778.6" r="1.3" fill="#f7941d"/><circle cx="592.2" cy="778.6" r="1.3" fill="#f7941d"/><circle cx="593.3" cy="778.6" r="1.3" fill="#f7941d"/><circle cx="594.4" cy="778.6" r="1.3" fill="#f7941d"/><circle cx="595.5" cy="778.6" r="1.3" fill="#f7941d"/><circle cx="596.6" cy="778.6" r="1.3" fill="#f7941d"/><circle cx="597.7" cy="778.6" r="1.3" fill="#f7941d"/><circle cx="587.2" cy="779.6" r="1.3" fill="#f7941d"/><circle cx="588.3" cy="779.6" r="1.3" fill="#f7941d"/><circle cx="589.4" cy="779.6" r="1.3" fill="#f7941d"/><circle cx="590.5" cy="779.6" r="1.3" fill="#f7941d"/><circle cx="591.6" cy="779.6" r="1.3" fill="#f7941d"/><circle cx="592.7" cy="779.6" r="1.3" fill="#f7941d"/><circle cx="593.8" cy="779.6" r="1.3" fill="#f7941d"/><circle cx="594.9" cy="779.6" r="1.3" fill="#f7941d"/><circle cx="596.0" cy="779.6" r="1.3" fill="#f7941d"/><circle cx="597.1" cy="779.6" r="1.3" fill="#f7941d"/><circle cx="587.8" cy="780.6" r="1.3" fill="#f7941d"/><circle cx="588.9" cy="780.6" r="1.3" fill="#f7941d"/><circle cx="590.0" cy="780.6" r="1.3" fill="#f7941d"/><circle cx="591.1" cy="780.6" r="1.3" fill="#f7941d"/><circle cx="592.2" cy="780.6" r="1.3" fill="#f7941d"/><circle cx="593.3" cy="780.6" r="1.3" fill="#f7941d"/><circle cx="594.4" cy="780.6" r="1.3" fill="#f7941d"/><circle cx="587.2" cy="781.5" r="1.3" fill="#f7941d"/><circle cx="588.3" cy="781.5" r="1.3" fill="#f7941d"/><circle cx="589.4" cy="781.5" r="1.3" fill="#f7941d"/><circle cx="590.5" cy="781.5" r="1.3" fill="#f7941d"/><circle cx="592.7" cy="781.5" r="1.3" fill="#f7941d"/><circle cx="593.8" cy="781.5" r="1.3" fill="#f7941d"/><circle cx="586.7" cy="782.5" r="1.3" fill="#f7941d"/><circle cx="587.8" cy="782.5" r="1.3" fill="#f7941d"/><circle cx="588.9" cy="782.5" r="1.3" fill="#f7941d"/><circle cx="590.0" cy="782.5" r="1.3" fill="#f7941d"/><circle cx="593.3" cy="782.5" r="1.3" fill="#f7941d"/><circle cx="594.4" cy="782.5" r="1.3" fill="#f7941d"/><circle cx="586.1" cy="783.4" r="1.3" fill="#f7941d"/><circle cx="587.2" cy="783.4" r="1.3" fill="#f7941d"/><circle cx="588.3" cy="783.4" r="1.3" fill="#f7941d"/><circle cx="589.4" cy="783.4" r="1.3" fill="#f7941d"/><circle cx="593.8" cy="783.4" r="1.3" fill="#f7941d"/><circle cx="594.9" cy="783.4" r="1.3" fill="#f7941d"/><circle cx="586.7" cy="784.4" r="1.3" fill="#f7941d"/><circle cx="587.8" cy="784.4" r="1.3" fill="#f7941d"/><circle cx="593.3" cy="784.4" r="1.3" fill="#f7941d"/><circle cx="594.4" cy="784.4" r="1.3" fill="#f7941d"/><circle cx="593.8" cy="785.3" r="1.3" fill="#f7941d"/><circle cx="594.9" cy="785.3" r="1.3" fill="#f7941d"/><circle cx="594.4" cy="786.3" r="1.3" fill="#f7941d"/><circle cx="595.5" cy="786.3" r="1.3" fill="#f7941d"/><circle cx="594.9" cy="787.3" r="1.3" fill="#f7941d"/><circle cx="596.0" cy="787.3" r="1.3" fill="#f7941d"/><circle cx="595.5" cy="788.2" r="1.3" fill="#f7941d"/><circle cx="596.0" cy="789.2" r="1.3" fill="#f7941d"/><circle cx="596.6" cy="790.1" r="1.3" fill="#f7941d"/><circle cx="597.1" cy="791.1" r="1.3" fill="#f7941d"/><circle cx="591.5" cy="773.6" r="0.9" fill="#f7941d"/><circle cx="594.1" cy="774.0" r="0.9" fill="#f7941d"/><circle cx="589.6" cy="774.6" r="1.0" fill="#f08a12"/><circle cx="591.5" cy="774.3" r="0.8" fill="#f7941d"/><circle cx="592.5" cy="776.1" r="1.2" fill="#f7941d"/><circle cx="593.8" cy="775.5" r="0.9" fill="#f7941d"/><circle cx="596.8" cy="776.0" r="1.1" fill="#f7941d"/><circle cx="588.2" cy="775.9" r="1.1" fill="#f7941d"/><circle cx="588.3" cy="776.9" r="1.1" fill="#f7941d"/><circle cx="590.2" cy="777.4" r="1.0" fill="#f7941d"/><circle cx="591.7" cy="776.6" r="0.9" fill="#f7941d"/><circle cx="593.2" cy="777.2" r="1.1" fill="#f08a12"/><circle cx="596.4" cy="777.1" r="0.9" fill="#f7941d"/><circle cx="596.5" cy="776.5" r="1.1" fill="#f7941d"/><circle cx="587.5" cy="779.3" r="1.1" fill="#f08a12"/><circle cx="589.3" cy="778.0" r="0.9" fill="#f08a12"/><circle cx="590.5" cy="778.1" r="1.0" fill="#f08a12"/><circle cx="593.4" cy="778.6" r="1.1" fill="#f7941d"/><circle cx="594.0" cy="778.2" r="1.1" fill="#f7941d"/><circle cx="594.7" cy="777.9" r="0.8" fill="#f08a12"/><circle cx="597.6" cy="778.9" r="1.0" fill="#f7941d"/><circle cx="587.3" cy="780.3" r="1.1" fill="#f7941d"/><circle cx="589.6" cy="779.9" r="0.8" fill="#f7941d"/><circle cx="591.3" cy="779.4" r="0.9" fill="#f7941d"/><circle cx="592.7" cy="780.3" r="1.1" fill="#f08a12"/><circle cx="593.1" cy="780.0" r="0.9" fill="#f7941d"/><circle cx="594.7" cy="780.9" r="1.0" fill="#f08a12"/><circle cx="586.8" cy="780.6" r="0.9" fill="#f7941d"/><circle cx="588.3" cy="782.3" r="1.0" fill="#f7941d"/><circle cx="588.5" cy="780.9" r="1.1" fill="#f08a12"/><circle cx="590.1" cy="781.1" r="1.2" fill="#f7941d"/><circle cx="593.9" cy="780.9" r="1.1" fill="#f7941d"/><circle cx="585.0" cy="783.6" r="0.8" fill="#f7941d"/><circle cx="585.7" cy="783.5" r="1.0" fill="#f7941d"/><circle cx="587.0" cy="783.3" r="1.0" fill="#f7941d"/><circle cx="588.8" cy="782.5" r="1.1" fill="#f7941d"/><circle cx="594.3" cy="783.4" r="1.0" fill="#f7941d"/><circle cx="584.3" cy="784.4" r="0.9" fill="#f08a12"/><circle cx="588.2" cy="784.3" r="1.1" fill="#f7941d"/><circle cx="589.2" cy="783.8" r="1.1" fill="#f7941d"/><circle cx="593.8" cy="785.3" r="0.8" fill="#f7941d"/><circle cx="594.1" cy="785.8" r="1.0" fill="#f7941d"/><circle cx="595.8" cy="786.5" r="0.9" fill="#f7941d"/><circle cx="596.3" cy="787.7" r="1.2" fill="#f7941d"/><circle cx="595.9" cy="788.8" r="0.9" fill="#f08a12"/><circle cx="596.6" cy="790.5" r="1.1" fill="#f08a12"/>
<circle cx="106.2" cy="428.0" r="3.1" fill="none" stroke="#3c4660" stroke-width="0.85"/>
<circle cx="106.2" cy="467.9" r="3.1" fill="none" stroke="#3c4660" stroke-width="0.85"/>
<circle cx="1319.1" cy="874.8" r="13.5" fill="none" stroke="#1b2a4a" stroke-width="2.5"/>
<path d="M1305.73,876.68 A13.5,13.5 0 0 1 1317.22,861.43" fill="none" stroke="#97c95c" stroke-width="2.8"/>
<path d="M1307.85,877.19 L1303.94,878.02" stroke="#fff" stroke-width="1.2"/>
<path d="M1318.30,863.33 L1318.02,859.34" stroke="#fff" stroke-width="1.2"/>
<rect x="1291.0" y="869.4" width="1.50" height="15.40" fill="#1a2238"/>
</svg>
<div class="txt">
<h1 id="t1" class="t title" style="left:74.30px;top:205px;font-size:34.1px;line-height:40px;">Degrader Platform Uniquely Enables Expansion into Induced Proximity</h1>
<h2 id="t2" class="t h" style="left:2.00px;top:312px;font-size:19.75px;line-height:20px;width:288.80px;text-align:center;">Proprietary<br>E3 Ligase Libraries</h2>
<h2 id="t3" class="t h" style="left:131.20px;top:302px;font-size:19.75px;line-height:20px;width:500.00px;text-align:center;">Computational<br>Chemistry</h2>
<div id="t4" class="t sub" style="left:261.20px;top:345px;font-size:17.0px;line-height:20px;width:240.00px;text-align:center;">(ML, AI, Virtual Screens)</div>
<h2 id="t5" class="t h" style="left:2.00px;top:505px;font-size:19.75px;line-height:20px;width:288.80px;text-align:center;">Linker Toolkit</h2>
<h2 id="t6" class="t h" style="left:131.20px;top:505px;font-size:19.75px;line-height:20px;width:500.00px;text-align:center;">Binder Discovery</h2>
<h2 id="t7" class="t h" style="left:20.30px;top:747px;font-size:19.75px;line-height:20px;width:500.00px;text-align:center;">Privileged Collection of Handles</h2>
<h2 id="t8" class="t h" style="left:854.20px;top:321px;font-size:19.75px;line-height:20px;width:500.00px;text-align:center;">Mechanism and Kinetics</h2>
<h2 id="t9" class="t h" style="left:747.00px;top:573px;font-size:19.75px;line-height:20px;width:500.00px;text-align:center;">Exploratory Biology</h2>
<h2 id="t10" class="t h" style="left:1107.40px;top:565px;font-size:19.75px;line-height:20px;width:255.60px;text-align:center;"><i>In vivo</i> Validation</h2>
<div id="t11" class="t sub" style="left:1115.20px;top:588px;font-size:17.0px;line-height:20px;width:240.00px;text-align:center;">(Efficacy and Safety)</div>
<h2 id="t12" class="t h" style="left:859.00px;top:750px;font-size:19.75px;line-height:20px;width:500.00px;text-align:center;">Proprietary Formulation &amp;<br>Delivery Platform</h2>
<ul id="t13" class="t b " style="left:65.10px;top:377px;font-size:15.57px;line-height:20px;--d:12.00px;--y:7.79px"><li>Proprietary E3 ligase<br>binders</li></ul>
<ul id="t14" class="t b sub2" style="left:120.90px;top:417px;font-size:15.57px;line-height:20px;--d:14.70px;--y:7.79px"><li>~ 15 -17 in<br>internal library</li><li>UBR5</li></ul>
<ul id="t15" class="t b " style="left:299.80px;top:395px;font-size:15.57px;line-height:20px;--d:11.90px;--y:7.79px"><li>Structural prediction/<br>docking</li></ul>
<ul id="t16" class="t b " style="left:65.10px;top:577px;font-size:15.57px;line-height:20px;--d:12.00px;--y:7.79px"><li>Well-developed toolkit</li><li>Flexibility- rigidity</li><li>Charge</li><li>Hydrophobicity</li></ul>
<ul id="t17" class="t b " style="left:299.80px;top:577px;font-size:15.57px;line-height:20px;--d:11.90px;--y:7.79px"><li>Commercial and<br>proprietary covalent and<br>fragment screening<br>libraries</li><li>Target binders</li></ul>
<ul id="t18" class="t b " style="left:71.60px;top:805px;font-size:17.08px;line-height:22px;--d:11.70px;--y:8.05px"><li>BAF complex subunits, CBP, EP300</li></ul>
<ul id="t19" class="t b " style="left:918.00px;top:385px;font-size:15.57px;line-height:20px;--d:12.20px;--y:7.79px"><li>Specificity/Selectivity (global proteomics)</li><li>Kinetics (Dmax/DC50)</li><li>Cooperativity (e.g., ternary complex)</li><li>Permeability</li><li>MoA characterization</li><li>Cellular and permeability assays</li></ul>
<ul id="t20" class="t b " style="left:914.00px;top:627px;font-size:15.57px;line-height:20px;--d:11.20px;--y:7.79px"><li><i>In Vitro</i> efficacy</li><li>Indication selection</li><li>Combinations</li><li>Resistance mechanisms</li></ul>
<ul id="t21" class="t b " style="left:1159.50px;top:627px;font-size:15.57px;line-height:20px;--d:11.70px;--y:7.79px"><li><i>In Vivo</i> models</li><li>PK/PD determination,<br>modeling and dose<br>prediction</li></ul>
<ul id="t22" class="t b " style="left:919.30px;top:815px;font-size:17.08px;line-height:22px;--d:12.00px;--y:8.05px"><li>Oral, IV and LAI formulation for drug delivery</li></ul>
<h2 id="t23" class="t h" style="left:552.20px;top:374px;font-size:18.2px;line-height:20px;width:300.00px;text-align:center;">Degrader<br>Design</h2>
<h2 id="t24" class="t h" style="left:496.50px;top:495px;font-size:18.2px;line-height:20px;width:300.00px;text-align:center;">Degrader<br>Optimization</h2>
<h2 id="t25" class="t h" style="left:552.20px;top:609px;font-size:18.2px;line-height:20px;width:300.00px;text-align:center;">Degrader<br>Development</h2>
<h2 id="t26" class="t h" style="left:674.00px;top:762px;font-size:18.2px;line-height:24px;">Best-in-Class<br>Induced Proximity<br>Modulator</h2>
<div id="t27" class="t pg" style="left:1265.60px;top:870px;font-size:11.4px;line-height:14px;">60</div>
<div id="t28" class="t logo" style="left:34.60px;top:849px;font-size:20.6px;line-height:22px;">FOGHORN<span class="reg">&reg;</span></div>
<div id="t29" class="t logo2" style="left:51.00px;top:871px;font-size:9.7px;line-height:10px;">THERAPEUTICS</div>
</div>
<svg class="fg" width="1365" height="1055" viewBox="0 0 1365 1055">
<path d="M54.26,853.55 A6.5,6.5 0 0 1 61.47,861.02" fill="none" stroke="#ffffff" stroke-width="4.6" stroke-linecap="butt"/>
<path d="M61.42,861.01 A6.45,6.45 0 1 1 54.26,853.60" fill="none" stroke="#0e566a" stroke-width="2.4" stroke-linecap="butt"/>
<path d="M56.17,853.65 A6.45,6.45 0 0 1 61.28,858.33" fill="none" stroke="#8cc63f" stroke-width="2.4" stroke-linecap="butt"/>
<path d="M103.40,866.44 A6.5,6.5 0 0 1 96.19,858.43" fill="none" stroke="#ffffff" stroke-width="4.6" stroke-linecap="butt"/>
<path d="M96.24,858.44 A6.45,6.45 0 1 1 103.40,866.39" fill="none" stroke="#0e566a" stroke-width="2.4" stroke-linecap="butt"/>
<path d="M100.83,866.23 A6.45,6.45 0 0 1 96.27,861.67" fill="none" stroke="#5fb4cc" stroke-width="2.4" stroke-linecap="butt"/>
</svg>
</body></html>
